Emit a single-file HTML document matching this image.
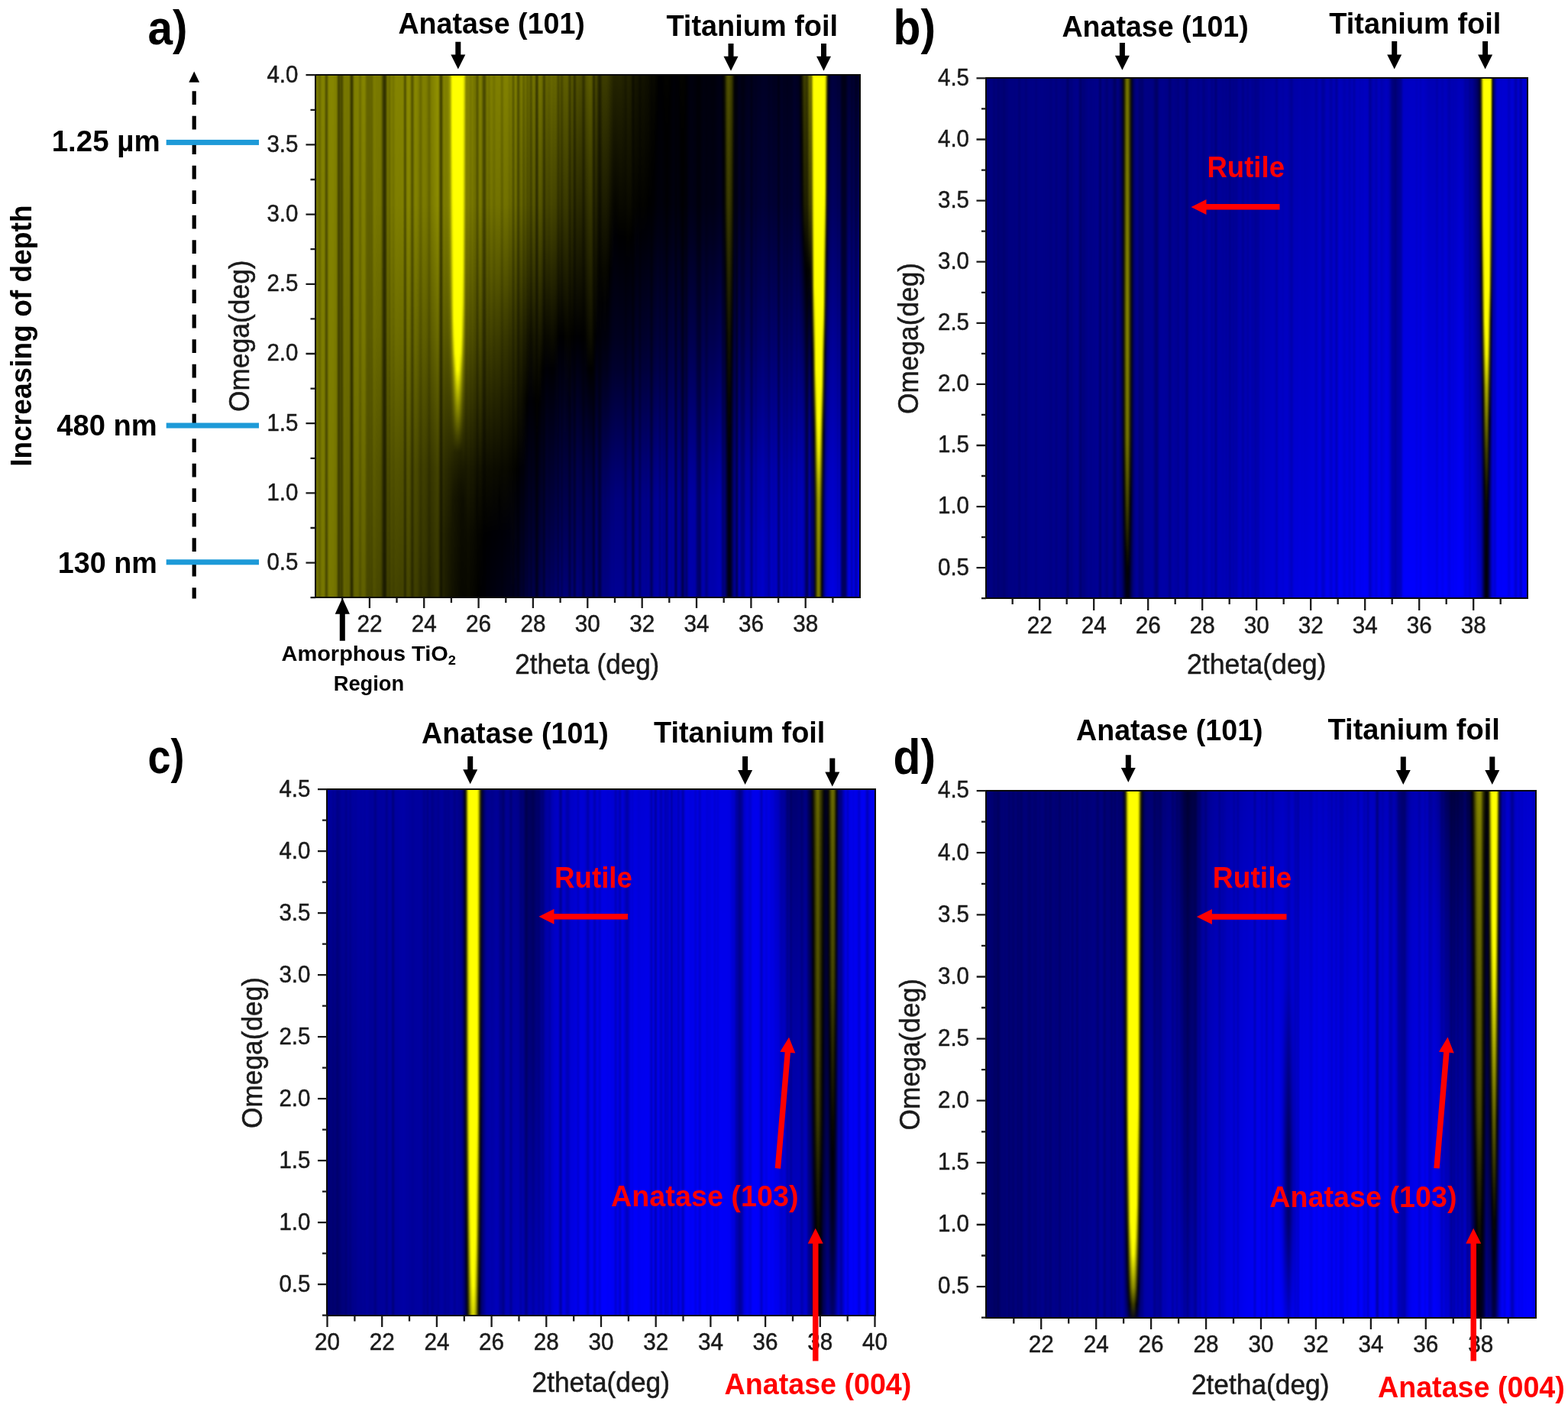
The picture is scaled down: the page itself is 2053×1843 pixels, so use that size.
<!DOCTYPE html><html><head><meta charset="utf-8"><title>XRD maps</title><style>
html,body{margin:0;padding:0;background:#fff}
body{width:2053px;height:1843px;position:relative;overflow:hidden}
.hm{position:absolute;display:flex;overflow:hidden}
.hm u{display:flex;position:absolute;left:-4px;top:-4px;right:-4px;bottom:-4px;filter:blur(1px);text-decoration:none}
.hm i{display:block;flex:none;width:2px;height:100%}
.hm b{display:block;position:absolute;left:4px;top:0;right:4px;height:100%}
svg{position:absolute;left:0;top:0}
text{font-family:"Liberation Sans",sans-serif}
.b{font-weight:bold}
</style></head><body>
<div class="hm" style="left:413px;top:98px;width:713px;height:684px"><u><i style="background:linear-gradient(#797900,#707000)"></i><i style="background:linear-gradient(#797900,#707000)"></i><i style="background:linear-gradient(#797900,#707000)"></i><i style="background:linear-gradient(#7a7a00,#707000)"></i><i style="background:linear-gradient(#7c7c00,#727200)"></i><i style="background:linear-gradient(#7f7f00,#747400)"></i><i style="background:linear-gradient(#828200,#767600)"></i><i style="background:linear-gradient(#838300,#770)"></i><i style="background:linear-gradient(#838300,#767600)"></i><i style="background:linear-gradient(#848400,#770)"></i><i style="background:linear-gradient(#858500,#770)"></i><i style="background:linear-gradient(#868600,#787800)"></i><i style="background:linear-gradient(#878700,#770)"></i><i style="background:linear-gradient(#868600,#767600)"></i><i style="background:linear-gradient(#838300,#737300)"></i><i style="background:linear-gradient(#818100,#6f6f00)"></i><i style="background:linear-gradient(#7e7e00,#6c6c00)"></i><i style="background:linear-gradient(#7d7d00,#6b6b00)"></i><i style="background:linear-gradient(#7d7d00,#696900)"></i><i style="background:linear-gradient(#7b7b00,#676700)"></i><i style="background:linear-gradient(#7a7a00,#656500)"></i><i style="background:linear-gradient(#797900,#626200)"></i><i style="background:linear-gradient(#787800,#606000)"></i><i style="background:linear-gradient(#797900,#606000)"></i><i style="background:linear-gradient(#7b7b00,#616100)"></i><i style="background:linear-gradient(#7d7d00,#626200)"></i><i style="background:linear-gradient(#7f7f00,#757500,#626200)"></i><i style="background:linear-gradient(#808000,#757500,#626200)"></i><i style="background:linear-gradient(#808000,#757500,#616100)"></i><i style="background:linear-gradient(#818100,#757500,#616100)"></i><i style="background:linear-gradient(#828200,#767600,#606000)"></i><i style="background:linear-gradient(#838300,#767600,#606000)"></i><i style="background:linear-gradient(#848400,#767600,#5f5f00)"></i><i style="background:linear-gradient(#848400,#767600,#5e5e00)"></i><i style="background:linear-gradient(#858500,#770,#5e5e00)"></i><i style="background:linear-gradient(#868600,#787800,#5e5e00)"></i><i style="background:linear-gradient(#878700,#848400,#787800,#696900,#5d5d00)"></i><i style="background:linear-gradient(#880,#787800,#5d5d00)"></i><i style="background:linear-gradient(#868600,#767600,#5a5a00)"></i><i style="background:linear-gradient(#828200,#727200,#550)"></i><i style="background:linear-gradient(#7e7e00,#7b7b00,#6d6d00,#5c5c00,#4f4f00)"></i><i style="background:linear-gradient(#7a7a00,#770,#696900,#575700,#4a4a00)"></i><i style="background:linear-gradient(#797900,#757500,#676700,#550,#474700)"></i><i style="background:linear-gradient(#797900,#757500,#676700,#545400,#464600)"></i><i style="background:linear-gradient(#797900,#757500,#660,#525200,#454500)"></i><i style="background:linear-gradient(#787800,#757500,#660,#515100,#434300)"></i><i style="background:linear-gradient(#787800,#747400,#656500,#505000,#424200)"></i><i style="background:linear-gradient(#787800,#747400,#656500,#4f4f00,#414100)"></i><i style="background:linear-gradient(#7a7a00,#757500,#656500,#4f4f00,#414100)"></i><i style="background:linear-gradient(#7d7d00,#787800,#686800,#525200,#424200)"></i><i style="background:linear-gradient(#818100,#7c7c00,#6b6b00,#545400,#454500)"></i><i style="background:linear-gradient(#848400,#7f7f00,#6e6e00,#575700,#474700)"></i><i style="background:linear-gradient(#858500,#808000,#6f6f00,#575700,#474700)"></i><i style="background:linear-gradient(#858500,#808000,#6e6e00,#565600,#454500)"></i><i style="background:linear-gradient(#858500,#7f7f00,#6e6e00,#545400,#440)"></i><i style="background:linear-gradient(#848400,#7f7f00,#6d6d00,#535300,#424200)"></i><i style="background:linear-gradient(#848400,#7e7e00,#6c6c00,#525200,#414100)"></i><i style="background:linear-gradient(#848400,#7e7e00,#6b6b00,#515100,#404000)"></i><i style="background:linear-gradient(#848400,#7f7f00,#6b6b00,#505000,#414100)"></i><i style="background:linear-gradient(#868600,#818100,#6c6c00,#515100,#424200)"></i><i style="background:linear-gradient(#880,#838300,#6e6e00,#525200,#434300)"></i><i style="background:linear-gradient(#8a8a00,#848400,#6f6f00,#535300,#440)"></i><i style="background:linear-gradient(#8a8a00,#858500,#6f6f00,#535300,#440)"></i><i style="background:linear-gradient(#8a8a00,#858500,#6e6e00,#525200,#434300)"></i><i style="background:linear-gradient(#898900,#848400,#6d6d00,#505000,#414100)"></i><i style="background:linear-gradient(#880,#838300,#6b6b00,#4e4e00,#404000)"></i><i style="background:linear-gradient(#878700,#828200,#6a6a00,#4c4c00,#3e3e00)"></i><i style="background:linear-gradient(#878700,#818100,#696900,#4b4b00,#3d3d00)"></i><i style="background:linear-gradient(#868600,#818100,#676700,#494900,#3c3c00)"></i><i style="background:linear-gradient(#848400,#7f7f00,#656500,#474700,#3a3a00)"></i><i style="background:linear-gradient(#828200,#7d7d00,#636300,#440,#373700)"></i><i style="background:linear-gradient(#818100,#7b7b00,#606000,#414100,#353500)"></i><i style="background:linear-gradient(#808000,#7b7b00,#5f5f00,#3f3f00,#330)"></i><i style="background:linear-gradient(#808000,#7a7a00,#5e5e00,#3e3e00,#323200)"></i><i style="background:linear-gradient(#7f7f00,#7a7a00,#5e5e00,#3d3d00,#303000)"></i><i style="background:linear-gradient(#7f7f00,#7a7a00,#5d5d00,#3b3b00,#2e2e00)"></i><i style="background:linear-gradient(#7f7f00,#7a7a00,#5c5c00,#393900,#2c2c00)"></i><i style="background:linear-gradient(#7f7f00,#797900,#5c5c00,#383800,#2b2b00)"></i><i style="background:linear-gradient(#818100,#7b7b00,#5d5d00,#383800,#2b2b00)"></i><i style="background:linear-gradient(#858500,#808000,#616100,#3b3b00,#2e2e00)"></i><i style="background:linear-gradient(#8b8b00,#858500,#660,#3f3f00,#323200)"></i><i style="background:linear-gradient(#8f8f00,#8a8a00,#6a6a00,#424200,#343400)"></i><i style="background:linear-gradient(#919100,#8e8e00,#8c8c00,#7d7d00,#6c6c00,#585800,#434300,#383800,#353500)"></i><i style="background:linear-gradient(#8f8f00,#8c8c00,#8a8a00,#7b7b00,#696900,#550,#404000,#353500,#313100)"></i><i style="background:linear-gradient(#8a8a00,#880,#858500,#767600,#656500,#505000,#3a3a00,#2f2f00,#2b2b00)"></i><i style="background:linear-gradient(#858500,#828200,#808000,#707000,#5f5f00,#4a4a00,#330,#282800,#242400)"></i><i style="background:linear-gradient(#818100,#7e7e00,#7b7b00,#6c6c00,#5a5a00,#440,#2d2d00,#220,#1e1e00)"></i><i style="background:linear-gradient(#7f7f00,#7d7d00,#7a7a00,#6a6a00,#585800,#414100,#2a2a00,#1e1e00,#1b1b00)"></i><i style="background:linear-gradient(#828200,#7f7f00,#7c7c00,#6b6b00,#585800,#414100,#282800,#1c1c00,#191900)"></i><i style="background:linear-gradient(#8e8e00,#898900,#858500,#737300,#5d5d00,#414100,#262600,#1a1a00,#161600)"></i><i style="background:linear-gradient(#b4b400,#abab00,#a3a300,#8d8d00,#6e6e00,#440,#242400,#171700,#141400)"></i><i style="background:linear-gradient(#ff0,#ff0,#ff0,#f7f700,#ee0,#dfdf00,#cfcf00,#bebe00,#9a9a00,#6e6e00,#4f4f00,#343400,#220,#171700,#151500,#131300,#110)"></i><i style="background:linear-gradient(#ff0,#ff0,#ff0,#ff0,#ff0,#ff0,#ff0,#ff0,#ff0,#ff0,#ff0,#ff0,#ff0,#ff0,#ff0,#ff0,#ebeb00,#c6c600,#9a9a00,#7d7d00,#656500,#4f4f00,#3a3a00,#272700,#202000,#1a1a00,#151500,#151500,#141400,#131300,#121200,#110,#101000)"></i><i style="background:linear-gradient(#ff0,#ff0,#ff0,#ff0,#ff0,#ff0,#ff0,#ff0,#ff0,#ff0,#ff0,#ff0,#ff0,#ff0,#ff0,#ff0,#ff0,#ff0,#d2d200,#a6a600,#828200,#626200,#424200,#262600,#1f1f00,#181800,#141400,#131300,#121200,#110,#101000,#0f0f00,#0e0e00)"></i><i style="background:linear-gradient(#ff0,#ff0,#ff0,#ff0,#ff0,#ff0,#ff0,#ff0,#ff0,#ff0,#ff0,#ff0,#ff0,#ff0,#ff0,#ff0,#ff0,#ff0,#ff0,#c8c800,#990,#707000,#484800,#252500,#1d1d00,#171700,#121200,#110,#101000,#0f0f00,#0e0e00,#0d0d00,#0d0d00)"></i><i style="background:linear-gradient(#ff0,#ff0,#ff0,#ff0,#ff0,#ff0,#ff0,#ff0,#ff0,#ff0,#ff0,#ff0,#ff0,#ff0,#ff0,#ff0,#ff0,#ff0,#ff0,#cece00,#9e9e00,#727200,#484800,#242400,#1c1c00,#151500,#110,#101000,#0f0f00,#0e0e00,#0d0d00,#0c0c00,#0b0b00)"></i><i style="background:linear-gradient(#ff0,#ff0,#ff0,#ff0,#ff0,#ff0,#ff0,#ff0,#ff0,#ff0,#ff0,#ff0,#ff0,#ff0,#ff0,#ff0,#ff0,#ff0,#e8e800,#b4b400,#8b8b00,#660,#414100,#220,#1a1a00,#131300,#0f0f00,#0e0e00,#0d0d00,#0c0c00,#0b0b00,#0a0a00,#090900)"></i><i style="background:linear-gradient(#ff0,#ff0,#ff0,#ff0,#ff0,#ff0,#ff0,#ff0,#ff0,#ff0,#ff0,#ff0,#ff0,#ff0,#ff0,#ff0,#ff0,#e7e700,#aeae00,#8a8a00,#6c6c00,#525200,#373700,#202000,#191900,#121200,#0e0e00,#0c0c00,#0b0b00,#0a0a00,#090900,#080800,#070700)"></i><i style="background:linear-gradient(#ff0,#ff0,#ff0,#ff0,#ff0,#ff0,#fcfc00,#e7e700,#b6b600,#7a7a00,#515100,#2f2f00,#191900,#0d0d00,#0b0b00,#090900,#070700)"></i><i style="background:linear-gradient(#d7d700,#d0d000,#caca00,#c3c300,#bdbd00,#b1b100,#a2a200,#949400,#797900,#5a5a00,#414100,#2b2b00,#191900,#0e0e00,#0c0c00,#0a0a00,#070700)"></i><i style="background:linear-gradient(#9c9c00,#959500,#8f8f00,#797900,#5e5e00,#3a3a00,#1b1b00,#0d0d00,#080800)"></i><i style="background:linear-gradient(#880,#838300,#7f7f00,#6c6c00,#550,#393900,#1c1c00,#0e0e00,#090900)"></i><i style="background:linear-gradient(#838300,#7f7f00,#7b7b00,#686800,#525200,#383800,#1c1c00,#0d0d00,#090900)"></i><i style="background:linear-gradient(#818100,#7e7e00,#7a7a00,#676700,#515100,#373700,#1b1b00,#0c0c00,#070700)"></i><i style="background:linear-gradient(#818100,#7e7e00,#7a7a00,#676700,#515100,#363600,#1a1a00,#0b0b00,#060600)"></i><i style="background:linear-gradient(#818100,#7e7e00,#7a7a00,#660,#505000,#353500,#191900,#0a0a00,#050500)"></i><i style="background:linear-gradient(#818100,#7e7e00,#7a7a00,#660,#505000,#353500,#181800,#090900,#040400)"></i><i style="background:linear-gradient(#818100,#7f7f00,#7e7e00,#7c7c00,#7a7a00,#717100,#660,#5a5a00,#4f4f00,#424200,#343400,#252500,#171700,#0a0a00,#080800,#050500,#030300)"></i><i style="background:linear-gradient(#818100,#7d7d00,#797900,#656500,#4e4e00,#330,#151500,#060600,#010100)"></i><i style="background:linear-gradient(#808000,#7c7c00,#787800,#636300,#4c4c00,#313100,#141400,#040400,#000001)"></i><i style="background:linear-gradient(#7f7f00,#7b7b00,#767600,#616100,#4a4a00,#2f2f00,#121200,#030300,#000004)"></i><i style="background:linear-gradient(#7e7e00,#7a7a00,#757500,#606000,#484800,#2d2d00,#101000,#010100,#000006)"></i><i style="background:linear-gradient(#7e7e00,#797900,#747400,#5e5e00,#464600,#2b2b00,#0f0f00,#000001,#000008)"></i><i style="background:linear-gradient(#7e7e00,#797900,#747400,#5d5d00,#454500,#2a2a00,#0f0f00,#000001,#00000a)"></i><i style="background:linear-gradient(#7e7e00,#797900,#737300,#5d5d00,#440,#292900,#0e0e00,#000002,#00000b)"></i><i style="background:linear-gradient(#7e7e00,#797900,#737300,#5c5c00,#434300,#282800,#0e0e00,#000002,#00000c)"></i><i style="background:linear-gradient(#7f7f00,#797900,#737300,#5c5c00,#424200,#272700,#0e0e00,#000003,#00000d)"></i><i style="background:linear-gradient(#7f7f00,#797900,#737300,#5b5b00,#404000,#262600,#0d0d00,#000004,#00000e)"></i><i style="background:linear-gradient(#7f7f00,#797900,#727200,#5a5a00,#3f3f00,#252500,#0c0c00,#000005,#000010)"></i><i style="background:linear-gradient(#7f7f00,#797900,#727200,#5a5a00,#3e3e00,#252500,#0c0c00,#000005,#001)"></i><i style="background:linear-gradient(#808000,#797900,#727200,#595900,#3d3d00,#242400,#0c0c00,#000005,#000012)"></i><i style="background:linear-gradient(#808000,#797900,#727200,#595900,#3c3c00,#232300,#0b0b00,#000006,#000013)"></i><i style="background:linear-gradient(#808000,#7d7d00,#797900,#757500,#727200,#660,#585800,#494900,#3b3b00,#2e2e00,#220,#171700,#0b0b00,#000,#000007,#00000d,#000014)"></i><i style="background:linear-gradient(#808000,#797900,#727200,#575700,#3a3a00,#212100,#0a0a00,#000007,#000015)"></i><i style="background:linear-gradient(#818100,#797900,#727200,#575700,#393900,#212100,#0a0a00,#000008,#000016)"></i><i style="background:linear-gradient(#818100,#7a7a00,#727200,#575700,#383800,#202000,#0a0a00,#000008,#000017)"></i><i style="background:linear-gradient(#828200,#7a7a00,#727200,#565600,#373700,#1f1f00,#0a0a00,#000008,#000018)"></i><i style="background:linear-gradient(#828200,#797900,#717100,#550,#363600,#1e1e00,#090900,#00000a,#00001a)"></i><i style="background:linear-gradient(#828200,#797900,#707000,#545400,#353500,#1d1d00,#080800,#00000b,#00001c)"></i><i style="background:linear-gradient(#828200,#797900,#707000,#545400,#343400,#1c1c00,#070700,#00000c,#00001e)"></i><i style="background:linear-gradient(#838300,#707000,#343400,#060600,#000020)"></i><i style="background:linear-gradient(#838300,#6f6f00,#330,#050500,#000021)"></i><i style="background:linear-gradient(#838300,#6e6e00,#323200,#040400,#000024)"></i><i style="background:linear-gradient(#828200,#6d6d00,#303000,#020200,#000027)"></i><i style="background:linear-gradient(#808000,#6a6a00,#2d2d00,#000001,#00002a)"></i><i style="background:linear-gradient(#7e7e00,#676700,#2a2a00,#000004,#00002e)"></i><i style="background:linear-gradient(#7c7c00,#717100,#656500,#474700,#272700,#0f0f00,#000007,#00001c,#000032)"></i><i style="background:linear-gradient(#7c7c00,#6f6f00,#636300,#464600,#252500,#0d0d00,#000009,#00001f,#000035)"></i><i style="background:linear-gradient(#7a7a00,#6d6d00,#616100,#434300,#232300,#0a0a00,#00000b,#002,#000039)"></i><i style="background:linear-gradient(#767600,#6a6a00,#5d5d00,#3f3f00,#1e1e00,#050500,#000010,#000027,#00003f)"></i><i style="background:linear-gradient(#727200,#656500,#585800,#3a3a00,#191900,#000,#000015,#00002c,#000045)"></i><i style="background:linear-gradient(#6f6f00,#616100,#545400,#353500,#141400,#000004,#00001a,#000031,#00004a)"></i><i style="background:linear-gradient(#6d6d00,#5f5f00,#515100,#330,#110,#000007,#00001d,#000034,#00004e)"></i><i style="background:linear-gradient(#6f6f00,#606000,#525200,#330,#121200,#000007,#00001c,#000035,#00004f)"></i><i style="background:linear-gradient(#727200,#636300,#550,#363600,#141400,#000004,#00001a,#000032,#00004d)"></i><i style="background:linear-gradient(#767600,#676700,#585800,#393900,#181800,#000001,#000017,#000030,#00004b)"></i><i style="background:linear-gradient(#797900,#6a6a00,#5a5a00,#3c3c00,#1b1b00,#010100,#000015,#00002e,#000049)"></i><i style="background:linear-gradient(#7a7a00,#6a6a00,#5b5b00,#3c3c00,#1c1c00,#020200,#000016,#00002f,#00004a)"></i><i style="background:linear-gradient(#770,#686800,#585800,#3a3a00,#191900,#000001,#000019,#003,#00004e)"></i><i style="background:linear-gradient(#737300,#6b6b00,#636300,#5b5b00,#535300,#454500,#353500,#252500,#151500,#060600,#000006,#000012,#00001e,#00002b,#000038,#000046,#000054)"></i><i style="background:linear-gradient(#6e6e00,#660,#5e5e00,#565600,#4e4e00,#404000,#303000,#202000,#101000,#010100,#00000b,#000018,#000024,#000031,#00003f,#00004c,#00005a)"></i><i style="background:linear-gradient(#6a6a00,#616100,#595900,#515100,#494900,#3b3b00,#2b2b00,#1b1b00,#0b0b00,#000003,#000010,#00001d,#00002a,#000037,#004,#000052,#000060)"></i><i style="background:linear-gradient(#676700,#5f5f00,#575700,#4e4e00,#464600,#383800,#292900,#191900,#090900,#000006,#000013,#000020,#00002d,#00003a,#000048,#000056,#000064)"></i><i style="background:linear-gradient(#676700,#5f5f00,#565600,#4e4e00,#464600,#383800,#282800,#181800,#090900,#000006,#000013,#000021,#00002e,#00003c,#00004a,#000057,#000065)"></i><i style="background:linear-gradient(#686800,#606000,#575700,#4f4f00,#464600,#383800,#292900,#191900,#0a0a00,#000005,#000013,#000021,#00002e,#00003c,#00004a,#000058,#006)"></i><i style="background:linear-gradient(#696900,#616100,#585800,#505000,#474700,#393900,#2a2a00,#1a1a00,#0b0b00,#000004,#000012,#000020,#00002e,#00003c,#00004a,#000058,#006)"></i><i style="background:linear-gradient(#6a6a00,#626200,#595900,#505000,#484800,#3a3a00,#2b2b00,#1b1b00,#0c0c00,#000003,#001,#000020,#00002e,#00003c,#00004a,#000058,#006)"></i><i style="background:linear-gradient(#6a6a00,#626200,#595900,#505000,#474700,#3a3a00,#2a2a00,#1b1b00,#0c0c00,#000003,#000012,#000020,#00002f,#00003e,#00004c,#00005a,#000068)"></i><i style="background:linear-gradient(#696900,#606000,#575700,#4e4e00,#454500,#373700,#282800,#191900,#0a0a00,#000005,#000014,#000023,#000032,#000041,#00004f,#00005d,#00006b)"></i><i style="background:linear-gradient(#656500,#5c5c00,#535300,#4a4a00,#414100,#343400,#252500,#161600,#070700,#000008,#000018,#000027,#000036,#000045,#000053,#000061,#00006f)"></i><i style="background:linear-gradient(#626200,#3d3d00,#030300,#00003a,#000074)"></i><i style="background:linear-gradient(#5f5f00,#3a3a00,#000,#00003f,#000079)"></i><i style="background:linear-gradient(#5d5d00,#383800,#000002,#000041,#00007c)"></i><i style="background:linear-gradient(#5d5d00,#373700,#000001,#000042,#00007c)"></i><i style="background:linear-gradient(#5e5e00,#383800,#000,#000041,#00007a)"></i><i style="background:linear-gradient(#5f5f00,#393900,#030300,#00003f,#000078)"></i><i style="background:linear-gradient(#606000,#4d4d00,#3a3a00,#202000,#040400,#00001c,#00003e,#00005c,#000076)"></i><i style="background:linear-gradient(#5f5f00,#4c4c00,#393900,#1f1f00,#050500,#00001c,#00003f,#00005c,#000076)"></i><i style="background:linear-gradient(#5d5d00,#4a4a00,#373700,#1e1e00,#040400,#00001d,#000041,#00005e,#000078)"></i><i style="background:linear-gradient(#5b5b00,#343400,#020200,#000043,#00007a)"></i><i style="background:linear-gradient(#585800,#313100,#000,#000046,#00007c)"></i><i style="background:linear-gradient(#550,#2e2e00,#000002,#000049,#00007e)"></i><i style="background:linear-gradient(#535300,#2c2c00,#000003,#00004b,#00007f)"></i><i style="background:linear-gradient(#525200,#2b2b00,#000003,#00004b,#00007f)"></i><i style="background:linear-gradient(#535300,#2b2b00,#000002,#00004b,#00007f)"></i><i style="background:linear-gradient(#535300,#3f3f00,#2c2c00,#151500,#000001,#000024,#00004b,#000068,#00007e)"></i><i style="background:linear-gradient(#535300,#3f3f00,#2c2c00,#161600,#000,#000023,#00004b,#000067,#00007d)"></i><i style="background:linear-gradient(#525200,#3e3e00,#2b2b00,#151500,#000,#000023,#00004b,#000068,#00007d)"></i><i style="background:linear-gradient(#535300,#3f3f00,#2b2b00,#161600,#010100,#002,#00004b,#000067,#00007c)"></i><i style="background:linear-gradient(#565600,#4c4c00,#424200,#383800,#2e2e00,#242400,#1a1a00,#101000,#060600,#000009,#00001e,#003,#000047,#00005a,#000064,#00006e,#000078)"></i><i style="background:linear-gradient(#5b5b00,#515100,#474700,#3d3d00,#330,#292900,#1f1f00,#151500,#0b0b00,#000004,#000019,#00002e,#000043,#005,#00005f,#000069,#000073)"></i><i style="background:linear-gradient(#5e5e00,#545400,#4a4a00,#404000,#363600,#2c2c00,#220,#181800,#0e0e00,#000001,#000015,#00002a,#00003f,#000052,#00005b,#000065,#00006f)"></i><i style="background:linear-gradient(#5e5e00,#545400,#4b4b00,#414100,#373700,#2d2d00,#232300,#191900,#0f0f00,#000,#000015,#000029,#00003e,#000051,#00005a,#000064,#00006d)"></i><i style="background:linear-gradient(#5a5a00,#505000,#474700,#3d3d00,#330,#2a2a00,#202000,#161600,#0c0c00,#000003,#000018,#00002d,#000042,#000054,#00005e,#000067,#000070)"></i><i style="background:linear-gradient(#535300,#494900,#404000,#363600,#2d2d00,#232300,#191900,#0f0f00,#050500,#00000a,#00001e,#003,#000048,#00005b,#000064,#00006d,#000076)"></i><i style="background:linear-gradient(#4b4b00,#383800,#252500,#121200,#000002,#000026,#000050,#00006c,#00007e)"></i><i style="background:linear-gradient(#440,#313100,#1f1f00,#0b0b00,#000008,#00002c,#000056,#000072,#000084)"></i><i style="background:linear-gradient(#404000,#373700,#2d2d00,#242400,#1b1b00,#110,#080800,#000002,#00000c,#00001b,#000030,#000045,#00005a,#00006d,#000075,#00007e,#000087)"></i><i style="background:linear-gradient(#3f3f00,#2d2d00,#1a1a00,#070700,#00000c,#000030,#00005b,#000076,#000087)"></i><i style="background:linear-gradient(#3e3e00,#353500,#2c2c00,#232300,#1a1a00,#110,#070700,#000002,#00000c,#00001b,#000030,#000045,#00005a,#00006d,#000075,#00007e,#000086)"></i><i style="background:linear-gradient(#3e3e00,#353500,#2d2d00,#242400,#1b1b00,#110,#080800,#000002,#00000c,#00001b,#000030,#000045,#00005a,#00006d,#000075,#00007d,#000085)"></i><i style="background:linear-gradient(#3e3e00,#2c2c00,#1b1b00,#080800,#00000b,#00002f,#00005a,#000075,#000085)"></i><i style="background:linear-gradient(#3d3d00,#343400,#2b2b00,#232300,#1a1a00,#110,#070700,#000002,#00000c,#00001b,#000030,#000045,#00005a,#00006d,#000075,#00007d,#000085)"></i><i style="background:linear-gradient(#3a3a00,#313100,#292900,#202000,#171700,#0e0e00,#050500,#000005,#00000e,#00001d,#003,#000048,#00005d,#000070,#000078,#00007f,#000087)"></i><i style="background:linear-gradient(#343400,#242400,#131300,#000,#000013,#000037,#000062,#00007c,#00008b)"></i><i style="background:linear-gradient(#2f2f00,#262600,#1e1e00,#161600,#0d0d00,#040400,#000005,#00000f,#000018,#000027,#00003d,#000052,#000067,#00007a,#000081,#000089,#000090)"></i><i style="background:linear-gradient(#292900,#191900,#090900,#00000a,#00001d,#000041,#00006c,#000086,#000095)"></i><i style="background:linear-gradient(#262600,#1e1e00,#161600,#0e0e00,#060600,#000003,#00000d,#000016,#00001f,#00002e,#004,#000059,#00006f,#000081,#008,#000090,#000097)"></i><i style="background:linear-gradient(#252500,#1d1d00,#151500,#0d0d00,#050500,#000004,#00000d,#000016,#000020,#00002f,#004,#00005a,#00006f,#000082,#000089,#000090,#000097)"></i><i style="background:linear-gradient(#252500,#1e1e00,#161600,#0e0e00,#060600,#000003,#00000c,#000016,#00001f,#00002e,#004,#000059,#00006e,#000081,#008,#00008f,#000096)"></i><i style="background:linear-gradient(#262600,#1e1e00,#171700,#0f0f00,#080800,#000001,#00000b,#000015,#00001f,#00002e,#000043,#000058,#00006d,#000080,#000087,#00008e,#000095)"></i><i style="background:linear-gradient(#262600,#1e1e00,#171700,#101000,#090900,#000001,#00000a,#000014,#00001e,#00002d,#000043,#000058,#00006d,#00007f,#000086,#00008d,#000094)"></i><i style="background:linear-gradient(#252500,#1e1e00,#171700,#101000,#090900,#000001,#00000b,#000015,#00001f,#00002e,#000043,#000058,#00006d,#00007f,#000086,#00008d,#000094)"></i><i style="background:linear-gradient(#242400,#1d1d00,#161600,#0f0f00,#090900,#000001,#00000b,#000015,#00001f,#00002f,#004,#000059,#00006e,#000080,#000087,#00008e,#000094)"></i><i style="background:linear-gradient(#242400,#1d1d00,#161600,#101000,#090900,#000,#00000a,#000015,#00001f,#00002e,#000043,#000058,#00006d,#00007f,#000086,#00008d,#000094)"></i><i style="background:linear-gradient(#242400,#1d1d00,#171700,#110,#0a0a00,#010100,#000009,#000014,#00001e,#00002e,#000043,#000057,#00006c,#00007e,#000085,#00008c,#000093)"></i><i style="background:linear-gradient(#242400,#1e1e00,#171700,#110,#0b0b00,#020200,#000009,#000013,#00001e,#00002d,#000042,#000057,#00006c,#00007e,#000085,#00008b,#000092)"></i><i style="background:linear-gradient(#232300,#1d1d00,#171700,#110,#0b0b00,#020200,#000009,#000014,#00001f,#00002e,#000043,#000057,#00006c,#00007e,#000085,#00008b,#000092)"></i><i style="background:linear-gradient(#212100,#1b1b00,#151500,#101000,#0a0a00,#000,#00000b,#000015,#000020,#000030,#004,#000059,#00006e,#000080,#000086,#00008d,#000093)"></i><i style="background:linear-gradient(#1e1e00,#181800,#131300,#0e0e00,#080800,#000002,#00000d,#000018,#000023,#000032,#000047,#00005b,#000070,#000082,#008,#00008f,#000095)"></i><i style="background:linear-gradient(#1b1b00,#161600,#101000,#0b0b00,#060600,#000004,#00000f,#00001a,#000025,#000035,#000049,#00005e,#000072,#000084,#00008b,#000091,#000098)"></i><i style="background:linear-gradient(#181800,#0e0e00,#040400,#001,#000028,#00004c,#000075,#00008d,#00009a)"></i><i style="background:linear-gradient(#161600,#110,#0c0c00,#080800,#030300,#000007,#000012,#00001e,#00002a,#000039,#00004d,#000062,#000076,#008,#00008e,#000095,#00009b)"></i><i style="background:linear-gradient(#151500,#0c0c00,#020200,#000013,#00002a,#00004e,#007,#00008f,#00009b)"></i><i style="background:linear-gradient(#141400,#0f0f00,#0b0b00,#070700,#020200,#000007,#000013,#00001f,#00002b,#00003b,#00004f,#000063,#007,#000089,#00008f,#000095,#00009c)"></i><i style="background:linear-gradient(#131300,#0f0f00,#0b0b00,#070700,#030300,#000007,#000013,#00001f,#00002b,#00003b,#00004f,#000063,#007,#000089,#00008f,#000095,#00009b)"></i><i style="background:linear-gradient(#131300,#0f0f00,#0b0b00,#070700,#030300,#000007,#000013,#00001f,#00002b,#00003b,#00004f,#000063,#007,#000089,#00008f,#000095,#00009b)"></i><i style="background:linear-gradient(#121200,#0e0e00,#0a0a00,#060600,#020200,#000008,#000014,#000020,#00002c,#00003c,#000050,#000064,#000078,#000089,#00008f,#000095,#00009b)"></i><i style="background:linear-gradient(#110,#0d0d00,#090900,#050500,#020200,#000008,#000015,#000021,#00002d,#00003d,#000051,#000065,#000079,#00008a,#000090,#000096,#00009c)"></i><i style="background:linear-gradient(#0f0f00,#0c0c00,#080800,#040400,#000,#00000a,#000016,#002,#00002f,#00003e,#000052,#006,#00007a,#00008b,#000091,#000097,#00009d)"></i><i style="background:linear-gradient(#0e0e00,#0a0a00,#070700,#030300,#000001,#00000b,#000017,#000024,#000030,#000040,#000054,#000068,#00007c,#00008d,#000092,#000098,#00009e)"></i><i style="background:linear-gradient(#0d0d00,#090900,#050500,#020200,#000002,#00000c,#000018,#000025,#000031,#000041,#005,#000069,#00007d,#00008e,#000094,#009,#00009f)"></i><i style="background:linear-gradient(#0b0b00,#080800,#040400,#010100,#000003,#00000d,#000019,#000026,#000032,#000042,#000056,#00006a,#00007e,#00008f,#000094,#00009a,#0000a0)"></i><i style="background:linear-gradient(#0a0a00,#060600,#030300,#000001,#000004,#00000e,#00001b,#000027,#000034,#004,#000058,#00006c,#00007f,#000090,#000096,#00009b,#0000a1)"></i><i style="background:linear-gradient(#070700,#040400,#000,#000003,#000006,#001,#00001d,#00002a,#000037,#000047,#00005a,#00006e,#000082,#000093,#000098,#00009e,#0000a3)"></i><i style="background:linear-gradient(#040400,#010100,#000003,#000006,#000009,#000013,#000020,#00002d,#00003a,#00004a,#00005d,#000071,#000085,#000096,#00009b,#0000a0,#0000a6)"></i><i style="background:linear-gradient(#010100,#000002,#000005,#000008,#00000c,#000016,#000023,#000030,#00003c,#00004c,#000060,#000074,#000087,#000098,#00009d,#0000a3,#0000a8)"></i><i style="background:linear-gradient(#000,#000004,#000007,#00000a,#00000d,#000017,#000024,#000031,#00003e,#00004e,#000062,#000075,#000089,#00009a,#00009f,#0000a4,#0000a9)"></i><i style="background:linear-gradient(#000,#000003,#000007,#00000a,#00000d,#000017,#000024,#000031,#00003e,#00004e,#000062,#000075,#000089,#00009a,#00009f,#0000a4,#0000a9)"></i><i style="background:linear-gradient(#010100,#000002,#000005,#000008,#00000b,#000015,#002,#00002f,#00003c,#00004c,#000060,#000074,#000087,#000098,#00009d,#0000a2,#0000a7)"></i><i style="background:linear-gradient(#030300,#000,#000003,#000006,#000009,#000013,#000020,#00002d,#00003a,#00004a,#00005e,#000072,#000085,#000096,#00009a,#00009f,#0000a4)"></i><i style="background:linear-gradient(#050500,#020200,#000001,#000004,#000007,#001,#00001e,#00002c,#000039,#000049,#00005c,#000070,#000083,#000094,#009,#00009d,#0000a2)"></i><i style="background:linear-gradient(#050500,#020200,#000001,#000004,#000006,#001,#00001e,#00002b,#000039,#000049,#00005c,#000070,#000083,#000094,#000098,#00009d,#0000a1)"></i><i style="background:linear-gradient(#030300,#000,#000003,#000005,#000008,#000012,#000020,#00002d,#00003b,#00004b,#00005e,#000072,#000085,#000095,#00009a,#00009e,#0000a3)"></i><i style="background:linear-gradient(#000,#000003,#000005,#000008,#00000b,#000015,#000023,#000030,#00003e,#00004e,#000061,#000074,#008,#000098,#00009d,#0000a1,#0000a5)"></i><i style="background:linear-gradient(#000003,#000006,#000009,#00000b,#00000e,#000019,#000026,#000034,#000041,#000051,#000065,#000078,#00008b,#00009b,#0000a0,#0000a4,#0000a8)"></i><i style="background:linear-gradient(#000006,#000009,#00000b,#00000e,#001,#00001b,#000029,#000037,#004,#000054,#000068,#00007b,#00008e,#00009e,#0000a2,#0000a7,#0000ab)"></i><i style="background:linear-gradient(#000008,#00000a,#00000d,#000010,#000012,#00001d,#00002b,#000038,#000046,#000056,#000069,#00007c,#000090,#0000a0,#0000a4,#0000a8,#0000ac)"></i><i style="background:linear-gradient(#000006,#000009,#00000c,#00000f,#001,#00001c,#00002a,#000037,#000045,#005,#000068,#00007b,#00008f,#00009f,#0000a3,#0000a7,#0000ab)"></i><i style="background:linear-gradient(#000003,#000006,#000008,#00000b,#00000e,#000018,#000026,#000034,#000042,#000052,#000065,#000078,#00008b,#00009b,#00009f,#0000a3,#0000a7)"></i><i style="background:linear-gradient(#020200,#000001,#000004,#000006,#000009,#000014,#002,#000030,#00003e,#00004e,#000061,#000074,#000087,#000097,#00009a,#00009e,#0000a2)"></i><i style="background:linear-gradient(#050500,#020200,#000,#000003,#000006,#000010,#00001e,#00002c,#00003a,#00004b,#00005d,#000070,#000083,#000093,#000097,#00009a,#00009e)"></i><i style="background:linear-gradient(#060600,#040400,#010100,#000002,#000004,#00000f,#00001d,#00002b,#00003a,#00004a,#00005d,#00006f,#000082,#000092,#000095,#009,#00009d)"></i><i style="background:linear-gradient(#040400,#010100,#000001,#000004,#000007,#000012,#000020,#00002e,#00003c,#00004c,#00005f,#000072,#000084,#000094,#000097,#00009b,#00009e)"></i><i style="background:linear-gradient(#000,#000003,#000006,#000008,#00000b,#000016,#000024,#003,#000041,#000051,#000064,#000076,#000089,#000098,#00009c,#00009f,#0000a3)"></i><i style="background:linear-gradient(#000005,#000008,#00000b,#00000d,#000010,#00001b,#00002a,#000038,#000046,#000056,#000069,#00007b,#00008e,#00009d,#0000a1,#0000a4,#0000a7)"></i><i style="background:linear-gradient(#00000a,#00000d,#00000f,#000012,#000015,#000020,#00002e,#00003c,#00004b,#00005b,#00006d,#000080,#000092,#0000a2,#0000a5,#0000a8,#0000ab)"></i><i style="background:linear-gradient(#00000c,#00000f,#001,#000014,#000017,#002,#000030,#00003f,#00004d,#00005e,#000070,#000082,#000095,#0000a4,#0000a7,#00a,#0000ad)"></i><i style="background:linear-gradient(#00000c,#00000f,#001,#000014,#000017,#002,#000030,#00003f,#00004d,#00005e,#000070,#000082,#000095,#0000a4,#0000a7,#00a,#0000ad)"></i><i style="background:linear-gradient(#00000b,#00000d,#000010,#000013,#000015,#000021,#00002f,#00003e,#00004c,#00005d,#00006f,#000081,#000093,#0000a3,#0000a5,#0000a8,#0000ab)"></i><i style="background:linear-gradient(#000009,#00000c,#00000e,#001,#000014,#00001f,#00002e,#00003c,#00004b,#00005b,#00006e,#000080,#000092,#0000a1,#0000a4,#0000a7,#0000a9)"></i><i style="background:linear-gradient(#000008,#00000a,#00000d,#000010,#000013,#00001e,#00002d,#00003b,#00004a,#00005a,#00006d,#00007f,#000091,#0000a0,#0000a2,#0000a5,#0000a8)"></i><i style="background:linear-gradient(#000007,#00000a,#00000d,#00000f,#000012,#00001e,#00002c,#00003b,#00004a,#00005a,#00006c,#00007e,#000090,#00009f,#0000a2,#0000a5,#0000a8)"></i><i style="background:linear-gradient(#000008,#00000b,#00000d,#000010,#000013,#00001e,#00002d,#00003c,#00004b,#00005b,#00006d,#00007f,#000091,#0000a0,#0000a3,#0000a6,#0000a9)"></i><i style="background:linear-gradient(#00000a,#00000c,#00000f,#000012,#000014,#000020,#00002f,#00003d,#00004c,#00005d,#00006f,#000081,#000093,#0000a2,#0000a5,#0000a8,#0000ab)"></i><i style="background:linear-gradient(#00000b,#00000e,#000010,#000013,#000016,#000021,#000030,#00003f,#00004e,#00005e,#000070,#000083,#000095,#0000a4,#0000a7,#00a,#0000ad)"></i><i style="background:linear-gradient(#00000d,#00000f,#000012,#000015,#000017,#000023,#000032,#000041,#000050,#000060,#000072,#000084,#000096,#0000a5,#0000a9,#0000ac,#0000af)"></i><i style="background:linear-gradient(#00000d,#000010,#000013,#000015,#000018,#000024,#003,#000042,#000050,#000061,#000073,#000085,#000097,#0000a6,#00a,#0000ad,#0000b0)"></i><i style="background:linear-gradient(#00000d,#000010,#000012,#000015,#000018,#000023,#000032,#000041,#000050,#000061,#000073,#000085,#000097,#0000a6,#00a,#0000ad,#0000b0)"></i><i style="background:linear-gradient(#00000c,#00000f,#001,#000014,#000017,#002,#000031,#000040,#00004f,#000060,#000072,#000084,#000096,#0000a5,#0000a9,#0000ac,#0000b0)"></i><i style="background:linear-gradient(#00000a,#00000d,#000010,#000012,#000015,#000021,#000030,#00003f,#00004e,#00005e,#000070,#000083,#000095,#0000a4,#0000a7,#0000ab,#0000af)"></i><i style="background:linear-gradient(#000009,#00000c,#00000f,#001,#000014,#000020,#00002f,#00003e,#00004d,#00005d,#00006f,#000082,#000094,#0000a3,#0000a7,#00a,#0000ae)"></i><i style="background:linear-gradient(#000009,#00000c,#00000e,#001,#000014,#00001f,#00002e,#00003e,#00004d,#00005d,#00006f,#000081,#000093,#0000a3,#0000a7,#00a,#0000ae)"></i><i style="background:linear-gradient(#00000a,#00000d,#000010,#000012,#000015,#000021,#000030,#00003f,#00004e,#00005f,#000071,#000083,#000095,#0000a4,#0000a8,#0000ac,#0000b0)"></i><i style="background:linear-gradient(#00000d,#000010,#000012,#000015,#000018,#000023,#003,#000042,#000051,#000062,#000074,#000086,#000098,#0000a7,#0000ab,#0000af,#0000b3)"></i><i style="background:linear-gradient(#000010,#000013,#000016,#000018,#00001b,#000027,#000036,#000045,#000054,#000065,#007,#000089,#00009b,#0000ab,#0000af,#0000b3,#0000b7)"></i><i style="background:linear-gradient(#000012,#000015,#000018,#00001b,#00001d,#000029,#000038,#000048,#000057,#000067,#00007a,#00008c,#00009e,#0000ad,#0000b1,#0000b5,#0000b9)"></i><i style="background:linear-gradient(#000012,#000015,#000017,#00001a,#00001d,#000029,#000038,#000047,#000056,#000067,#000079,#00008b,#00009d,#0000ac,#0000b0,#0000b4,#0000b8)"></i><i style="background:linear-gradient(#00000a,#000010,#000016,#000031,#00004f,#000071,#000094,#0000a6,#0000af)"></i><i style="background:linear-gradient(#080800,#050500,#010100,#000002,#000006,#001,#000020,#00002f,#00003e,#00004d,#00005d,#00006d,#00007d,#00008b,#00008e,#000092,#000096)"></i><i style="background:linear-gradient(#272700,#1e1e00,#151500,#000004,#00001f,#00003b,#000056,#000065,#00006a)"></i><i style="background:linear-gradient(#4c4c00,#414100,#353500,#1e1e00,#050500,#000012,#000028,#003,#000036)"></i><i style="background:linear-gradient(#656500,#585800,#4a4a00,#343400,#1c1c00,#090900,#00000a,#000012,#000014)"></i><i style="background:linear-gradient(#616100,#535300,#464600,#303000,#181800,#040400,#00000e,#000017,#000019)"></i><i style="background:linear-gradient(#434300,#363600,#2a2a00,#141400,#000005,#00001c,#000032,#00003e,#000042)"></i><i style="background:linear-gradient(#1c1c00,#121200,#080800,#000010,#00002a,#000045,#000061,#000070,#007)"></i><i style="background:linear-gradient(#000002,#00000b,#000014,#00002c,#000047,#000065,#000085,#000097,#0000a0)"></i><i style="background:linear-gradient(#000012,#00001a,#000023,#00003b,#000057,#007,#000098,#0000ac,#0000b6)"></i><i style="background:linear-gradient(#000018,#000020,#000028,#000041,#00005c,#00007d,#00009f,#0000b3,#0000be)"></i><i style="background:linear-gradient(#000018,#000021,#000029,#000041,#00005c,#00007d,#00009f,#0000b4,#0000bf)"></i><i style="background:linear-gradient(#000017,#000020,#000028,#000040,#00005b,#00007b,#00009e,#0000b2,#0000be)"></i><i style="background:linear-gradient(#000016,#00001f,#000028,#000040,#00005a,#00007a,#00009c,#0000b1,#0000bc)"></i><i style="background:linear-gradient(#000016,#00001f,#000028,#000040,#00005a,#00007a,#00009c,#0000b1,#0000bc)"></i><i style="background:linear-gradient(#000017,#000021,#00002a,#000042,#00005b,#00007b,#00009d,#0000b2,#0000bd)"></i><i style="background:linear-gradient(#000019,#000023,#00002d,#004,#00005d,#00007d,#00009e,#0000b3,#0000bf)"></i><i style="background:linear-gradient(#00001b,#000025,#000030,#000046,#00005f,#00007e,#0000a0,#0000b5,#0000c1)"></i><i style="background:linear-gradient(#00001d,#000028,#000032,#000049,#000061,#000080,#0000a2,#0000b7,#0000c3)"></i><i style="background:linear-gradient(#00001e,#000029,#000034,#00004a,#000062,#000081,#0000a3,#0000b8,#0000c4)"></i><i style="background:linear-gradient(#00001f,#000029,#000034,#00004b,#000063,#000082,#0000a3,#0000b8,#0000c4)"></i><i style="background:linear-gradient(#00001f,#00002a,#000035,#00004c,#000064,#000083,#0000a5,#0000b9,#0000c5)"></i><i style="background:linear-gradient(#000020,#00002b,#000036,#00004d,#006,#000085,#0000a6,#0000ba,#0000c6)"></i><i style="background:linear-gradient(#000021,#00002c,#000036,#00004e,#000067,#000086,#0000a7,#00b,#0000c7)"></i><i style="background:linear-gradient(#000021,#00002c,#000037,#00004e,#000068,#000087,#0000a8,#0000bc,#0000c7)"></i><i style="background:linear-gradient(#002,#00002d,#000037,#00004f,#000069,#008,#0000a9,#0000bd,#0000c8)"></i><i style="background:linear-gradient(#000023,#00002e,#000039,#000051,#00006b,#00008a,#0000ab,#0000bf,#0000c9)"></i><i style="background:linear-gradient(#000025,#000030,#00003b,#000053,#00006e,#00008d,#0000ae,#0000c1,#0000cb)"></i><i style="background:linear-gradient(#000027,#000031,#00003c,#005,#000070,#00008f,#0000b0,#0000c3,#00c)"></i><i style="background:linear-gradient(#000027,#000032,#00003d,#000056,#000071,#000090,#0000b1,#0000c3,#0000cd)"></i><i style="background:linear-gradient(#000026,#000031,#00003c,#005,#000070,#000090,#0000b0,#0000c3,#00c)"></i><i style="background:linear-gradient(#000024,#00002e,#000039,#000053,#00006e,#00008e,#0000ae,#0000c1,#0000c9)"></i><i style="background:linear-gradient(#000021,#00002c,#000036,#000050,#00006c,#00008b,#0000ac,#0000be,#0000c6)"></i><i style="background:linear-gradient(#00001e,#000029,#000034,#00004e,#00006a,#00008a,#00a,#0000bc,#0000c4)"></i><i style="background:linear-gradient(#00001d,#000028,#003,#00004d,#00006a,#000089,#0000a9,#00b,#0000c3)"></i><i style="background:linear-gradient(#00001e,#000028,#003,#00004d,#00006a,#00008a,#00a,#0000bc,#0000c3)"></i><i style="background:linear-gradient(#00001e,#000023,#000029,#00002e,#003,#000040,#00004e,#00005d,#00006c,#00007b,#00008b,#00009b,#0000ab,#0000b9,#0000bc,#0000c0,#0000c4)"></i><i style="background:linear-gradient(#00001f,#000024,#000029,#00002f,#000034,#000040,#00004f,#00005e,#00006c,#00007c,#00008c,#00009c,#0000ac,#0000ba,#0000bd,#0000c1,#0000c4)"></i><i style="background:linear-gradient(#000020,#00002a,#000035,#000050,#00006d,#00008c,#0000ac,#0000be,#0000c5)"></i><i style="background:linear-gradient(#000020,#00002b,#000035,#000050,#00006d,#00008c,#0000ad,#0000be,#0000c5)"></i><i style="background:linear-gradient(#000020,#00002b,#000035,#00004f,#00006c,#00008c,#0000ac,#0000bd,#0000c4)"></i><i style="background:linear-gradient(#00001f,#000024,#000029,#00002e,#000034,#00003f,#00004e,#00005c,#00006b,#00007a,#00008a,#00009a,#00a,#0000b8,#00b,#0000bf,#0000c2)"></i><i style="background:linear-gradient(#00001d,#000027,#000032,#00004c,#000068,#008,#0000a8,#0000b9,#0000c0)"></i><i style="background:linear-gradient(#00001c,#000021,#000026,#00002b,#000030,#00003c,#00004a,#000058,#000067,#000076,#000086,#000096,#0000a6,#0000b4,#0000b7,#00b,#0000be)"></i><i style="background:linear-gradient(#00001b,#000020,#000026,#00002b,#000030,#00003b,#00004a,#000058,#006,#000075,#000085,#000095,#0000a5,#0000b3,#0000b6,#0000ba,#0000bd)"></i><i style="background:linear-gradient(#00001d,#000027,#000031,#00004b,#000067,#000086,#0000a6,#0000b8,#0000bf)"></i><i style="background:linear-gradient(#000021,#00002b,#000035,#00004e,#00006a,#000089,#00a,#00b,#0000c2)"></i><i style="background:linear-gradient(#000024,#00002e,#000038,#000052,#00006e,#00008d,#0000ad,#0000bf,#0000c6)"></i><i style="background:linear-gradient(#000026,#000031,#00003b,#005,#000071,#000090,#0000b1,#0000c2,#0000c9)"></i><i style="background:linear-gradient(#000024,#000029,#00002f,#000034,#000039,#000045,#000054,#000063,#000071,#000081,#000091,#0000a2,#0000b2,#0000c0,#0000c3,#0000c7,#0000ca)"></i><i style="background:linear-gradient(#00001b,#000026,#000031,#00004f,#00006e,#000090,#0000b1,#0000c3,#0000ca)"></i><i style="background:linear-gradient(#000008,#00000f,#000015,#00001c,#000023,#000032,#004,#000057,#000068,#00007b,#00008e,#0000a0,#0000b0,#0000be,#0000c1,#0000c5,#0000c8)"></i><i style="background:linear-gradient(#141400,#0c0c00,#040400,#000004,#00000c,#00001e,#000035,#00004a,#000060,#000075,#00008a,#00009e,#0000ae,#0000bc,#0000bf,#0000c3,#0000c6)"></i><i style="background:linear-gradient(#393900,#2f2f00,#252500,#1b1b00,#110,#000006,#000021,#00003b,#005,#00006f,#000087,#00009d,#0000ad,#0000ba,#0000be,#0000c1,#0000c5)"></i><i style="background:linear-gradient(#5d5d00,#575700,#515100,#4c4c00,#464600,#404000,#3a3a00,#343400,#2e2e00,#232300,#131300,#030300,#00000d,#00001e,#00002d,#00003c,#00004b,#00005b,#000069,#000076,#000084,#000092,#00009c,#0000a4,#0000ac,#0000b4,#0000ba,#00b,#0000bd,#0000bf,#0000c1,#0000c3,#0000c4)"></i><i style="background:linear-gradient(#770,#6a6a00,#5d5d00,#4f4f00,#424200,#242400,#000001,#000024,#000046,#006,#000083,#00009d,#0000ac,#0000ba,#0000be,#0000c1,#0000c5)"></i><i style="background:linear-gradient(#818100,#737300,#656500,#565600,#484800,#292900,#040400,#000020,#004,#000065,#000083,#00009c,#0000ac,#0000ba,#0000bd,#0000c1,#0000c5)"></i><i style="background:linear-gradient(#808000,#727200,#646400,#575700,#494900,#2a2a00,#060600,#00001e,#000040,#000061,#00007e,#000098,#0000a7,#0000b5,#0000b9,#0000bd,#0000c0)"></i><i style="background:linear-gradient(#969600,#880,#7a7a00,#6c6c00,#5d5d00,#3f3f00,#1b1b00,#000008,#00002c,#00004d,#00006c,#000086,#000096,#0000a5,#0000a9,#0000ad,#0000b0)"></i><i style="background:linear-gradient(#ff0,#fafa00,#f2f200,#e9e900,#e0e000,#d6d600,#cdcd00,#c3c300,#b9b900,#aa0,#959500,#808000,#6b6b00,#565600,#404000,#2a2a00,#141400,#000003,#000015,#000027,#000039,#00004b,#000058,#000062,#00006c,#000076,#00007e,#00007f,#000081,#000083,#000085,#000086,#000087)"></i><i style="background:linear-gradient(#ff0,#ff0,#ff0,#ff0,#ff0,#ff0,#ff0,#ff0,#ff0,#ff0,#ff0,#ff0,#ff0,#fefe00,#dd0,#bcbc00,#990,#770,#5d5d00,#440,#2a2a00,#101000,#000002,#000010,#00001e,#00002c,#000035,#000037,#00003a,#00003c,#00003e,#00003f,#00003f)"></i><i style="background:linear-gradient(#ff0,#ff0,#ff0,#ff0,#ff0,#ff0,#ff0,#ff0,#ff0,#ff0,#ff0,#ff0,#ff0,#ff0,#ff0,#ff0,#ff0,#ff0,#ff0,#dcdc00,#b5b500,#8e8e00,#747400,#616100,#4d4d00,#393900,#2c2c00,#292900,#252500,#220,#1f1f00,#1e1e00,#1e1e00)"></i><i style="background:linear-gradient(#ff0,#ff0,#ff0,#ff0,#ff0,#ff0,#ff0,#ff0,#ff0,#ff0,#ff0,#ff0,#ff0,#ff0,#ff0,#ff0,#ff0,#ff0,#ff0,#ff0,#ff0,#ff0,#e3e300,#c9c900,#afaf00,#959500,#838300,#7e7e00,#797900,#747400,#6f6f00,#6e6e00,#6d6d00)"></i><i style="background:linear-gradient(#ff0,#ff0,#ff0,#ff0,#ff0,#ff0,#ff0,#ff0,#ff0,#ff0,#ff0,#ff0,#ff0,#ff0,#ff0,#ff0,#ff0,#ff0,#ff0,#ff0,#ff0,#ff0,#ff0,#f5f500,#d7d700,#b9b900,#a5a500,#9e9e00,#979700,#909000,#898900,#868600,#848400)"></i><i style="background:linear-gradient(#ff0,#ff0,#ff0,#ff0,#ff0,#ff0,#ff0,#ff0,#ff0,#ff0,#ff0,#ff0,#ff0,#ff0,#ff0,#ff0,#ff0,#ff0,#ff0,#ff0,#ff0,#ff0,#e6e600,#c9c900,#acac00,#909000,#7b7b00,#747400,#6c6c00,#646400,#5c5c00,#585800,#545400)"></i><i style="background:linear-gradient(#ff0,#ff0,#ff0,#ff0,#ff0,#ff0,#ff0,#ff0,#ff0,#ff0,#ff0,#ff0,#ff0,#ff0,#ff0,#ff0,#ff0,#ff0,#ff0,#f1f100,#c3c300,#969600,#770,#5f5f00,#474700,#303000,#1f1f00,#181800,#101000,#090900,#020200,#000003,#000008)"></i><i style="background:linear-gradient(#ff0,#ff0,#ff0,#ff0,#ff0,#ff0,#ff0,#ff0,#ff0,#ff0,#ff0,#ff0,#ff0,#ff0,#ff0,#e9e900,#bb0,#8e8e00,#6e6e00,#4e4e00,#303000,#121200,#000004,#000015,#000026,#000037,#004,#00004a,#000050,#000056,#00005c,#000060,#000065)"></i><i style="background:linear-gradient(#ff0,#ff0,#ff0,#ff0,#ff0,#ff0,#ff0,#ff0,#f1f100,#d6d600,#b8b800,#9b9b00,#7e7e00,#626200,#474700,#2c2c00,#121200,#000008,#00001b,#00002e,#000040,#000052,#000060,#00006c,#007,#000083,#00008c,#000090,#000095,#00009a,#00009e,#0000a2,#0000a6)"></i><i style="background:linear-gradient(#989800,#8a8a00,#7b7b00,#6d6d00,#5f5f00,#525200,#454500,#383800,#2b2b00,#1d1d00,#0c0c00,#000004,#000014,#000023,#000032,#000041,#000050,#00005e,#000069,#000074,#00007f,#00008a,#000093,#00009c,#0000a4,#0000ac,#0000b3,#0000b7,#00b,#0000be,#0000c2,#0000c6,#0000c9)"></i><i style="background:linear-gradient(#0c0c00,#000004,#000013,#000021,#000030,#000042,#005,#000069,#00007b,#00008c,#00009b,#00a,#0000b8,#0000c4,#0000cb,#0000d2,#0000d8)"></i><i style="background:linear-gradient(#000028,#000051,#00008b,#0000bf,#0000de)"></i><i style="background:linear-gradient(#000038,#00005c,#000091,#0000c1,#0000e1)"></i><i style="background:linear-gradient(#00003d,#000060,#000094,#0000c3,#0000e3)"></i><i style="background:linear-gradient(#00003c,#000060,#000095,#0000c3,#0000e3)"></i><i style="background:linear-gradient(#00003b,#00005f,#000095,#0000c3,#0000e3)"></i><i style="background:linear-gradient(#00003a,#00005f,#000095,#0000c4,#0000e4)"></i><i style="background:linear-gradient(#000039,#00005f,#000096,#0000c5,#0000e5)"></i><i style="background:linear-gradient(#000039,#000060,#000097,#0000c7,#0000e7)"></i><i style="background:linear-gradient(#000039,#000060,#009,#0000c8,#0000e8)"></i><i style="background:linear-gradient(#000038,#000060,#009,#0000c8,#0000e8)"></i><i style="background:linear-gradient(#000036,#00005f,#009,#0000c9,#0000e9)"></i><i style="background:linear-gradient(#000036,#00005f,#00009a,#0000c9,#0000e9)"></i><i style="background:linear-gradient(#000035,#00005f,#00009a,#0000ca,#0000ea)"></i><i style="background:linear-gradient(#000034,#00005f,#00009b,#0000cb,#0000eb)"></i><i style="background:linear-gradient(#000032,#00005e,#00009b,#0000cb,#0000eb)"></i><i style="background:linear-gradient(#000030,#00005d,#00009b,#0000cb,#0000eb)"></i><i style="background:linear-gradient(#00002e,#00005b,#00009a,#0000ca,#0000ea)"></i><i style="background:linear-gradient(#00002b,#000059,#000098,#0000c8,#0000e8)"></i><i style="background:linear-gradient(#000028,#000057,#000097,#0000c7,#0000e7)"></i><i style="background:linear-gradient(#000026,#000056,#000097,#0000c7,#0000e7)"></i><i style="background:linear-gradient(#000024,#000054,#000096,#0000c6,#0000e6)"></i><i style="background:linear-gradient(#000024,#000054,#000096,#0000c6,#0000e6)"></i><i style="background:linear-gradient(#000024,#000054,#000096,#0000c6,#0000e6)"></i><b style="background:linear-gradient(90deg,#00000018 0px 1px,#00000010 1px 2px,#0000 2px 4px,#0000000c 4px 5px,#0000004c 5px 6px,#00000014 6px 7px,#00000004 7px 8px,#0000 8px 12px,#00000010 12px 13px,#00000068 13px 14px,#00000080 14px 15px,#00000054 15px 16px,#0000000c 16px 17px,#0000 17px 26px,#00000004 26px 27px,#0000 27px 29px,#00000078 29px 30px,#00000094 30px 31px,#0000006c 31px 32px,#0000003c 32px 33px,#00000050 33px 34px,#00000098 34px 35px,#00000058 35px 36px,#00000014 36px 37px,#0000 37px 41px,#00000008 41px 42px,#0000 42px 45px,#00000034 45px 46px,#00000098 46px 49px,#00000038 49px 50px,#0000 50px 57px,#0000001c 57px 58px,#00000044 58px 59px,#00000024 59px 60px,#0000 60px 66px,#00000050 66px 67px,#00000038 67px 68px,#00000040 68px 69px,#0000003c 69px 70px,#00000058 70px 71px,#00000034 71px 73px,#0000004c 73px 74px,#00000044 74px 75px,#00000010 75px 76px,#0000 76px 86px,#00000018 86px 87px,#00000044 87px 88px,#0000007c 88px 89px,#00000098 89px 92px,#00000088 92px 93px,#00000014 93px 94px,#0000 94px 96px,#0000004c 96px 97px,#0000002c 97px 98px,#00000014 98px 99px,#0000 99px 100px,#0000000c 100px 101px,#00000028 101px 102px,#00000024 102px 103px,#0000000c 103px 104px,#0000 104px 116px,#00000068 116px 117px,#00000098 117px 118px,#00000044 118px 119px,#0000 119px 124px,#00000010 124px 125px,#00000040 125px 126px,#00000084 126px 127px,#0000005c 127px 128px,#00000030 128px 129px,#0000 129px 133px,#00000004 133px 134px,#00000010 134px 135px,#00000014 135px 136px,#00000024 136px 137px,#00000034 137px 138px,#00000040 138px 139px,#00000008 139px 140px,#0000 140px 145px,#0000000c 145px 147px,#00000024 147px 148px,#00000030 148px 149px,#00000040 149px 150px,#00000014 150px 151px,#0000 151px 162px,#00000054 162px 163px,#00000080 163px 164px,#0000008c 164px 165px,#00000098 165px 166px,#0000001c 166px 167px,#0000 167px 196px,#00000014 196px 197px,#00000040 197px 198px,#00000004 198px 199px,#00000008 199px 201px,#00000004 201px 202px,#0000 202px 203px,#00000034 203px 204px,#0000 204px 207px,#00000028 207px 208px,#00000020 208px 209px,#0000 209px 210px,#00000044 210px 211px,#0000005c 211px 212px,#00000074 212px 213px,#0000001c 213px 214px,#0000 214px 218px,#0000002c 218px 219px,#00000064 219px 220px,#00000074 220px 221px,#00000064 221px 222px,#0000006c 222px 223px,#00000024 223px 224px,#0000 224px 226px,#0000001c 226px 227px,#00000034 227px 228px,#0000 228px 232px,#00000008 232px 233px,#00000024 233px 234px,#00000020 234px 235px,#0000 235px 242px,#00000004 242px 243px,#0000002c 243px 244px,#00000040 244px 245px,#00000018 245px 246px,#0000 246px 253px,#0000001c 253px 254px,#00000028 254px 255px,#0000 255px 256px,#0000000c 256px 257px,#00000010 257px 258px,#0000006c 258px 259px,#00000054 259px 260px,#0000002c 260px 261px,#0000 261px 263px,#00000008 263px 264px,#00000060 264px 265px,#00000074 265px 266px,#00000058 266px 267px,#00000024 267px 268px,#0000 268px 271px,#00000010 271px 272px,#00000060 272px 273px,#00000028 273px 274px,#0000 274px 276px,#00000018 276px 277px,#00000040 277px 278px,#00000020 278px 279px,#0000 279px 281px,#00000044 281px 282px,#0000006c 282px 283px,#00000010 283px 284px,#0000 284px 288px,#00000068 288px 289px,#00000098 289px 291px,#00000040 291px 292px,#0000 292px 298px,#0000005c 298px 299px,#00000090 299px 300px,#00000034 300px 301px,#0000 301px 304px,#00000018 304px 305px,#0000 305px 306px,#00000030 306px 307px,#00000004 307px 308px,#0000 308px 311px,#00000024 311px 312px,#0000 312px 317px,#0000005c 317px 318px,#00000050 318px 319px,#0000 319px 321px,#00000014 321px 322px,#00000068 322px 323px,#00000028 323px 324px,#0000 324px 331px,#00000020 331px 332px,#00000074 332px 333px,#00000064 333px 334px,#00000020 334px 335px,#0000 335px 337px,#0000000c 337px 338px,#00000060 338px 339px,#00000090 339px 340px,#00000040 340px 341px,#0000 341px 345px,#00000010 345px 346px,#00000024 346px 347px,#0000 347px 349px,#0000004c 349px 350px,#00000074 350px 351px,#0000005c 351px 352px,#00000048 352px 353px,#00000018 353px 354px,#0000 354px 356px,#00000010 356px 357px,#0000 357px 363px,#00000078 363px 364px,#00000098 364px 365px,#00000068 365px 366px,#0000 366px 369px,#0000001c 369px 370px,#00000070 370px 373px,#00000078 373px 374px,#00000024 374px 375px,#0000 375px 390px,#00000014 390px 391px,#00000008 391px 392px,#0000 392px 394px,#00000008 394px 395px,#00000004 395px 396px,#0000 396px 402px,#00000018 402px 403px,#0000 403px 404px,#00000014 404px 405px,#00000048 405px 406px,#00000058 406px 407px,#00000014 407px 408px,#0000 408px 410px,#0000000c 410px 411px,#0000 411px 414px,#00000048 414px 415px,#00000098 415px 416px,#00000090 416px 417px,#00000034 417px 418px,#00000008 418px 419px,#0000 419px 421px,#0000000c 421px 422px,#0000 422px 423px,#00000028 423px 424px,#0000005c 424px 425px,#00000060 425px 426px,#0000 426px 429px,#00000004 429px 430px,#0000 430px 433px,#00000018 433px 434px,#0000 434px 437px,#00000004 437px 438px,#00000050 438px 439px,#00000064 439px 440px,#0000007c 440px 441px,#0000003c 441px 442px,#0000 442px 445px,#00000004 445px 446px,#0000 446px 450px,#00000034 450px 451px,#00000040 451px 452px,#00000014 452px 453px,#00000008 453px 454px,#0000 454px 455px,#00000040 455px 456px,#00000018 456px 457px,#0000 457px 458px,#00000018 458px 459px,#00000098 459px 460px,#00000084 460px 461px,#0000 461px 466px,#00000028 466px 467px,#0000 467px 469px,#0000000c 469px 470px,#00000048 470px 471px,#00000098 471px 473px,#0000003c 473px 474px,#0000 474px 475px,#00000004 475px 476px,#00000028 476px 477px,#0000 477px 478px,#00000014 478px 479px,#00000060 479px 480px,#00000098 480px 482px,#0000003c 482px 483px,#0000 483px 484px,#00000034 484px 485px,#0000005c 485px 486px,#00000064 486px 487px,#00000010 487px 488px,#0000 488px 498px,#00000014 498px 499px,#0000005c 499px 500px,#00000058 500px 501px,#00000044 501px 502px,#00000070 502px 504px,#00000050 504px 505px,#0000 505px 510px,#00000028 510px 511px,#00000048 511px 512px,#00000044 512px 513px,#00000018 513px 514px,#0000001c 514px 515px,#0000 515px 532px,#00000048 532px 533px,#00000068 533px 534px,#00000028 534px 535px,#0000 535px 540px,#00000034 540px 542px,#00000024 542px 543px,#0000005c 543px 544px,#00000014 544px 545px,#0000 545px 550px,#00000058 550px 551px,#00000098 551px 553px,#00000014 553px 554px,#0000 554px 556px,#00000028 556px 557px,#00000040 557px 558px,#00000050 558px 559px,#00000020 559px 560px,#0000005c 560px 561px,#00000048 561px 562px,#0000 562px 568px,#00000010 568px 569px,#0000001c 569px 570px,#00000070 570px 571px,#0000005c 571px 572px,#00000030 572px 573px,#0000 573px 575px,#0000000c 575px 576px,#00000024 576px 577px,#00000028 577px 578px,#0000 578px 581px,#00000014 581px 582px,#0000 582px 588px,#00000024 588px 589px,#00000004 589px 590px,#00000024 590px 591px,#00000010 591px 592px,#00000028 592px 593px,#0000002c 593px 594px,#00000048 594px 595px,#0000 595px 599px,#00000010 599px 600px,#0000 600px 605px,#00000044 605px 606px,#00000090 606px 607px,#00000040 607px 608px,#00000014 608px 609px,#0000 609px 612px,#0000001c 612px 613px,#00000040 613px 614px,#00000014 614px 615px,#0000 615px 616px,#00000018 616px 617px,#00000038 617px 618px,#00000008 618px 619px,#0000 619px 621px,#0000000c 621px 622px,#0000 622px 623px,#00000038 623px 624px,#00000008 624px 625px,#0000 625px 629px,#0000001c 629px 630px,#00000034 630px 631px,#0000 631px 634px,#00000020 634px 635px,#0000 635px 638px,#0000001c 638px 639px,#0000000c 639px 640px,#00000038 640px 641px,#00000058 641px 642px,#00000098 642px 643px,#00000078 643px 644px,#00000098 644px 645px,#00000054 645px 646px,#0000 646px 648px,#0000004c 648px 649px,#00000064 649px 650px,#00000048 650px 651px,#0000 651px 680px,#00000010 680px 681px,#00000008 681px 682px,#0000 682px 683px,#00000020 683px 684px,#00000030 684px 685px,#0000 685px 687px,#00000040 687px 688px,#0000006c 688px 689px,#00000098 689px 695px,#00000050 695px 696px,#00000034 696px 697px,#00000010 697px 698px,#00000008 698px 699px,#0000 699px 701px,#0000003c 701px 702px,#0000004c 702px 703px,#00000004 703px 705px,#00000008 705px 706px,#00000028 706px 707px,#00000048 707px 708px,#0000004c 708px 709px,#0000 709px 713px)"></b></u></div>
<div class="hm" style="left:1291px;top:102px;width:709px;height:681px"><u><i style="background:#00007e"></i><i style="background:#00007e"></i><i style="background:#00007e"></i><i style="background:linear-gradient(#00007e,#00007f)"></i><i style="background:linear-gradient(#00007f,#000080)"></i><i style="background:linear-gradient(#000080,#000081)"></i><i style="background:linear-gradient(#000080,#000081)"></i><i style="background:linear-gradient(#000081,#000082)"></i><i style="background:linear-gradient(#000080,#000081)"></i><i style="background:linear-gradient(#00007d,#00007f)"></i><i style="background:linear-gradient(#00007a,#00007c)"></i><i style="background:linear-gradient(#007,#000079)"></i><i style="background:linear-gradient(#000076,#000078)"></i><i style="background:linear-gradient(#007,#00007a)"></i><i style="background:linear-gradient(#00007a,#00007c)"></i><i style="background:linear-gradient(#00007d,#000080)"></i><i style="background:linear-gradient(#00007f,#000082)"></i><i style="background:linear-gradient(#000080,#000084)"></i><i style="background:linear-gradient(#000080,#000084)"></i><i style="background:linear-gradient(#000081,#000085)"></i><i style="background:linear-gradient(#000081,#000085)"></i><i style="background:linear-gradient(#000082,#000086)"></i><i style="background:linear-gradient(#000082,#000086)"></i><i style="background:linear-gradient(#000082,#000087)"></i><i style="background:linear-gradient(#000082,#000087)"></i><i style="background:linear-gradient(#000082,#000087)"></i><i style="background:linear-gradient(#000082,#000087)"></i><i style="background:linear-gradient(#000082,#000087)"></i><i style="background:linear-gradient(#000082,#008)"></i><i style="background:linear-gradient(#000083,#000089)"></i><i style="background:linear-gradient(#000084,#00008a)"></i><i style="background:linear-gradient(#000085,#00008c)"></i><i style="background:linear-gradient(#000086,#00008c)"></i><i style="background:linear-gradient(#000086,#00008d)"></i><i style="background:linear-gradient(#000086,#00008d)"></i><i style="background:linear-gradient(#000086,#00008e)"></i><i style="background:linear-gradient(#000087,#00008e)"></i><i style="background:linear-gradient(#000087,#00008f)"></i><i style="background:linear-gradient(#000086,#00008e)"></i><i style="background:linear-gradient(#000085,#00008d)"></i><i style="background:linear-gradient(#000084,#00008c)"></i><i style="background:linear-gradient(#000083,#00008b)"></i><i style="background:linear-gradient(#000083,#00008b)"></i><i style="background:linear-gradient(#000083,#00008b)"></i><i style="background:linear-gradient(#000084,#00008c)"></i><i style="background:linear-gradient(#000085,#00008d)"></i><i style="background:linear-gradient(#000086,#00008e)"></i><i style="background:linear-gradient(#000086,#00008e)"></i><i style="background:linear-gradient(#000086,#00008e)"></i><i style="background:linear-gradient(#000085,#00008d)"></i><i style="background:linear-gradient(#000083,#00008c)"></i><i style="background:linear-gradient(#000082,#00008b)"></i><i style="background:linear-gradient(#000082,#00008b)"></i><i style="background:linear-gradient(#000082,#00008b)"></i><i style="background:linear-gradient(#000083,#00008c)"></i><i style="background:linear-gradient(#000084,#00008d)"></i><i style="background:linear-gradient(#000085,#00008e)"></i><i style="background:linear-gradient(#000085,#00008e)"></i><i style="background:linear-gradient(#000086,#00008f)"></i><i style="background:linear-gradient(#000087,#000090)"></i><i style="background:linear-gradient(#000089,#000092)"></i><i style="background:linear-gradient(#00008a,#000093)"></i><i style="background:linear-gradient(#00008a,#000094)"></i><i style="background:linear-gradient(#00008a,#000094)"></i><i style="background:linear-gradient(#00008a,#000093)"></i><i style="background:linear-gradient(#000089,#000093)"></i><i style="background:linear-gradient(#000089,#000093)"></i><i style="background:linear-gradient(#000089,#000093)"></i><i style="background:linear-gradient(#000089,#000093)"></i><i style="background:linear-gradient(#008,#000092)"></i><i style="background:linear-gradient(#008,#000092)"></i><i style="background:linear-gradient(#000087,#000092)"></i><i style="background:linear-gradient(#000087,#000092)"></i><i style="background:linear-gradient(#008,#000092)"></i><i style="background:linear-gradient(#000089,#000094)"></i><i style="background:linear-gradient(#00008a,#000095)"></i><i style="background:linear-gradient(#00008b,#000096)"></i><i style="background:linear-gradient(#00008b,#000097)"></i><i style="background:linear-gradient(#00008a,#000097)"></i><i style="background:linear-gradient(#000089,#000096)"></i><i style="background:linear-gradient(#000087,#000095)"></i><i style="background:linear-gradient(#000085,#000094)"></i><i style="background:linear-gradient(#000085,#000093)"></i><i style="background:linear-gradient(#000085,#000094)"></i><i style="background:linear-gradient(#000085,#000094)"></i><i style="background:linear-gradient(#000085,#000095)"></i><i style="background:linear-gradient(#000085,#000096)"></i><i style="background:linear-gradient(#000085,#000096)"></i><i style="background:linear-gradient(#000081,#000094)"></i><i style="background:linear-gradient(#000076,#00008e)"></i><i style="background:linear-gradient(#00005b,#00005f,#000062,#00006a,#000080)"></i><i style="background:linear-gradient(#00002a,#00002b,#00002c,#00003b,#000067)"></i><i style="background:linear-gradient(#1b1b00,#1b1b00,#1b1b00,#1c1c00,#1d1d00,#1e1e00,#1f1f00,#202000,#1f1f00,#1c1c00,#181800,#151500,#080800,#00000a,#00001f,#000034,#000043)"></i><i style="background:linear-gradient(#5c5c00,#5d5d00,#5e5e00,#5e5e00,#5f5f00,#606000,#616100,#616100,#626200,#636300,#646400,#656500,#660,#676700,#686800,#686800,#676700,#656500,#636300,#616100,#5f5f00,#5d5d00,#5a5a00,#545400,#484800,#3c3c00,#2f2f00,#212100,#121200,#020200,#00000d,#000018,#002)"></i><i style="background:linear-gradient(#7b7b00,#7d7d00,#7e7e00,#808000,#828200,#858500,#878700,#898900,#880,#848400,#7f7f00,#7b7b00,#656500,#494900,#282800,#050500,#000013)"></i><i style="background:linear-gradient(#646400,#660,#676700,#696900,#6b6b00,#6c6c00,#6e6e00,#707000,#6f6f00,#6b6b00,#676700,#626200,#4f4f00,#353500,#161600,#00000a,#000020)"></i><i style="background:linear-gradient(#252500,#262600,#262600,#272700,#282800,#292900,#2a2a00,#2b2b00,#2a2a00,#272700,#232300,#202000,#110,#000002,#00001a,#000031,#000042)"></i><i style="background:linear-gradient(#002,#000023,#000024,#000035,#000067)"></i><i style="background:linear-gradient(#000057,#00005b,#00005e,#000069,#000083)"></i><i style="background:linear-gradient(#000074,#00007f,#000093)"></i><i style="background:linear-gradient(#000080,#009)"></i><i style="background:linear-gradient(#000084,#00009b)"></i><i style="background:linear-gradient(#000085,#00009c)"></i><i style="background:linear-gradient(#000085,#00009d)"></i><i style="background:linear-gradient(#000084,#00009c)"></i><i style="background:linear-gradient(#000084,#00009c)"></i><i style="background:linear-gradient(#000083,#00009c)"></i><i style="background:linear-gradient(#000083,#00009c)"></i><i style="background:linear-gradient(#000083,#00009c)"></i><i style="background:linear-gradient(#000083,#00009d)"></i><i style="background:linear-gradient(#000083,#00009e)"></i><i style="background:linear-gradient(#000083,#00009e)"></i><i style="background:linear-gradient(#000083,#00009f)"></i><i style="background:linear-gradient(#000084,#0000a0)"></i><i style="background:linear-gradient(#000086,#0000a2)"></i><i style="background:linear-gradient(#008,#0000a5)"></i><i style="background:linear-gradient(#00008a,#0000a7)"></i><i style="background:linear-gradient(#00008b,#0000a8)"></i><i style="background:linear-gradient(#00008a,#0000a8)"></i><i style="background:linear-gradient(#008,#0000a7)"></i><i style="background:linear-gradient(#000086,#0000a5)"></i><i style="background:linear-gradient(#000084,#0000a4)"></i><i style="background:linear-gradient(#000084,#0000a4)"></i><i style="background:linear-gradient(#000085,#0000a5)"></i><i style="background:linear-gradient(#000087,#0000a7)"></i><i style="background:linear-gradient(#000089,#00a)"></i><i style="background:linear-gradient(#00008b,#0000ad)"></i><i style="background:linear-gradient(#00008c,#0000ae)"></i><i style="background:linear-gradient(#00008c,#0000ae)"></i><i style="background:linear-gradient(#00008b,#0000ad)"></i><i style="background:linear-gradient(#000089,#0000ac)"></i><i style="background:linear-gradient(#008,#0000ac)"></i><i style="background:linear-gradient(#008,#0000ac)"></i><i style="background:linear-gradient(#000089,#0000ad)"></i><i style="background:linear-gradient(#00008a,#0000af)"></i><i style="background:linear-gradient(#00008c,#0000b1)"></i><i style="background:linear-gradient(#00008d,#0000b3)"></i><i style="background:linear-gradient(#00008e,#0000b4)"></i><i style="background:linear-gradient(#00008e,#0000b5)"></i><i style="background:linear-gradient(#00008f,#0000b6)"></i><i style="background:linear-gradient(#00008f,#0000b7)"></i><i style="background:linear-gradient(#00008f,#0000b7)"></i><i style="background:linear-gradient(#000090,#0000b8)"></i><i style="background:linear-gradient(#000090,#0000b9)"></i><i style="background:linear-gradient(#000091,#00b)"></i><i style="background:linear-gradient(#000093,#0000bc)"></i><i style="background:linear-gradient(#000094,#0000bd)"></i><i style="background:linear-gradient(#000094,#0000be)"></i><i style="background:linear-gradient(#000095,#0000bf)"></i><i style="background:linear-gradient(#000094,#0000bf)"></i><i style="background:linear-gradient(#000093,#0000be)"></i><i style="background:linear-gradient(#000093,#0000be)"></i><i style="background:linear-gradient(#000093,#0000be)"></i><i style="background:linear-gradient(#000093,#0000be)"></i><i style="background:linear-gradient(#000091,#0000bd)"></i><i style="background:linear-gradient(#00008f,#00b)"></i><i style="background:linear-gradient(#00008e,#0000ba)"></i><i style="background:linear-gradient(#00008d,#0000ba)"></i><i style="background:linear-gradient(#00008f,#0000bc)"></i><i style="background:linear-gradient(#000091,#0000bf)"></i><i style="background:linear-gradient(#000095,#0000c2)"></i><i style="background:linear-gradient(#000098,#0000c5)"></i><i style="background:linear-gradient(#009,#0000c7)"></i><i style="background:linear-gradient(#009,#0000c7)"></i><i style="background:linear-gradient(#000097,#0000c6)"></i><i style="background:linear-gradient(#000096,#0000c5)"></i><i style="background:linear-gradient(#000094,#0000c4)"></i><i style="background:linear-gradient(#000094,#0000c4)"></i><i style="background:linear-gradient(#000095,#0000c5)"></i><i style="background:linear-gradient(#000095,#0000c5)"></i><i style="background:linear-gradient(#000096,#0000c6)"></i><i style="background:linear-gradient(#000096,#0000c7)"></i><i style="background:linear-gradient(#000097,#0000c8)"></i><i style="background:linear-gradient(#000098,#0000c9)"></i><i style="background:linear-gradient(#00009a,#0000cb)"></i><i style="background:linear-gradient(#00009c,#0000ce)"></i><i style="background:linear-gradient(#00009e,#0000d0)"></i><i style="background:linear-gradient(#00009f,#0000d1)"></i><i style="background:linear-gradient(#00009f,#0000d1)"></i><i style="background:linear-gradient(#00009e,#0000d1)"></i><i style="background:linear-gradient(#00009d,#0000d0)"></i><i style="background:linear-gradient(#00009c,#0000d0)"></i><i style="background:linear-gradient(#00009c,#0000d0)"></i><i style="background:linear-gradient(#00009c,#0000d1)"></i><i style="background:linear-gradient(#00009d,#0000d1)"></i><i style="background:linear-gradient(#00009d,#0000d2)"></i><i style="background:linear-gradient(#00009d,#0000d2)"></i><i style="background:linear-gradient(#00009d,#0000d3)"></i><i style="background:linear-gradient(#00009e,#0000d4)"></i><i style="background:linear-gradient(#0000a0,#0000d6)"></i><i style="background:linear-gradient(#0000a2,#0000d8)"></i><i style="background:linear-gradient(#0000a4,#0000da)"></i><i style="background:linear-gradient(#0000a5,#0000dc)"></i><i style="background:linear-gradient(#0000a5,#0000dc)"></i><i style="background:linear-gradient(#0000a6,#00d)"></i><i style="background:linear-gradient(#0000a7,#0000de)"></i><i style="background:linear-gradient(#0000a7,#0000df)"></i><i style="background:linear-gradient(#0000a8,#0000e0)"></i><i style="background:linear-gradient(#0000a8,#0000e0)"></i><i style="background:linear-gradient(#0000a7,#0000e0)"></i><i style="background:linear-gradient(#0000a6,#0000df)"></i><i style="background:linear-gradient(#0000a5,#0000de)"></i><i style="background:linear-gradient(#0000a5,#0000de)"></i><i style="background:linear-gradient(#0000a5,#0000df)"></i><i style="background:linear-gradient(#0000a6,#0000e1)"></i><i style="background:linear-gradient(#0000a7,#0000e2)"></i><i style="background:linear-gradient(#0000a9,#0000e3)"></i><i style="background:linear-gradient(#0000a9,#0000e4)"></i><i style="background:linear-gradient(#0000a9,#0000e4)"></i><i style="background:linear-gradient(#0000a8,#0000e4)"></i><i style="background:linear-gradient(#0000a7,#0000e3)"></i><i style="background:linear-gradient(#0000a6,#0000e2)"></i><i style="background:linear-gradient(#0000a6,#0000e2)"></i><i style="background:linear-gradient(#0000a7,#0000e4)"></i><i style="background:linear-gradient(#0000a8,#0000e6)"></i><i style="background:linear-gradient(#00a,#0000e8)"></i><i style="background:linear-gradient(#0000ac,#0000e9)"></i><i style="background:linear-gradient(#0000ad,#0000ea)"></i><i style="background:linear-gradient(#0000ae,#0000eb)"></i><i style="background:linear-gradient(#0000b0,#0000ed)"></i><i style="background:linear-gradient(#0000b2,#0000ef)"></i><i style="background:linear-gradient(#0000b4,#0000f1)"></i><i style="background:linear-gradient(#0000b4,#0000f2)"></i><i style="background:linear-gradient(#0000b5,#0000f2)"></i><i style="background:linear-gradient(#0000b4,#0000f1)"></i><i style="background:linear-gradient(#0000b3,#0000f1)"></i><i style="background:linear-gradient(#0000b3,#0000f0)"></i><i style="background:linear-gradient(#0000b3,#0000f0)"></i><i style="background:linear-gradient(#0000b4,#0000f1)"></i><i style="background:linear-gradient(#0000b5,#0000f2)"></i><i style="background:linear-gradient(#0000b7,#0000f4)"></i><i style="background:linear-gradient(#0000b8,#0000f5)"></i><i style="background:linear-gradient(#0000b9,#0000f6)"></i><i style="background:linear-gradient(#0000b9,#0000f6)"></i><i style="background:linear-gradient(#0000b8,#0000f5)"></i><i style="background:linear-gradient(#0000b6,#0000f3)"></i><i style="background:linear-gradient(#0000b5,#0000f2)"></i><i style="background:linear-gradient(#0000b5,#0000f2)"></i><i style="background:linear-gradient(#0000b5,#0000f2)"></i><i style="background:linear-gradient(#0000b6,#0000f3)"></i><i style="background:linear-gradient(#0000b6,#0000f3)"></i><i style="background:linear-gradient(#0000b7,#0000f4)"></i><i style="background:linear-gradient(#0000b7,#0000f4)"></i><i style="background:linear-gradient(#0000b8,#0000f5)"></i><i style="background:linear-gradient(#0000b9,#0000f6)"></i><i style="background:linear-gradient(#00b,#0000f8)"></i><i style="background:linear-gradient(#0000bc,#0000f9)"></i><i style="background:linear-gradient(#0000bd,#0000fa)"></i><i style="background:linear-gradient(#0000bd,#0000fb)"></i><i style="background:linear-gradient(#0000be,#0000fb)"></i><i style="background:linear-gradient(#0000bf,#0000fc)"></i><i style="background:linear-gradient(#0000c0,#0000fd)"></i><i style="background:linear-gradient(#0000c0,#0000fd)"></i><i style="background:linear-gradient(#0000bf,#0000fd)"></i><i style="background:linear-gradient(#0000be,#0000fb)"></i><i style="background:linear-gradient(#0000bd,#0000fa)"></i><i style="background:linear-gradient(#00b,#0000f9)"></i><i style="background:linear-gradient(#00b,#0000f8)"></i><i style="background:linear-gradient(#00b,#0000f9)"></i><i style="background:linear-gradient(#0000bd,#0000fa)"></i><i style="background:linear-gradient(#0000be,#0000fb)"></i><i style="background:linear-gradient(#0000bf,#0000fc)"></i><i style="background:linear-gradient(#0000c0,#0000fd)"></i><i style="background:linear-gradient(#0000bf,#0000fc)"></i><i style="background:linear-gradient(#00b,#0000f9)"></i><i style="background:linear-gradient(#0000b4,#0000f2)"></i><i style="background:linear-gradient(#0000a8,#0000e5)"></i><i style="background:linear-gradient(#000094,#0000d2)"></i><i style="background:linear-gradient(#000080,#0000bd)"></i><i style="background:linear-gradient(#000073,#0000b1)"></i><i style="background:linear-gradient(#000076,#0000b3)"></i><i style="background:linear-gradient(#000087,#0000c4)"></i><i style="background:linear-gradient(#00009d,#0000da)"></i><i style="background:linear-gradient(#0000af,#0000ed)"></i><i style="background:linear-gradient(#0000ba,#0000f8)"></i><i style="background:linear-gradient(#0000bf,#0000fd)"></i><i style="background:linear-gradient(#0000c1,#0000fe)"></i><i style="background:linear-gradient(#0000c1,#00f)"></i><i style="background:linear-gradient(#0000c2,#00f)"></i><i style="background:linear-gradient(#0000c2,#00f)"></i><i style="background:linear-gradient(#0000c3,#00f)"></i><i style="background:linear-gradient(#0000c3,#00f)"></i><i style="background:linear-gradient(#0000c3,#00f)"></i><i style="background:linear-gradient(#0000c3,#00f)"></i><i style="background:linear-gradient(#0000c4,#00f)"></i><i style="background:linear-gradient(#0000c5,#00f)"></i><i style="background:linear-gradient(#0000c4,#0000e7,#00f)"></i><i style="background:linear-gradient(#0000c4,#0000e7,#00f)"></i><i style="background:linear-gradient(#0000c2,#0000e5,#00f)"></i><i style="background:linear-gradient(#0000bf,#0000fe)"></i><i style="background:linear-gradient(#0000ba,#0000fa)"></i><i style="background:linear-gradient(#0000b7,#0000f7)"></i><i style="background:linear-gradient(#0000b5,#0000f6)"></i><i style="background:linear-gradient(#0000b5,#0000f7)"></i><i style="background:linear-gradient(#0000b5,#0000f7)"></i><i style="background:linear-gradient(#0000b6,#0000f8)"></i><i style="background:linear-gradient(#0000b6,#0000f9)"></i><i style="background:linear-gradient(#0000b6,#0000fa)"></i><i style="background:linear-gradient(#0000b6,#0000fa)"></i><i style="background:linear-gradient(#0000b7,#0000fc)"></i><i style="background:linear-gradient(#0000b9,#0000fe)"></i><i style="background:linear-gradient(#0000ba,#00f)"></i><i style="background:linear-gradient(#0000ba,#0000e1,#00f)"></i><i style="background:linear-gradient(#0000b9,#0000e1,#00f)"></i><i style="background:linear-gradient(#0000b7,#00f)"></i><i style="background:linear-gradient(#0000b5,#0000fe)"></i><i style="background:linear-gradient(#0000b4,#0000fd)"></i><i style="background:linear-gradient(#0000b3,#0000fc)"></i><i style="background:linear-gradient(#0000b3,#0000fd)"></i><i style="background:linear-gradient(#0000b4,#0000de,#00f)"></i><i style="background:linear-gradient(#0000b6,#0000e0,#00f)"></i><i style="background:linear-gradient(#0000b8,#0000e2,#00f)"></i><i style="background:linear-gradient(#0000b8,#0000d0,#0000e3,#0000f4,#00f)"></i><i style="background:linear-gradient(#0000b8,#0000e2,#00f)"></i><i style="background:linear-gradient(#0000b6,#0000e0,#00f)"></i><i style="background:linear-gradient(#0000b3,#0000fd)"></i><i style="background:linear-gradient(#0000ae,#0000fa)"></i><i style="background:linear-gradient(#0000a9,#0000f8)"></i><i style="background:linear-gradient(#0000a2,#0000f5)"></i><i style="background:linear-gradient(#000098,#0000f2)"></i><i style="background:linear-gradient(#00008c,#00e)"></i><i style="background:linear-gradient(#00007e,#0000ea)"></i><i style="background:linear-gradient(#000071,#0000e6)"></i><i style="background:linear-gradient(#000064,#0000e2)"></i><i style="background:linear-gradient(#000050,#00009b,#0000dc)"></i><i style="background:linear-gradient(#000019,#000045,#00007d,#0000ad,#00c)"></i><i style="background:linear-gradient(#757500,#535300,#313100,#030300,#000036,#000063,#000085,#00009b,#0000a6)"></i><i style="background:linear-gradient(#ff0,#ff0,#ff0,#ff0,#ff0,#ff0,#ff0,#ff0,#ff0,#f4f400,#e0e000,#cbcb00,#b2b200,#979700,#7b7b00,#5f5f00,#494900,#330,#1d1d00,#080800,#000008,#000018,#000028,#000036,#000041,#00004c,#000057,#00005c,#00005f,#000061,#000063,#000065,#000067)"></i><i style="background:linear-gradient(#ff0,#ff0,#ff0,#ff0,#ff0,#ff0,#ff0,#ff0,#ff0,#ff0,#ff0,#ff0,#ff0,#ff0,#ff0,#ff0,#dd0,#bb0,#990,#787800,#606000,#494900,#313100,#1c1c00,#0c0c00,#000004,#000014,#00001b,#00001d,#00001f,#000021,#002,#000024)"></i><i style="background:linear-gradient(#ff0,#ff0,#ff0,#ff0,#ff0,#ff0,#ff0,#ff0,#ff0,#ff0,#ff0,#ff0,#ff0,#ff0,#ff0,#ff0,#ff0,#ff0,#e0e000,#b8b800,#9b9b00,#7e7e00,#616100,#484800,#353500,#220,#0f0f00,#070700,#040400,#020200,#000,#000002,#000004)"></i><i style="background:linear-gradient(#ff0,#ff0,#ff0,#ff0,#ff0,#ff0,#ff0,#ff0,#ff0,#ff0,#ff0,#ff0,#ff0,#ff0,#ff0,#ff0,#ff0,#e8e800,#bfbf00,#989800,#7c7c00,#606000,#454500,#2d2d00,#1a1a00,#080800,#00000a,#000012,#000015,#000017,#00001a,#00001c,#00001f)"></i><i style="background:linear-gradient(#ff0,#ff0,#ff0,#ff0,#ff0,#ff0,#ff0,#ff0,#ff0,#ff0,#ff0,#ff0,#ff0,#f9f900,#d0d000,#a6a600,#868600,#676700,#484800,#2b2b00,#151500,#000,#000015,#000027,#000035,#000043,#000050,#000057,#00005a,#00005c,#00005f,#000061,#000064)"></i><i style="background:linear-gradient(#ff0,#ff0,#ff0,#f4f400,#e1e100,#cfcf00,#bebe00,#acac00,#990,#848400,#6f6f00,#5b5b00,#434300,#2a2a00,#110,#000008,#00001b,#00002e,#000041,#000052,#00005f,#00006c,#000078,#000083,#00008c,#000094,#00009d,#0000a1,#0000a3,#0000a6,#0000a8,#00a,#0000ac)"></i><i style="background:linear-gradient(#171700,#020200,#000012,#000024,#000038,#00004d,#000063,#00007b,#000090,#0000a2,#0000b1,#0000be,#0000c8,#0000d1,#0000d6,#0000d9,#00d)"></i><i style="background:linear-gradient(#00007e,#0000a5,#00c,#0000e6,#0000f4)"></i><i style="background:linear-gradient(#0000b9,#0000e2,#0000fc)"></i><i style="background:linear-gradient(#0000cb,#0000fe)"></i><i style="background:linear-gradient(#0000cf,#0000fe)"></i><i style="background:linear-gradient(#0000d0,#0000fe)"></i><i style="background:linear-gradient(#0000d0,#0000fe)"></i><i style="background:linear-gradient(#0000d0,#0000fe)"></i><i style="background:linear-gradient(#0000d0,#0000fe)"></i><i style="background:linear-gradient(#0000d0,#0000fd)"></i><i style="background:linear-gradient(#0000d0,#0000fe)"></i><i style="background:linear-gradient(#0000d1,#0000fe)"></i><i style="background:linear-gradient(#0000d1,#00f)"></i><i style="background:linear-gradient(#0000d2,#00f)"></i><i style="background:linear-gradient(#0000d2,#00f)"></i><i style="background:linear-gradient(#0000d2,#00f)"></i><i style="background:linear-gradient(#0000d3,#00f)"></i><i style="background:linear-gradient(#0000d3,#00f)"></i><i style="background:linear-gradient(#0000d4,#00f)"></i><i style="background:linear-gradient(#0000d4,#00f)"></i><i style="background:linear-gradient(#0000d4,#00f)"></i><i style="background:linear-gradient(#0000d3,#00f)"></i><i style="background:linear-gradient(#0000d3,#00f)"></i><i style="background:linear-gradient(#0000d2,#00f)"></i><i style="background:linear-gradient(#0000d2,#00f)"></i><i style="background:linear-gradient(#0000d2,#00f)"></i><b style="background:linear-gradient(90deg,#0000 0px 1px,#00000010 1px 2px,#0000001c 2px 3px,#00000004 3px 4px,#0000 4px 9px,#00000008 9px 10px,#00000028 10px 11px,#0000001c 11px 12px,#0000 12px 14px,#0000000c 14px 15px,#00000020 15px 16px,#00000018 16px 17px,#0000 17px 21px,#00000004 21px 22px,#0000 22px 23px,#0000001c 23px 24px,#00000010 24px 25px,#0000 25px 26px,#00000008 26px 27px,#00000010 27px 28px,#0000 28px 33px,#00000004 33px 34px,#0000 34px 37px,#00000008 37px 38px,#00000004 38px 39px,#0000 39px 42px,#00000014 42px 43px,#0000002c 43px 44px,#00000014 44px 45px,#0000 45px 51px,#00000008 51px 52px,#00000028 52px 53px,#0000 53px 64px,#0000000c 64px 65px,#00000014 65px 66px,#00000010 66px 67px,#0000 67px 69px,#00000004 69px 72px,#0000 72px 84px,#00000014 84px 86px,#00000004 86px 87px,#0000 87px 91px,#00000020 91px 92px,#0000001c 92px 93px,#0000 93px 101px,#00000004 101px 102px,#0000 102px 105px,#00000024 105px 106px,#0000003c 106px 108px,#00000020 108px 109px,#00000008 109px 111px,#00000010 111px 112px,#0000001c 112px 113px,#0000 113px 121px,#0000000c 121px 122px,#0000002c 122px 123px,#00000054 123px 124px,#00000038 124px 125px,#00000020 125px 126px,#0000000c 126px 127px,#00000024 127px 129px,#00000010 129px 130px,#0000000c 130px 131px,#00000010 131px 133px,#0000 133px 136px,#00000008 136px 137px,#00000010 137px 138px,#0000 138px 140px,#00000004 140px 141px,#0000 141px 148px,#00000038 148px 149px,#00000058 149px 150px,#00000028 150px 151px,#0000000c 151px 152px,#0000 152px 154px,#0000000c 154px 155px,#00000018 155px 156px,#00000008 156px 157px,#00000024 157px 158px,#0000002c 158px 159px,#00000018 159px 160px,#0000 160px 163px,#00000010 163px 164px,#00000004 164px 165px,#0000000c 165px 166px,#00000028 166px 167px,#00000044 167px 168px,#00000040 168px 169px,#00000044 169px 170px,#00000034 170px 171px,#0000 171px 174px,#00000014 174px 175px,#00000018 175px 176px,#00000008 176px 177px,#0000 177px 186px,#00000004 186px 187px,#00000024 187px 188px,#0000001c 188px 189px,#0000 189px 195px,#00000004 195px 196px,#0000 196px 199px,#00000010 199px 200px,#00000030 200px 202px,#00000024 202px 203px,#00000020 203px 204px,#00000038 204px 205px,#00000028 205px 206px,#0000000c 206px 207px,#0000 207px 213px,#00000004 213px 214px,#0000 214px 218px,#00000004 218px 219px,#0000000c 219px 220px,#00000028 220px 221px,#00000030 221px 222px,#00000040 222px 224px,#00000038 224px 225px,#00000028 225px 226px,#00000004 226px 227px,#0000 227px 238px,#00000004 238px 239px,#00000018 239px 240px,#00000030 240px 241px,#00000028 241px 242px,#00000004 242px 243px,#0000 243px 247px,#0000000c 247px 248px,#00000010 248px 250px,#0000000c 250px 251px,#00000028 251px 252px,#00000020 252px 253px,#0000 253px 256px,#0000000c 256px 258px,#0000 258px 260px,#0000000c 260px 261px,#00000024 261px 262px,#00000030 262px 263px,#00000044 263px 264px,#00000020 264px 265px,#0000 265px 268px,#00000008 268px 269px,#0000 269px 275px,#00000004 275px 276px,#0000000c 276px 280px,#0000 280px 283px,#00000018 283px 284px,#0000001c 284px 285px,#00000020 285px 286px,#0000001c 286px 287px,#00000008 287px 288px,#0000000c 288px 289px,#00000018 289px 290px,#0000 290px 293px,#0000000c 293px 294px,#00000010 294px 295px,#0000001c 295px 297px,#00000008 297px 298px,#0000 298px 299px,#0000001c 299px 300px,#00000040 300px 301px,#0000003c 301px 302px,#00000018 302px 303px,#0000 303px 304px,#00000004 304px 307px,#0000 307px 309px,#00000004 309px 310px,#0000000c 310px 311px,#0000 311px 314px,#00000020 314px 315px,#00000004 315px 316px,#00000014 316px 317px,#0000 317px 318px,#00000030 318px 319px,#0000002c 319px 321px,#00000008 321px 322px,#00000018 322px 323px,#00000028 323px 324px,#0000001c 324px 325px,#00000010 325px 326px,#00000014 326px 327px,#00000018 327px 328px,#00000020 328px 329px,#00000004 329px 330px,#0000 330px 335px,#0000001c 335px 336px,#00000020 336px 337px,#0000001c 337px 338px,#0000 338px 341px,#00000010 341px 342px,#00000014 342px 343px,#00000018 343px 344px,#0000000c 344px 345px,#0000 345px 347px,#00000014 347px 348px,#00000024 348px 349px,#00000010 349px 350px,#00000018 350px 352px,#00000030 352px 353px,#00000020 353px 355px,#00000014 355px 356px,#00000028 356px 357px,#00000018 357px 358px,#00000004 358px 359px,#0000 359px 362px,#00000014 362px 363px,#00000004 363px 364px,#00000008 364px 365px,#0000 365px 377px,#0000000c 377px 378px,#0000 378px 379px,#0000001c 379px 380px,#00000030 380px 381px,#00000020 381px 382px,#0000 382px 385px,#00000008 385px 386px,#0000 386px 388px,#00000010 388px 389px,#0000000c 389px 390px,#0000 390px 392px,#00000004 392px 393px,#0000 393px 396px,#00000010 396px 399px,#00000020 399px 400px,#00000024 400px 401px,#00000010 401px 402px,#0000 402px 407px,#00000004 407px 409px,#0000 409px 413px,#00000008 413px 414px,#0000 414px 417px,#00000008 417px 418px,#0000 418px 431px,#00000024 431px 432px,#00000020 432px 433px,#00000014 433px 434px,#0000000c 434px 435px,#0000 435px 439px,#00000028 439px 440px,#00000024 440px 443px,#00000020 443px 444px,#00000004 444px 445px,#0000 445px 450px,#00000020 450px 451px,#00000018 451px 452px,#0000001c 452px 453px,#00000014 453px 454px,#0000 454px 457px,#00000020 457px 458px,#00000030 458px 459px,#00000034 459px 460px,#00000014 460px 461px,#0000 461px 467px,#00000008 467px 468px,#0000000c 468px 469px,#00000014 469px 470px,#00000008 470px 471px,#0000 471px 474px,#00000008 474px 475px,#00000010 475px 476px,#0000001c 476px 477px,#00000008 477px 478px,#0000 478px 481px,#00000024 481px 482px,#00000028 482px 483px,#0000 483px 489px,#00000014 489px 490px,#00000004 490px 491px,#0000 491px 493px,#00000010 493px 494px,#0000 494px 497px,#00000004 497px 498px,#0000000c 498px 499px,#0000 499px 500px,#00000004 500px 501px,#0000002c 501px 502px,#00000050 502px 503px,#00000034 503px 504px,#00000020 504px 505px,#0000001c 505px 506px,#00000018 506px 507px,#0000 507px 508px,#0000000c 508px 509px,#00000010 509px 510px,#00000020 510px 511px,#0000001c 511px 512px,#00000010 512px 513px,#0000 513px 516px,#00000014 516px 517px,#00000018 517px 519px,#0000000c 519px 520px,#00000010 520px 522px,#00000004 522px 523px,#0000 523px 528px,#00000008 528px 529px,#0000000c 529px 530px,#00000018 530px 532px,#0000001c 532px 533px,#0000 533px 535px,#00000004 535px 536px,#00000014 536px 537px,#0000 537px 538px,#00000004 538px 539px,#0000000c 539px 540px,#00000024 540px 541px,#0000001c 541px 542px,#00000030 542px 544px,#0000002c 544px 545px,#0000 545px 563px,#00000010 563px 564px,#0000000c 564px 565px,#0000 565px 568px,#00000018 568px 569px,#00000010 569px 570px,#0000 570px 579px,#00000004 579px 580px,#0000 580px 586px,#00000004 586px 587px,#0000 587px 589px,#00000010 589px 590px,#00000024 590px 591px,#00000008 591px 592px,#0000 592px 596px,#00000008 596px 597px,#00000010 597px 599px,#0000 599px 603px,#00000004 603px 604px,#0000000c 604px 605px,#00000014 605px 606px,#00000010 606px 607px,#0000001c 607px 608px,#0000 608px 611px,#0000000c 611px 612px,#0000 612px 615px,#0000000c 615px 616px,#0000 616px 623px,#00000008 623px 624px,#0000 624px 626px,#0000001c 626px 627px,#00000018 627px 628px,#00000010 628px 631px,#00000004 631px 632px,#00000014 632px 633px,#00000028 633px 634px,#00000010 634px 635px,#0000 635px 643px,#00000018 643px 644px,#0000000c 644px 646px,#0000 646px 664px,#0000000c 664px 665px,#0000001c 665px 666px,#00000038 666px 667px,#00000018 667px 668px,#00000004 668px 669px,#0000 669px 674px,#00000008 674px 675px,#0000 675px 683px,#00000014 683px 684px,#0000001c 684px 686px,#00000008 686px 687px,#0000 687px 689px,#00000004 689px 691px,#00000010 691px 692px,#00000028 692px 693px,#00000038 693px 694px,#0000002c 694px 695px,#0000001c 695px 696px,#00000004 696px 697px,#0000 697px 698px,#00000018 698px 699px,#0000003c 699px 700px,#00000048 700px 701px,#00000028 701px 702px,#0000 702px 706px,#00000008 706px 707px,#00000018 707px 708px,#0000000c 708px 709px)"></b></u></div>
<div class="hm" style="left:428px;top:1033px;width:718px;height:689px"><u><i style="background:linear-gradient(#00009e,#00007e,#00006b)"></i><i style="background:linear-gradient(#00009e,#00007e,#00006b)"></i><i style="background:linear-gradient(#00009e,#00007f,#00006b)"></i><i style="background:linear-gradient(#00009e,#000080,#00006d)"></i><i style="background:linear-gradient(#00009e,#000081,#00006f)"></i><i style="background:linear-gradient(#00009d,#000081,#000070)"></i><i style="background:linear-gradient(#00009d,#000082,#000072)"></i><i style="background:linear-gradient(#00009d,#000083,#000074)"></i><i style="background:linear-gradient(#00009d,#000084,#000075)"></i><i style="background:linear-gradient(#00009c,#000085,#007)"></i><i style="background:linear-gradient(#00009b,#000078)"></i><i style="background:linear-gradient(#00009b,#000079)"></i><i style="background:linear-gradient(#00009b,#00007b)"></i><i style="background:linear-gradient(#00009b,#00007d)"></i><i style="background:linear-gradient(#00009d,#000080)"></i><i style="background:linear-gradient(#00009e,#000084)"></i><i style="background:linear-gradient(#00009f,#000087)"></i><i style="background:linear-gradient(#0000a0,#000089)"></i><i style="background:linear-gradient(#0000a1,#00008c)"></i><i style="background:linear-gradient(#0000a1,#00008e)"></i><i style="background:linear-gradient(#0000a2,#000090)"></i><i style="background:linear-gradient(#0000a3,#000092)"></i><i style="background:linear-gradient(#0000a3,#000093)"></i><i style="background:linear-gradient(#0000a3,#000093)"></i><i style="background:linear-gradient(#0000a3,#000095)"></i><i style="background:linear-gradient(#0000a4,#000096)"></i><i style="background:linear-gradient(#0000a4,#000097)"></i><i style="background:linear-gradient(#0000a5,#000098)"></i><i style="background:linear-gradient(#0000a4,#000098)"></i><i style="background:linear-gradient(#0000a2,#000096)"></i><i style="background:linear-gradient(#00009f,#000095)"></i><i style="background:linear-gradient(#00009d,#000093)"></i><i style="background:linear-gradient(#00009c,#000093)"></i><i style="background:linear-gradient(#00009c,#000094)"></i><i style="background:linear-gradient(#00009d,#000096)"></i><i style="background:linear-gradient(#00009e,#000097)"></i><i style="background:linear-gradient(#00009f,#009)"></i><i style="background:linear-gradient(#00009f,#00009a)"></i><i style="background:linear-gradient(#0000a0,#00009b)"></i><i style="background:linear-gradient(#0000a0,#00009b)"></i><i style="background:linear-gradient(#0000a0,#00009c)"></i><i style="background:linear-gradient(#0000a1,#00009c)"></i><i style="background:linear-gradient(#0000a1,#00009d)"></i><i style="background:linear-gradient(#0000a1,#00009d)"></i><i style="background:linear-gradient(#0000a1,#00009d)"></i><i style="background:linear-gradient(#0000a1,#00009e)"></i><i style="background:linear-gradient(#0000a1,#00009e)"></i><i style="background:linear-gradient(#0000a1,#00009f)"></i><i style="background:linear-gradient(#0000a2,#00009f)"></i><i style="background:linear-gradient(#0000a3,#0000a1)"></i><i style="background:linear-gradient(#0000a4,#0000a3)"></i><i style="background:linear-gradient(#0000a6,#0000a4)"></i><i style="background:linear-gradient(#0000a6,#0000a5)"></i><i style="background:linear-gradient(#0000a5,#0000a4)"></i><i style="background:#0000a2"></i><i style="background:#00009f"></i><i style="background:#00009d"></i><i style="background:#00009c"></i><i style="background:linear-gradient(#00009c,#00009d)"></i><i style="background:linear-gradient(#00009d,#00009e)"></i><i style="background:linear-gradient(#00009e,#00009f)"></i><i style="background:linear-gradient(#00009e,#0000a0)"></i><i style="background:linear-gradient(#00009f,#0000a1)"></i><i style="background:linear-gradient(#00009e,#0000a0)"></i><i style="background:linear-gradient(#00009d,#0000a0)"></i><i style="background:linear-gradient(#00009c,#00009f)"></i><i style="background:linear-gradient(#00009b,#00009e)"></i><i style="background:linear-gradient(#00009b,#00009e)"></i><i style="background:linear-gradient(#00009a,#00009d)"></i><i style="background:linear-gradient(#000098,#00009c)"></i><i style="background:linear-gradient(#000096,#00009b)"></i><i style="background:linear-gradient(#000095,#009)"></i><i style="background:linear-gradient(#000094,#009)"></i><i style="background:linear-gradient(#000095,#00009a)"></i><i style="background:linear-gradient(#000096,#00009c)"></i><i style="background:linear-gradient(#000098,#00009e)"></i><i style="background:linear-gradient(#009,#0000a1)"></i><i style="background:linear-gradient(#00009a,#0000a2)"></i><i style="background:linear-gradient(#009,#0000a2)"></i><i style="background:linear-gradient(#009,#0000a3)"></i><i style="background:linear-gradient(#000098,#0000a3)"></i><i style="background:linear-gradient(#000097,#0000a4)"></i><i style="background:linear-gradient(#000097,#0000a4)"></i><i style="background:linear-gradient(#000096,#0000a4)"></i><i style="background:linear-gradient(#000095,#0000a4)"></i><i style="background:linear-gradient(#000093,#0000a3)"></i><i style="background:linear-gradient(#000092,#0000a2)"></i><i style="background:linear-gradient(#000090,#0000a2)"></i><i style="background:linear-gradient(#00008d,#0000a2)"></i><i style="background:linear-gradient(#000086,#0000a0)"></i><i style="background:linear-gradient(#000075,#000098)"></i><i style="background:linear-gradient(#00004f,#000062,#000086)"></i><i style="background:linear-gradient(#000008,#000010,#000016,#00001c,#002,#00002a,#00003b,#00004e,#000064)"></i><i style="background:linear-gradient(#676700,#616100,#5c5c00,#585800,#535300,#4f4f00,#4b4b00,#474700,#434300,#3f3f00,#353500,#272700,#181800,#0a0a00,#000008,#00001b,#00002d)"></i><i style="background:linear-gradient(#fafa00,#f2f200,#ecec00,#e6e600,#e0e000,#dada00,#d4d400,#cfcf00,#c9c900,#c4c400,#b4b400,#9e9e00,#880,#727200,#565600,#383800,#1b1b00)"></i><i style="background:linear-gradient(#ff0,#ff0,#ff0,#ff0,#ff0,#ff0,#ff0,#ff0,#ff0,#ff0,#ff0,#ff0,#ff0,#e3e300,#bcbc00,#949400,#6b6b00)"></i><i style="background:linear-gradient(#ff0,#ff0,#ff0,#ff0,#ff0,#ff0,#ff0,#ff0,#ff0,#ff0,#ff0,#ff0,#ff0,#ff0,#ff0,#ff0,#ff0,#ff0,#ff0,#ff0,#ff0,#ff0,#ff0,#ff0,#ff0,#ff0,#ff0,#ff0,#ff0,#fafa00,#e0e000,#c7c700,#afaf00)"></i><i style="background:linear-gradient(#ff0,#ff0,#ff0,#ff0,#ff0,#ff0,#ff0,#ff0,#ff0,#ff0,#ff0,#ff0,#ff0,#ff0,#ff0,#ff0,#d1d100)"></i><i style="background:linear-gradient(#ff0,#ff0,#ff0,#ff0,#ff0,#ff0,#ff0,#ff0,#ff0,#ff0,#ff0,#ff0,#ff0,#ff0,#ff0,#fcfc00,#c6c600)"></i><i style="background:linear-gradient(#ff0,#ff0,#ff0,#ff0,#ff0,#ff0,#ff0,#ff0,#ff0,#ff0,#ff0,#ff0,#ff0,#ff0,#ff0,#ff0,#ff0,#ff0,#ff0,#ff0,#ff0,#ff0,#ff0,#ff0,#ff0,#ff0,#ff0,#ff0,#efef00,#d8d800,#c0c000,#a9a900,#929200)"></i><i style="background:linear-gradient(#ff0,#ff0,#ff0,#ff0,#ff0,#ff0,#caca00,#8c8c00,#440)"></i><i style="background:linear-gradient(#b8b800,#b3b300,#b0b000,#adad00,#aa0,#a7a700,#a4a400,#a1a100,#9e9e00,#9b9b00,#990,#969600,#939300,#919100,#8e8e00,#8b8b00,#898900,#868600,#848400,#808000,#767600,#6d6d00,#636300,#5a5a00,#505000,#474700,#3d3d00,#323200,#252500,#191900,#0c0c00,#000,#00000c)"></i><i style="background:linear-gradient(#330,#272700,#1f1f00,#161600,#0f0f00,#020200,#000016,#000031,#000050)"></i><i style="background:linear-gradient(#00002a,#00003b,#000047,#00005d,#00007f)"></i><i style="background:linear-gradient(#000061,#00007a,#00009b)"></i><i style="background:linear-gradient(#00007d,#00a)"></i><i style="background:linear-gradient(#00008a,#0000b1)"></i><i style="background:linear-gradient(#00008e,#0000a5,#0000b4)"></i><i style="background:linear-gradient(#000090,#0000a7,#0000b6)"></i><i style="background:linear-gradient(#000091,#0000a8,#0000b7)"></i><i style="background:linear-gradient(#000092,#00a,#0000b9)"></i><i style="background:linear-gradient(#000094,#0000ab,#0000ba)"></i><i style="background:linear-gradient(#000095,#0000ac,#00b)"></i><i style="background:linear-gradient(#000094,#0000ac,#00b)"></i><i style="background:linear-gradient(#000093,#00a,#0000b9)"></i><i style="background:linear-gradient(#000090,#0000a8,#0000b7)"></i><i style="background:linear-gradient(#00008f,#0000a6,#0000b5)"></i><i style="background:linear-gradient(#00008e,#0000a6,#0000b5)"></i><i style="background:linear-gradient(#00008f,#0000a6,#0000b5)"></i><i style="background:linear-gradient(#00008f,#0000a6,#0000b6)"></i><i style="background:linear-gradient(#00008f,#0000a6,#0000b6)"></i><i style="background:linear-gradient(#00008e,#0000a6,#0000b6)"></i><i style="background:linear-gradient(#00008e,#0000b6)"></i><i style="background:linear-gradient(#00008e,#0000b7)"></i><i style="background:linear-gradient(#00008d,#0000b9)"></i><i style="background:linear-gradient(#00008d,#00b)"></i><i style="background:linear-gradient(#00008a,#0000bc)"></i><i style="background:linear-gradient(#000086,#0000bc)"></i><i style="background:linear-gradient(#000080,#00b)"></i><i style="background:linear-gradient(#000079,#0000ba)"></i><i style="background:linear-gradient(#000072,#000090,#0000b9)"></i><i style="background:linear-gradient(#00006a,#000089,#0000b8)"></i><i style="background:linear-gradient(#000063,#000083,#0000b7)"></i><i style="background:linear-gradient(#00005d,#00007e,#0000b7)"></i><i style="background:linear-gradient(#000059,#00007b,#0000b7)"></i><i style="background:linear-gradient(#000057,#00007a,#0000b8)"></i><i style="background:linear-gradient(#000058,#00007b,#0000b9)"></i><i style="background:linear-gradient(#00005c,#00007e,#00b)"></i><i style="background:linear-gradient(#000061,#000082,#0000bc)"></i><i style="background:linear-gradient(#006,#000086,#0000bc)"></i><i style="background:linear-gradient(#00006d,#00008b,#0000bc)"></i><i style="background:linear-gradient(#000074,#000091,#0000bd)"></i><i style="background:linear-gradient(#00007e,#00009a,#0000c0)"></i><i style="background:linear-gradient(#000089,#0000c4)"></i><i style="background:linear-gradient(#000094,#0000c9)"></i><i style="background:linear-gradient(#00009e,#0000ce)"></i><i style="background:linear-gradient(#0000a7,#0000d2)"></i><i style="background:linear-gradient(#0000ae,#0000d5)"></i><i style="background:linear-gradient(#0000b3,#0000d8)"></i><i style="background:linear-gradient(#0000b8,#0000db)"></i><i style="background:linear-gradient(#0000bc,#0000de)"></i><i style="background:linear-gradient(#0000c0,#0000e1)"></i><i style="background:linear-gradient(#0000c3,#0000e3)"></i><i style="background:linear-gradient(#0000c5,#0000e4)"></i><i style="background:linear-gradient(#0000c6,#0000e5)"></i><i style="background:linear-gradient(#0000c6,#0000e5)"></i><i style="background:linear-gradient(#0000c6,#0000e5)"></i><i style="background:linear-gradient(#0000c6,#0000e6)"></i><i style="background:linear-gradient(#0000c7,#0000e6)"></i><i style="background:linear-gradient(#0000c7,#0000e7)"></i><i style="background:linear-gradient(#0000c7,#0000e7)"></i><i style="background:linear-gradient(#0000c7,#0000e7)"></i><i style="background:linear-gradient(#0000c7,#0000e8)"></i><i style="background:linear-gradient(#0000c9,#0000ea)"></i><i style="background:linear-gradient(#00c,#0000ed)"></i><i style="background:linear-gradient(#0000cf,#0000f1)"></i><i style="background:linear-gradient(#0000d2,#0000f4)"></i><i style="background:linear-gradient(#0000d3,#0000f6)"></i><i style="background:linear-gradient(#0000d3,#0000e9,#0000f6)"></i><i style="background:linear-gradient(#0000d2,#0000e8,#0000f5)"></i><i style="background:linear-gradient(#0000d1,#0000e7,#0000f4)"></i><i style="background:linear-gradient(#0000d0,#0000e6,#0000f4)"></i><i style="background:linear-gradient(#0000d0,#0000e6,#0000f4)"></i><i style="background:linear-gradient(#0000d1,#0000f5)"></i><i style="background:linear-gradient(#0000d2,#0000f6)"></i><i style="background:linear-gradient(#0000d2,#0000e9,#0000f7)"></i><i style="background:linear-gradient(#0000d3,#0000ea,#0000f8)"></i><i style="background:linear-gradient(#0000d4,#0000f9)"></i><i style="background:linear-gradient(#0000d5,#0000fa)"></i><i style="background:linear-gradient(#0000d6,#0000ed,#0000fc)"></i><i style="background:linear-gradient(#0000d7,#0000ef,#0000fd)"></i><i style="background:linear-gradient(#0000d8,#0000f0,#00f)"></i><i style="background:linear-gradient(#0000d9,#0000f0,#00f)"></i><i style="background:linear-gradient(#0000d8,#0000f0,#00f)"></i><i style="background:linear-gradient(#0000d8,#0000ef,#0000fe)"></i><i style="background:linear-gradient(#0000d7,#00e,#0000fd)"></i><i style="background:linear-gradient(#0000d6,#00e,#0000fc)"></i><i style="background:linear-gradient(#0000d6,#0000ed,#0000fc)"></i><i style="background:linear-gradient(#0000d6,#0000fc)"></i><i style="background:linear-gradient(#0000d5,#0000ed,#0000fb)"></i><i style="background:linear-gradient(#0000d5,#0000ec,#0000fb)"></i><i style="background:linear-gradient(#0000d4,#0000ec,#0000fb)"></i><i style="background:linear-gradient(#0000d4,#0000ec,#0000fa)"></i><i style="background:linear-gradient(#0000d5,#0000fb)"></i><i style="background:linear-gradient(#0000d6,#0000ed,#0000fc)"></i><i style="background:linear-gradient(#0000d7,#0000ef,#0000fd)"></i><i style="background:linear-gradient(#0000d8,#0000f0,#0000fe)"></i><i style="background:linear-gradient(#0000d9,#0000f0,#00f)"></i><i style="background:linear-gradient(#0000d9,#0000f0,#00f)"></i><i style="background:linear-gradient(#0000d9,#0000f1,#00f)"></i><i style="background:linear-gradient(#0000da,#0000f1,#00f)"></i><i style="background:linear-gradient(#0000da,#0000f1,#00f)"></i><i style="background:linear-gradient(#0000da,#0000f2,#00f)"></i><i style="background:linear-gradient(#0000da,#0000f1,#00f)"></i><i style="background:linear-gradient(#0000d8,#0000f0,#00f)"></i><i style="background:linear-gradient(#0000d7,#00e,#0000fd)"></i><i style="background:linear-gradient(#0000d6,#0000ed,#0000fc)"></i><i style="background:linear-gradient(#0000d5,#0000ed,#0000fb)"></i><i style="background:linear-gradient(#0000d5,#0000ed,#0000fc)"></i><i style="background:linear-gradient(#0000d6,#00e,#0000fc)"></i><i style="background:linear-gradient(#0000d7,#0000ef,#0000fd)"></i><i style="background:linear-gradient(#0000d8,#0000ef,#0000fe)"></i><i style="background:linear-gradient(#0000d8,#0000f0,#0000fe)"></i><i style="background:linear-gradient(#0000d8,#0000ef,#0000fe)"></i><i style="background:linear-gradient(#0000d8,#0000ef,#0000fe)"></i><i style="background:linear-gradient(#0000d7,#0000ef,#0000fe)"></i><i style="background:linear-gradient(#0000d7,#0000ef,#0000fd)"></i><i style="background:linear-gradient(#0000d7,#0000ef,#0000fd)"></i><i style="background:linear-gradient(#0000d7,#00e,#0000fd)"></i><i style="background:linear-gradient(#0000d6,#0000ed,#0000fb)"></i><i style="background:linear-gradient(#0000d4,#0000eb,#0000f9)"></i><i style="background:linear-gradient(#0000d3,#0000ea,#0000f8)"></i><i style="background:linear-gradient(#0000d3,#0000e9,#0000f7)"></i><i style="background:linear-gradient(#0000d4,#0000f8)"></i><i style="background:linear-gradient(#0000d6,#0000fa)"></i><i style="background:linear-gradient(#0000d8,#00e,#0000fb)"></i><i style="background:linear-gradient(#0000da,#0000fd)"></i><i style="background:linear-gradient(#0000db,#0000fd)"></i><i style="background:linear-gradient(#0000db,#0000fe)"></i><i style="background:linear-gradient(#0000dc,#0000fe)"></i><i style="background:linear-gradient(#00d,#0000fe)"></i><i style="background:linear-gradient(#0000de,#00f)"></i><i style="background:linear-gradient(#0000de,#00f)"></i><i style="background:linear-gradient(#0000df,#00f)"></i><i style="background:linear-gradient(#0000e1,#00f)"></i><i style="background:linear-gradient(#0000e2,#0000f6,#00f)"></i><i style="background:linear-gradient(#0000e4,#0000f7,#00f)"></i><i style="background:linear-gradient(#0000e5,#0000f8,#00f)"></i><i style="background:linear-gradient(#0000e4,#0000f7,#00f)"></i><i style="background:linear-gradient(#0000e3,#0000f6,#00f)"></i><i style="background:linear-gradient(#0000e2,#00f)"></i><i style="background:linear-gradient(#0000e0,#0000fe)"></i><i style="background:linear-gradient(#0000e0,#0000fd)"></i><i style="background:linear-gradient(#0000e1,#0000fd)"></i><i style="background:linear-gradient(#0000e1,#0000fd)"></i><i style="background:linear-gradient(#0000e1,#0000fd)"></i><i style="background:linear-gradient(#0000e2,#0000fd)"></i><i style="background:linear-gradient(#0000e2,#0000fd)"></i><i style="background:linear-gradient(#0000e2,#0000fd)"></i><i style="background:linear-gradient(#0000e2,#0000fd)"></i><i style="background:linear-gradient(#0000e2,#0000fd)"></i><i style="background:linear-gradient(#0000e3,#0000fd)"></i><i style="background:linear-gradient(#0000e3,#0000fd)"></i><i style="background:linear-gradient(#0000e3,#0000fd)"></i><i style="background:linear-gradient(#0000e3,#0000fd)"></i><i style="background:linear-gradient(#0000e3,#0000fd)"></i><i style="background:linear-gradient(#0000e4,#0000fd)"></i><i style="background:linear-gradient(#0000e4,#0000fd)"></i><i style="background:linear-gradient(#0000e4,#0000fd)"></i><i style="background:linear-gradient(#0000e4,#0000fd)"></i><i style="background:linear-gradient(#0000e4,#0000fc)"></i><i style="background:linear-gradient(#0000e4,#0000fc)"></i><i style="background:linear-gradient(#0000e4,#0000fc)"></i><i style="background:linear-gradient(#0000e4,#0000fc)"></i><i style="background:linear-gradient(#0000e4,#0000fb)"></i><i style="background:linear-gradient(#0000e2,#0000fa)"></i><i style="background:linear-gradient(#0000de,#0000f6)"></i><i style="background:linear-gradient(#0000d7,#00e)"></i><i style="background:linear-gradient(#00c,#0000e3)"></i><i style="background:linear-gradient(#0000be,#0000d5)"></i><i style="background:linear-gradient(#0000b1,#0000c8)"></i><i style="background:linear-gradient(#0000a9,#0000c0)"></i><i style="background:linear-gradient(#0000a9,#0000c0)"></i><i style="background:linear-gradient(#0000b1,#0000c7)"></i><i style="background:linear-gradient(#0000be,#0000d4)"></i><i style="background:linear-gradient(#0000cb,#0000e2)"></i><i style="background:linear-gradient(#0000d7,#0000ed)"></i><i style="background:linear-gradient(#0000df,#0000f5)"></i><i style="background:linear-gradient(#0000e4,#0000fa)"></i><i style="background:linear-gradient(#0000e7,#0000fd)"></i><i style="background:linear-gradient(#0000ea,#00f)"></i><i style="background:linear-gradient(#0000eb,#00f)"></i><i style="background:linear-gradient(#0000ec,#00f)"></i><i style="background:linear-gradient(#0000ec,#00f)"></i><i style="background:linear-gradient(#0000ed,#00f)"></i><i style="background:linear-gradient(#0000ed,#00f)"></i><i style="background:linear-gradient(#0000ed,#00f)"></i><i style="background:linear-gradient(#00e,#00f)"></i><i style="background:linear-gradient(#00e,#00f)"></i><i style="background:linear-gradient(#0000ec,#00f)"></i><i style="background:linear-gradient(#0000e7,#00f)"></i><i style="background:linear-gradient(#0000e3,#00f)"></i><i style="background:linear-gradient(#0000de,#0000fe)"></i><i style="background:linear-gradient(#0000d8,#0000fc)"></i><i style="background:linear-gradient(#0000d2,#0000ea,#0000f9)"></i><i style="background:linear-gradient(#0000ca,#0000e5,#0000f6)"></i><i style="background:linear-gradient(#0000c2,#0000df,#0000f3)"></i><i style="background:linear-gradient(#0000ba,#0000da,#0000ef)"></i><i style="background:linear-gradient(#0000b2,#0000d5,#0000ed)"></i><i style="background:linear-gradient(#00a,#0000d0,#0000eb)"></i><i style="background:linear-gradient(#0000a2,#00c,#0000e9)"></i><i style="background:linear-gradient(#009,#0000c6,#0000e6)"></i><i style="background:linear-gradient(#00008e,#0000bf,#0000e2)"></i><i style="background:linear-gradient(#000083,#0000a2,#0000b7,#0000cb,#00d)"></i><i style="background:linear-gradient(#00007c,#00009b,#0000b2,#0000c6,#0000d9)"></i><i style="background:linear-gradient(#000076,#000095,#0000ac,#0000c1,#0000d5)"></i><i style="background:linear-gradient(#000071,#000091,#0000a8,#0000bd,#0000d1)"></i><i style="background:linear-gradient(#00006f,#0000a6,#0000d0)"></i><i style="background:linear-gradient(#00006e,#00008e,#0000a5,#00b,#0000cf)"></i><i style="background:linear-gradient(#000070,#0000a6,#0000cf)"></i><i style="background:linear-gradient(#000073,#0000a8,#0000d0)"></i><i style="background:linear-gradient(#007,#0000ab,#0000d2)"></i><i style="background:linear-gradient(#00007c,#0000ae,#0000d3)"></i><i style="background:linear-gradient(#000081,#0000b0,#0000d4)"></i><i style="background:linear-gradient(#000082,#0000b0,#0000d3)"></i><i style="background:linear-gradient(#00007f,#00a,#0000cd)"></i><i style="background:linear-gradient(#000074,#0000c2)"></i><i style="background:linear-gradient(#00005f,#0000af)"></i><i style="background:linear-gradient(#00003f,#000064,#000094)"></i><i style="background:linear-gradient(#000017,#000024,#00002c,#000034,#00003b,#000045,#000059,#000068,#000072)"></i><i style="background:linear-gradient(#161600,#0a0a00,#020200,#000006,#00000d,#000018,#000030,#000043,#00004e)"></i><i style="background:linear-gradient(#414100,#343400,#2c2c00,#252500,#1e1e00,#121200,#00000a,#00001f,#00002b)"></i><i style="background:linear-gradient(#5f5f00,#585800,#545400,#505000,#4c4c00,#484800,#454500,#414100,#3e3e00,#3b3b00,#313100,#220,#121200,#030300,#000005,#00000b,#000012)"></i><i style="background:linear-gradient(#6c6c00,#606000,#595900,#525200,#4c4c00,#3e3e00,#1e1e00,#060600,#000007)"></i><i style="background:linear-gradient(#626200,#575700,#4f4f00,#494900,#434300,#363600,#171700,#000001,#00000d)"></i><i style="background:linear-gradient(#454500,#3a3a00,#330,#2c2c00,#262600,#1a1a00,#000002,#000018,#000024)"></i><i style="background:linear-gradient(#1c1c00,#110,#0a0a00,#040400,#000002,#00000e,#000026,#000039,#000045)"></i><i style="background:linear-gradient(#00000c,#000016,#00001d,#000024,#00002a,#000035,#00004a,#00005c,#000068)"></i><i style="background:linear-gradient(#002,#004,#000084)"></i><i style="background:linear-gradient(#00001a,#004,#000092)"></i><i style="background:linear-gradient(#0d0d00,#000001,#00000b,#000016,#000029,#00003d,#000053,#00006e,#00008f)"></i><i style="background:linear-gradient(#440,#353500,#292900,#1b1b00,#020200,#000018,#000032,#005,#000082)"></i><i style="background:linear-gradient(#717100,#686800,#606000,#595900,#535300,#4c4c00,#434300,#343400,#252500,#161600,#070700,#000008,#000017,#000026,#000040,#00005b,#000076)"></i><i style="background:linear-gradient(#787800,#6f6f00,#676700,#606000,#595900,#535300,#494900,#3a3a00,#2a2a00,#1b1b00,#0c0c00,#000004,#000013,#000023,#00003d,#00005a,#000076)"></i><i style="background:linear-gradient(#515100,#414100,#343400,#252500,#090900,#000012,#00002e,#000054,#000087)"></i><i style="background:linear-gradient(#080800,#000006,#001,#00001d,#003,#000049,#00005f,#00007c,#0000a4)"></i><i style="background:linear-gradient(#00004a,#00005e,#000076,#000095,#0000c4)"></i><i style="background:linear-gradient(#00008e,#00009d,#0000ae,#0000c2,#0000de)"></i><i style="background:linear-gradient(#0000ba,#0000ef)"></i><i style="background:linear-gradient(#0000d3,#0000f8)"></i><i style="background:linear-gradient(#0000de,#0000fb)"></i><i style="background:linear-gradient(#0000e2,#0000fd)"></i><i style="background:linear-gradient(#0000e5,#0000fd)"></i><i style="background:linear-gradient(#0000e6,#0000fe)"></i><i style="background:linear-gradient(#0000e8,#0000fe)"></i><i style="background:linear-gradient(#0000ea,#00f)"></i><i style="background:linear-gradient(#0000eb,#00f)"></i><i style="background:linear-gradient(#0000ec,#00f)"></i><i style="background:linear-gradient(#0000ed,#00f)"></i><i style="background:linear-gradient(#00e,#00f)"></i><i style="background:linear-gradient(#0000f0,#00f)"></i><i style="background:linear-gradient(#0000f1,#00f)"></i><i style="background:linear-gradient(#0000f2,#00f)"></i><i style="background:linear-gradient(#0000f2,#00f)"></i><i style="background:linear-gradient(#0000f2,#00f)"></i><i style="background:linear-gradient(#0000f2,#00f)"></i><i style="background:linear-gradient(#0000f1,#00f)"></i><i style="background:linear-gradient(#0000f2,#00f)"></i><i style="background:linear-gradient(#0000f2,#00f)"></i><i style="background:linear-gradient(#0000f3,#00f)"></i><i style="background:linear-gradient(#0000f5,#00f)"></i><i style="background:linear-gradient(#0000f5,#00f)"></i><i style="background:linear-gradient(#0000f5,#00f)"></i><b style="background:linear-gradient(90deg,#0000 0px 7px,#00000008 7px 8px,#00000020 8px 9px,#0000 9px 12px,#00000024 12px 13px,#00000028 13px 14px,#0000001c 14px 15px,#00000018 15px 17px,#00000010 17px 18px,#00000004 18px 19px,#0000 19px 24px,#0000001c 24px 25px,#00000024 25px 26px,#0000000c 26px 27px,#0000 27px 29px,#00000008 29px 30px,#0000002c 30px 31px,#0000000c 31px 32px,#00000008 32px 33px,#0000 33px 34px,#0000000c 34px 35px,#0000 35px 37px,#00000010 37px 38px,#00000008 38px 39px,#0000 39px 44px,#00000008 44px 46px,#0000 46px 49px,#00000018 49px 50px,#0000 50px 54px,#00000004 54px 55px,#0000 55px 56px,#0000000c 56px 57px,#00000008 57px 58px,#0000 58px 62px,#00000024 62px 63px,#00000028 63px 64px,#0000001c 64px 65px,#0000 65px 71px,#00000004 71px 72px,#0000 72px 77px,#00000028 77px 79px,#00000014 79px 80px,#0000 80px 85px,#00000024 85px 86px,#00000054 86px 87px,#00000030 87px 88px,#00000008 88px 89px,#0000 89px 103px,#00000008 103px 104px,#0000 104px 112px,#0000000c 112px 113px,#00000004 113px 114px,#0000 114px 125px,#00000008 125px 126px,#00000018 126px 127px,#00000020 127px 128px,#00000010 128px 129px,#0000 129px 130px,#00000008 130px 131px,#00000034 131px 132px,#00000020 132px 133px,#0000 133px 137px,#0000002c 137px 138px,#00000010 138px 139px,#0000000c 139px 140px,#00000004 140px 141px,#0000 141px 145px,#00000014 145px 146px,#00000018 146px 147px,#0000 147px 153px,#00000018 153px 154px,#00000014 154px 156px,#00000010 156px 157px,#00000008 157px 158px,#00000010 158px 159px,#00000018 159px 160px,#00000010 160px 161px,#0000 161px 165px,#00000004 165px 166px,#00000018 166px 167px,#00000024 167px 168px,#00000008 168px 169px,#0000 169px 172px,#00000008 172px 173px,#00000010 173px 174px,#0000 174px 178px,#00000010 178px 180px,#0000 180px 202px,#00000008 202px 203px,#0000000c 203px 204px,#00000014 204px 205px,#00000024 205px 206px,#00000014 206px 207px,#0000000c 207px 208px,#0000 208px 211px,#00000004 211px 212px,#0000 212px 214px,#00000008 214px 215px,#0000000c 215px 217px,#00000004 217px 218px,#00000010 218px 219px,#00000004 219px 220px,#0000 220px 225px,#00000010 225px 226px,#00000020 226px 227px,#00000030 227px 228px,#00000018 228px 229px,#00000030 229px 230px,#00000038 230px 231px,#0000004c 231px 232px,#00000024 232px 233px,#00000004 233px 234px,#0000 234px 239px,#00000014 239px 240px,#00000034 240px 241px,#00000038 241px 242px,#0000000c 242px 243px,#0000 243px 253px,#00000030 253px 254px,#00000014 254px 255px,#0000 255px 258px,#0000000c 258px 259px,#0000002c 259px 260px,#00000040 260px 261px,#00000044 261px 262px,#00000024 262px 263px,#00000004 263px 264px,#0000 264px 268px,#00000004 268px 269px,#0000001c 269px 270px,#00000024 270px 271px,#00000010 271px 272px,#00000004 272px 273px,#0000 273px 276px,#0000000c 276px 277px,#0000001c 277px 278px,#00000018 278px 279px,#00000004 279px 280px,#0000 280px 281px,#00000008 281px 282px,#00000020 282px 283px,#00000030 283px 284px,#0000000c 284px 285px,#0000 285px 288px,#0000000c 288px 289px,#0000 289px 290px,#00000014 290px 291px,#00000020 291px 292px,#00000028 292px 293px,#00000008 293px 294px,#0000 294px 295px,#00000010 295px 296px,#0000 296px 304px,#00000028 304px 305px,#00000050 305px 306px,#0000005c 306px 307px,#00000024 307px 308px,#0000 308px 312px,#0000000c 312px 313px,#0000002c 313px 314px,#00000024 314px 316px,#0000002c 316px 317px,#00000018 317px 318px,#0000 318px 320px,#00000004 320px 321px,#0000 321px 324px,#00000004 324px 325px,#0000 325px 328px,#00000028 328px 329px,#00000024 329px 330px,#00000004 330px 331px,#0000 331px 338px,#0000000c 338px 340px,#00000024 340px 341px,#00000038 341px 343px,#00000010 343px 344px,#0000 344px 349px,#00000028 349px 350px,#00000038 350px 351px,#00000024 351px 352px,#00000010 352px 353px,#0000 353px 355px,#0000000c 355px 356px,#00000018 356px 357px,#00000038 357px 358px,#00000008 358px 359px,#0000 359px 367px,#00000008 367px 368px,#0000 368px 372px,#00000004 372px 373px,#00000008 373px 374px,#0000 374px 376px,#00000010 376px 377px,#00000030 377px 379px,#00000018 379px 380px,#0000 380px 381px,#00000008 381px 382px,#00000020 382px 383px,#0000003c 383px 384px,#00000034 384px 385px,#00000008 385px 386px,#0000 386px 388px,#0000000c 388px 389px,#00000020 389px 391px,#00000030 391px 392px,#00000040 392px 393px,#00000044 393px 394px,#0000002c 394px 395px,#00000024 395px 396px,#00000020 396px 397px,#0000 397px 399px,#00000010 399px 400px,#00000018 400px 401px,#0000 401px 407px,#00000008 407px 409px,#00000004 409px 410px,#0000 410px 423px,#0000001c 423px 424px,#00000038 424px 425px,#00000044 425px 426px,#0000 426px 427px,#00000008 427px 429px,#00000044 429px 430px,#0000004c 430px 431px,#00000040 431px 432px,#0000 432px 435px,#00000018 435px 436px,#00000020 436px 437px,#00000038 437px 438px,#00000028 438px 439px,#0000000c 439px 440px,#0000 440px 442px,#00000030 442px 443px,#0000003c 443px 444px,#00000018 444px 445px,#00000014 445px 446px,#00000038 446px 447px,#00000028 447px 448px,#0000 448px 450px,#00000040 450px 451px,#00000054 451px 452px,#00000030 452px 453px,#0000 453px 454px,#0000000c 454px 455px,#00000024 455px 456px,#0000001c 456px 457px,#0000 457px 458px,#00000018 458px 459px,#0000002c 459px 460px,#00000038 460px 461px,#00000024 461px 462px,#0000000c 462px 463px,#0000 463px 464px,#00000024 464px 465px,#0000004c 465px 466px,#00000044 466px 467px,#0000002c 467px 468px,#00000010 468px 469px,#0000 469px 472px,#00000004 472px 473px,#0000 473px 475px,#00000008 475px 476px,#0000000c 476px 477px,#0000 477px 481px,#00000008 481px 482px,#00000024 482px 483px,#00000014 483px 484px,#0000 484px 487px,#0000002c 487px 488px,#00000028 488px 489px,#00000014 489px 490px,#0000 490px 497px,#00000018 497px 498px,#00000010 498px 499px,#0000 499px 500px,#00000008 500px 501px,#00000014 501px 502px,#0000 502px 507px,#0000001c 507px 508px,#00000014 508px 509px,#0000 509px 511px,#00000018 511px 512px,#00000014 512px 513px,#0000 513px 525px,#00000004 525px 526px,#0000 526px 529px,#0000000c 529px 531px,#00000010 531px 532px,#0000 532px 535px,#00000028 535px 536px,#00000020 536px 537px,#0000000c 537px 538px,#00000020 538px 539px,#0000002c 539px 540px,#00000040 540px 541px,#00000030 541px 542px,#00000020 542px 543px,#0000002c 543px 544px,#00000020 544px 545px,#0000 545px 548px,#00000004 548px 549px,#0000 549px 551px,#00000008 551px 552px,#00000014 552px 553px,#00000018 553px 554px,#0000001c 554px 555px,#00000020 555px 556px,#0000 556px 564px,#00000004 564px 565px,#00000008 565px 566px,#0000 566px 567px,#00000024 567px 568px,#00000040 568px 569px,#0000003c 569px 570px,#0000001c 570px 571px,#0000000c 571px 572px,#0000 572px 573px,#00000010 573px 574px,#00000014 574px 575px,#00000018 575px 576px,#00000010 576px 577px,#00000004 577px 578px,#0000 578px 580px,#0000000c 580px 581px,#00000004 581px 582px,#00000008 582px 583px,#0000 583px 586px,#00000010 586px 587px,#0000 587px 588px,#00000004 588px 591px,#0000 591px 593px,#00000014 593px 594px,#0000001c 594px 595px,#0000000c 595px 596px,#00000010 596px 597px,#00000008 597px 598px,#0000 598px 601px,#0000000c 601px 602px,#00000038 602px 603px,#00000024 603px 604px,#00000008 604px 605px,#0000 605px 606px,#00000020 606px 607px,#0000003c 607px 608px,#00000020 608px 609px,#0000 609px 619px,#00000004 619px 620px,#00000020 620px 621px,#00000030 621px 622px,#0000002c 622px 623px,#00000018 623px 624px,#00000014 624px 625px,#00000004 625px 626px,#0000 626px 629px,#00000010 629px 630px,#00000034 630px 631px,#00000020 631px 632px,#0000 632px 638px,#00000004 638px 639px,#00000024 639px 640px,#00000004 640px 641px,#0000 641px 644px,#00000014 644px 645px,#0000003c 645px 647px,#0000001c 647px 648px,#0000 648px 651px,#00000024 651px 653px,#00000018 653px 655px,#0000000c 655px 656px,#0000 656px 658px,#00000008 658px 659px,#00000018 659px 660px,#00000010 660px 661px,#00000014 661px 663px,#00000018 663px 664px,#0000000c 664px 665px,#00000008 665px 666px,#0000 666px 671px,#00000030 671px 672px,#00000050 672px 673px,#00000058 673px 674px,#0000004c 674px 675px,#00000030 675px 676px,#0000002c 676px 677px,#00000024 677px 678px,#00000008 678px 679px,#0000 679px 681px,#00000038 681px 682px,#00000028 682px 683px,#00000008 683px 684px,#0000 684px 685px,#00000004 685px 686px,#0000 686px 688px,#00000004 688px 689px,#00000014 689px 690px,#0000 690px 693px,#0000000c 693px 694px,#0000 694px 695px,#00000018 695px 696px,#00000030 696px 697px,#00000028 697px 698px,#0000000c 698px 699px,#0000 699px 705px,#00000014 705px 706px,#00000030 706px 707px,#00000048 707px 708px,#00000034 708px 709px,#00000018 709px 710px,#0000000c 710px 712px,#0000 712px 717px,#0000000c 717px 718px)"></b></u></div>
<div class="hm" style="left:1291px;top:1035px;width:720px;height:690px"><u><i style="background:linear-gradient(#007,#00006a)"></i><i style="background:linear-gradient(#007,#00006a)"></i><i style="background:linear-gradient(#007,#00006b)"></i><i style="background:linear-gradient(#000076,#00006b)"></i><i style="background:linear-gradient(#000075,#00006b)"></i><i style="background:linear-gradient(#000073,#00006a)"></i><i style="background:linear-gradient(#000072,#00006a)"></i><i style="background:linear-gradient(#000072,#00006b)"></i><i style="background:linear-gradient(#000072,#00006d)"></i><i style="background:linear-gradient(#000073,#00006e)"></i><i style="background:linear-gradient(#000073,#000070)"></i><i style="background:linear-gradient(#000074,#000072)"></i><i style="background:linear-gradient(#000074,#000073)"></i><i style="background:#000075"></i><i style="background:linear-gradient(#000076,#007)"></i><i style="background:linear-gradient(#007,#00007a)"></i><i style="background:linear-gradient(#000078,#00007c)"></i><i style="background:linear-gradient(#000079,#00007e)"></i><i style="background:linear-gradient(#000079,#00007f)"></i><i style="background:linear-gradient(#000079,#000080)"></i><i style="background:linear-gradient(#000078,#000080)"></i><i style="background:linear-gradient(#000078,#000081)"></i><i style="background:linear-gradient(#000078,#000081)"></i><i style="background:linear-gradient(#000078,#000082)"></i><i style="background:linear-gradient(#000078,#000082)"></i><i style="background:linear-gradient(#000078,#000083)"></i><i style="background:linear-gradient(#000078,#000083)"></i><i style="background:linear-gradient(#000078,#000084)"></i><i style="background:linear-gradient(#000078,#000085)"></i><i style="background:linear-gradient(#000078,#000085)"></i><i style="background:linear-gradient(#000079,#000086)"></i><i style="background:linear-gradient(#000079,#000087)"></i><i style="background:linear-gradient(#000079,#008)"></i><i style="background:linear-gradient(#000079,#000089)"></i><i style="background:linear-gradient(#00007a,#000089)"></i><i style="background:linear-gradient(#00007a,#00008a)"></i><i style="background:linear-gradient(#00007a,#00008b)"></i><i style="background:linear-gradient(#00007a,#00008b)"></i><i style="background:linear-gradient(#00007a,#00008c)"></i><i style="background:linear-gradient(#000079,#00008c)"></i><i style="background:linear-gradient(#000079,#00008b)"></i><i style="background:linear-gradient(#000078,#00008b)"></i><i style="background:linear-gradient(#000078,#00008b)"></i><i style="background:linear-gradient(#000078,#00008b)"></i><i style="background:linear-gradient(#007,#00008c)"></i><i style="background:linear-gradient(#007,#00008b)"></i><i style="background:linear-gradient(#007,#00008c)"></i><i style="background:linear-gradient(#007,#00008c)"></i><i style="background:linear-gradient(#000076,#00008c)"></i><i style="background:linear-gradient(#000076,#00008c)"></i><i style="background:linear-gradient(#000075,#00008b)"></i><i style="background:linear-gradient(#000075,#00008b)"></i><i style="background:linear-gradient(#000075,#00008b)"></i><i style="background:linear-gradient(#000075,#00008c)"></i><i style="background:linear-gradient(#007,#00008e)"></i><i style="background:linear-gradient(#000079,#000091)"></i><i style="background:linear-gradient(#00007a,#000093)"></i><i style="background:linear-gradient(#00007b,#000094)"></i><i style="background:linear-gradient(#00007b,#000094)"></i><i style="background:linear-gradient(#00007c,#000095)"></i><i style="background:linear-gradient(#00007c,#000096)"></i><i style="background:linear-gradient(#00007d,#000097)"></i><i style="background:linear-gradient(#00007d,#000098)"></i><i style="background:linear-gradient(#00007d,#000097)"></i><i style="background:linear-gradient(#00007b,#000096)"></i><i style="background:linear-gradient(#00007a,#000095)"></i><i style="background:linear-gradient(#000078,#000094)"></i><i style="background:linear-gradient(#000078,#000094)"></i><i style="background:linear-gradient(#000078,#000095)"></i><i style="background:linear-gradient(#000079,#000096)"></i><i style="background:linear-gradient(#00007a,#000098)"></i><i style="background:linear-gradient(#00007b,#009)"></i><i style="background:linear-gradient(#00007c,#00009a)"></i><i style="background:linear-gradient(#00007c,#00009a)"></i><i style="background:linear-gradient(#00007c,#00009b)"></i><i style="background:linear-gradient(#00007d,#00009c)"></i><i style="background:linear-gradient(#00007d,#00009d)"></i><i style="background:linear-gradient(#00007d,#00009e)"></i><i style="background:linear-gradient(#00007c,#00009e)"></i><i style="background:linear-gradient(#000079,#00009c)"></i><i style="background:linear-gradient(#000076,#00008c,#009)"></i><i style="background:linear-gradient(#000073,#00008a,#000098)"></i><i style="background:linear-gradient(#000072,#000089,#000097)"></i><i style="background:linear-gradient(#000072,#00008a,#000098)"></i><i style="background:linear-gradient(#000073,#00008b,#009)"></i><i style="background:linear-gradient(#000074,#00008c,#00009b)"></i><i style="background:linear-gradient(#000074,#00008d,#00009c)"></i><i style="background:linear-gradient(#000074,#00008d,#00009d)"></i><i style="background:linear-gradient(#000073,#00008d,#00009e)"></i><i style="background:linear-gradient(#000071,#00008c,#00009f)"></i><i style="background:linear-gradient(#00006a,#0000a0)"></i><i style="background:linear-gradient(#005,#000072,#00009e)"></i><i style="background:linear-gradient(#000024,#000030,#000038,#00003f,#000046,#000050,#000064,#000079,#000098)"></i><i style="background:linear-gradient(#373700,#2f2f00,#2a2a00,#242400,#202000,#1b1b00,#171700,#131300,#0e0e00,#0a0a00,#000002,#000014,#000026,#000038,#00004f,#006,#00008a)"></i><i style="background:linear-gradient(#c8c800,#c2c200,#bebe00,#baba00,#b7b700,#b4b400,#b0b000,#adad00,#aa0,#a7a700,#a4a400,#a2a200,#9f9f00,#9c9c00,#990,#969600,#949400,#919100,#8e8e00,#898900,#7a7a00,#6a6a00,#5a5a00,#4b4b00,#3b3b00,#2b2b00,#1c1c00,#090900,#00000c,#000020,#000034,#000053,#000074)"></i><i style="background:linear-gradient(#ff0,#ff0,#ff0,#ff0,#ff0,#ff0,#ff0,#ff0,#ff0,#ff0,#ff0,#ff0,#ff0,#ff0,#ff0,#ff0,#ff0,#ff0,#ff0,#ff0,#ff0,#ff0,#eaea00,#d2d200,#baba00,#a2a200,#898900,#6c6c00,#4c4c00,#2c2c00,#0d0d00,#000023,#000057)"></i><i style="background:linear-gradient(#ff0,#ff0,#ff0,#ff0,#ff0,#ff0,#ff0,#ff0,#ff0,#ff0,#ff0,#ff0,#ff0,#ff0,#ff0,#ff0,#ff0,#ff0,#ff0,#ff0,#ff0,#ff0,#ff0,#ff0,#ff0,#ff0,#fcfc00,#d3d300,#a8a800,#7c7c00,#505000,#0f0f00,#000039)"></i><i style="background:linear-gradient(#ff0,#ff0,#ff0,#ff0,#ff0,#ff0,#ff0,#ff0,#ff0,#ff0,#ff0,#ff0,#ff0,#ff0,#ff0,#ff0,#ff0,#ff0,#ff0,#ff0,#ff0,#ff0,#ff0,#ff0,#ff0,#ff0,#ff0,#ff0,#ecec00,#b7b700,#828200,#343400,#002)"></i><i style="background:linear-gradient(#ff0,#ff0,#ff0,#ff0,#ff0,#ff0,#ff0,#ff0,#ff0,#ff0,#ff0,#ff0,#ff0,#ff0,#ff0,#ff0,#ff0,#ff0,#ff0,#ff0,#ff0,#ff0,#ff0,#ff0,#ff0,#ff0,#ff0,#ff0,#ff0,#c9c900,#929200,#3f3f00,#00001c)"></i><i style="background:linear-gradient(#ff0,#ff0,#ff0,#ff0,#ff0,#ff0,#ff0,#ff0,#ff0,#ff0,#ff0,#ff0,#ff0,#ff0,#ff0,#ff0,#ff0,#ff0,#ff0,#ff0,#ff0,#ff0,#ff0,#ff0,#ff0,#ff0,#ff0,#ff0,#dede00,#abab00,#787800,#2c2c00,#000027)"></i><i style="background:linear-gradient(#ff0,#ff0,#ff0,#ff0,#ff0,#ff0,#ff0,#ff0,#ff0,#ff0,#ff0,#ff0,#ff0,#ff0,#ff0,#ff0,#ff0,#ff0,#ff0,#ff0,#ff0,#ff0,#ff0,#ff0,#ff0,#fefe00,#dfdf00,#baba00,#919100,#686800,#3f3f00,#020200,#000041)"></i><i style="background:linear-gradient(#ff0,#ff0,#ff0,#ff0,#ff0,#ff0,#ff0,#ff0,#ff0,#ff0,#ff0,#ff0,#ff0,#ff0,#ff0,#ff0,#ff0,#ff0,#ff0,#ff0,#efef00,#d9d900,#c3c300,#adad00,#979700,#818100,#6b6b00,#505000,#343400,#171700,#000006,#000031,#000060)"></i><i style="background:linear-gradient(#a2a200,#989800,#909000,#8a8a00,#848400,#7e7e00,#787800,#727200,#6d6d00,#686800,#550,#393900,#1e1e00,#020200,#000021,#000045,#00007c)"></i><i style="background:linear-gradient(#202000,#101000,#060600,#000003,#00000c,#00001b,#00003b,#00005f,#000091)"></i><i style="background:linear-gradient(#00002f,#00003d,#000046,#00004e,#000056,#000060,#000071,#000084,#00009e)"></i><i style="background:linear-gradient(#000058,#00007b,#0000a6)"></i><i style="background:linear-gradient(#000069,#00007f,#00008c,#00009a,#0000a9)"></i><i style="background:linear-gradient(#000070,#000093,#0000ab)"></i><i style="background:linear-gradient(#000071,#000095,#0000ac)"></i><i style="background:linear-gradient(#000072,#000095,#0000ac)"></i><i style="background:linear-gradient(#000072,#000096,#0000ac)"></i><i style="background:linear-gradient(#000072,#000096,#0000ad)"></i><i style="background:linear-gradient(#000073,#000097,#0000ae)"></i><i style="background:linear-gradient(#000074,#000098,#0000af)"></i><i style="background:linear-gradient(#000075,#00009a,#0000b1)"></i><i style="background:linear-gradient(#000076,#00008d,#00009b,#0000a7,#0000b2)"></i><i style="background:linear-gradient(#007,#00008e,#00009d,#0000a9,#0000b4)"></i><i style="background:linear-gradient(#000078,#00008f,#00009e,#00a,#0000b5)"></i><i style="background:linear-gradient(#000079,#000091,#00009f,#0000ac,#0000b7)"></i><i style="background:linear-gradient(#00007b,#000093,#0000a1,#0000ae,#0000b9)"></i><i style="background:linear-gradient(#00007d,#000095,#0000a4,#0000b0,#0000bc)"></i><i style="background:linear-gradient(#00007f,#000097,#0000a5,#0000b2,#0000bf)"></i><i style="background:linear-gradient(#00007f,#0000a6,#0000c0)"></i><i style="background:linear-gradient(#00007d,#000096,#0000a5,#0000b3,#0000c0)"></i><i style="background:linear-gradient(#00007b,#000094,#0000a4,#0000b2,#0000c0)"></i><i style="background:linear-gradient(#000078,#0000a2,#0000c0)"></i><i style="background:linear-gradient(#000073,#00008d,#00009e,#0000ae,#0000c0)"></i><i style="background:linear-gradient(#00006d,#000089,#00009a,#0000ab,#0000bf)"></i><i style="background:linear-gradient(#006,#000082,#000095,#0000a7,#0000bd)"></i><i style="background:linear-gradient(#00005d,#00008d,#0000ba)"></i><i style="background:linear-gradient(#000052,#000070,#000085,#009,#0000b5)"></i><i style="background:linear-gradient(#000049,#000067,#00007d,#000093,#0000b2)"></i><i style="background:linear-gradient(#000041,#000061,#007,#00008e,#0000b0)"></i><i style="background:linear-gradient(#00003d,#00005d,#000074,#00008c,#0000b0)"></i><i style="background:linear-gradient(#00003b,#00005c,#000073,#00008c,#0000b1)"></i><i style="background:linear-gradient(#00003c,#00005c,#000074,#00008d,#0000b2)"></i><i style="background:linear-gradient(#00003f,#00005f,#007,#00008f,#0000b4)"></i><i style="background:linear-gradient(#004,#000064,#00007b,#000093,#0000b7)"></i><i style="background:linear-gradient(#00004c,#00006b,#000082,#009,#00b)"></i><i style="background:linear-gradient(#000057,#000076,#00008b,#0000a1,#0000c0)"></i><i style="background:linear-gradient(#000064,#0000c6)"></i><i style="background:linear-gradient(#000070,#0000a0,#00c)"></i><i style="background:linear-gradient(#00007b,#000096,#0000a8,#0000ba,#0000d0)"></i><i style="background:linear-gradient(#000083,#0000ae,#0000d3)"></i><i style="background:linear-gradient(#008,#0000a2,#0000b2,#0000c2,#0000d3)"></i><i style="background:linear-gradient(#00008c,#0000a5,#0000b5,#0000c3,#0000d3)"></i><i style="background:linear-gradient(#000090,#0000b7,#0000d3)"></i><i style="background:linear-gradient(#000093,#0000ab,#0000ba,#0000c7,#0000d4)"></i><i style="background:linear-gradient(#000097,#0000ae,#0000bd,#0000ca,#0000d6)"></i><i style="background:linear-gradient(#00009a,#0000b1,#0000bf,#00c,#0000d8)"></i><i style="background:linear-gradient(#00009d,#0000c2,#0000d9)"></i><i style="background:linear-gradient(#00009f,#0000c3,#0000db)"></i><i style="background:linear-gradient(#0000a0,#0000b7,#0000c5,#0000d1,#0000dc)"></i><i style="background:linear-gradient(#0000a2,#0000c6,#00d)"></i><i style="background:linear-gradient(#0000a3,#0000c7,#0000de)"></i><i style="background:linear-gradient(#0000a4,#0000c8,#0000df)"></i><i style="background:linear-gradient(#0000a4,#00b,#0000c8,#0000d4,#0000df)"></i><i style="background:linear-gradient(#0000a5,#0000c9,#0000e0)"></i><i style="background:linear-gradient(#0000a6,#0000ca,#0000e1)"></i><i style="background:linear-gradient(#0000a7,#00c,#0000e3)"></i><i style="background:linear-gradient(#0000a8,#0000bf,#0000cd,#0000da,#0000e5)"></i><i style="background:linear-gradient(#00a,#0000cf,#0000e6)"></i><i style="background:linear-gradient(#0000ab,#0000c2,#0000d0,#0000dc,#0000e7)"></i><i style="background:linear-gradient(#0000ab,#0000c2,#0000d1,#00d,#0000e8)"></i><i style="background:linear-gradient(#0000ac,#0000c3,#0000d1,#0000de,#0000e9)"></i><i style="background:linear-gradient(#0000ac,#0000c3,#0000d2,#0000de,#0000ea)"></i><i style="background:linear-gradient(#0000ac,#0000c4,#0000d2,#0000df,#0000ea)"></i><i style="background:linear-gradient(#0000ad,#0000c4,#0000d3,#0000e0,#0000eb)"></i><i style="background:linear-gradient(#0000ae,#0000c6,#0000d4,#0000e1,#0000ec)"></i><i style="background:linear-gradient(#0000b0,#0000c7,#0000d6,#0000e3,#00e)"></i><i style="background:linear-gradient(#0000b2,#0000ca,#0000d8,#0000e5,#0000f1)"></i><i style="background:linear-gradient(#0000b3,#0000cb,#0000da,#0000e7,#0000f3)"></i><i style="background:linear-gradient(#0000b5,#0000dc,#0000f4)"></i><i style="background:linear-gradient(#0000b6,#00d,#0000f5)"></i><i style="background:linear-gradient(#0000b7,#0000cf,#0000de,#0000eb,#0000f7)"></i><i style="background:linear-gradient(#0000b8,#0000d1,#0000e0,#0000ed,#0000f9)"></i><i style="background:linear-gradient(#0000ba,#0000d2,#0000e2,#0000ef,#0000fb)"></i><i style="background:linear-gradient(#00b,#0000d4,#0000e3,#0000f0,#0000fc)"></i><i style="background:linear-gradient(#00b,#0000d4,#0000e3,#0000f0,#0000fc)"></i><i style="background:linear-gradient(#0000ba,#0000d3,#0000e3,#0000f0,#0000fc)"></i><i style="background:linear-gradient(#0000b9,#0000d2,#0000e2,#0000ef,#0000fb)"></i><i style="background:linear-gradient(#0000b9,#0000d2,#0000e2,#0000ef,#0000fb)"></i><i style="background:linear-gradient(#0000b9,#0000d2,#0000e1,#0000ef,#0000fb)"></i><i style="background:linear-gradient(#0000b9,#0000d2,#0000e2,#0000ef,#0000fb)"></i><i style="background:linear-gradient(#0000b9,#0000d2,#0000e1,#0000ef,#0000fb)"></i><i style="background:linear-gradient(#0000b8,#0000d1,#0000e1,#00e,#0000fa)"></i><i style="background:linear-gradient(#0000b8,#0000d1,#0000e1,#00e,#0000fa)"></i><i style="background:linear-gradient(#0000b8,#0000d1,#0000e1,#00e,#0000fa)"></i><i style="background:linear-gradient(#0000b9,#0000d2,#0000e1,#0000ef,#0000fb)"></i><i style="background:linear-gradient(#0000b9,#0000d2,#0000e2,#0000ef,#0000fb)"></i><i style="background:linear-gradient(#0000ba,#0000d3,#0000e3,#0000f0,#0000fc)"></i><i style="background:linear-gradient(#00b,#0000d4,#0000e3,#0000f0,#0000fc)"></i><i style="background:linear-gradient(#00b,#0000d4,#0000e3,#0000ef,#0000fc)"></i><i style="background:linear-gradient(#0000bc,#0000d4,#0000e2,#0000ed,#0000fc)"></i><i style="background:linear-gradient(#0000bd,#0000d5,#0000df,#0000e6,#0000fc)"></i><i style="background:linear-gradient(#0000bf,#0000d5,#0000d8,#0000d9,#0000fa)"></i><i style="background:linear-gradient(#0000c0,#0000cd,#0000d3,#0000d6,#00c,#0000c1,#0000c2,#0000d6,#0000f6)"></i><i style="background:linear-gradient(#0000c1,#0000c8,#00c,#0000cf,#0000d1,#0000d3,#0000d0,#0000c6,#0000bc,#0000b1,#0000a6,#00009d,#0000a4,#00a,#0000bf,#0000d7,#0000ef)"></i><i style="background:linear-gradient(#0000c1,#0000c7,#0000ca,#00c,#0000cd,#0000ce,#0000ca,#0000ba,#00a,#00009b,#00008b,#00007d,#000085,#00008d,#0000a9,#0000c8,#0000e8)"></i><i style="background:linear-gradient(#0000c0,#0000c6,#0000c8,#0000c9,#0000ca,#0000cb,#0000c5,#0000b2,#00009f,#00008c,#000079,#000069,#000072,#00007a,#00009a,#0000be,#0000e3)"></i><i style="background:linear-gradient(#0000bf,#0000c5,#0000c7,#0000c8,#0000c9,#0000ca,#0000c4,#0000b1,#00009e,#00008b,#000079,#000068,#000071,#000079,#009,#0000bd,#0000e2)"></i><i style="background:linear-gradient(#0000be,#0000c4,#0000c7,#0000c9,#0000cb,#00c,#0000c7,#0000b8,#0000a8,#009,#000089,#00007b,#000083,#00008b,#0000a6,#0000c6,#0000e6)"></i><i style="background:linear-gradient(#0000be,#0000c5,#0000c9,#0000cb,#0000ce,#0000d0,#0000cd,#0000c3,#0000b9,#0000ae,#0000a4,#00009b,#0000a2,#0000a8,#0000bd,#0000d4,#0000ec)"></i><i style="background:linear-gradient(#0000be,#0000c6,#0000cb,#0000ce,#0000d1,#0000d4,#0000d4,#0000cf,#0000ca,#0000c5,#0000c0,#00b,#0000c1,#0000c6,#0000d4,#0000e4,#0000f3)"></i><i style="background:linear-gradient(#0000bf,#0000d4,#0000d8,#0000d9,#0000f9)"></i><i style="background:linear-gradient(#0000bf,#0000d6,#0000e0,#0000e8,#0000fd)"></i><i style="background:linear-gradient(#0000c0,#0000d7,#0000e5,#0000f0,#00f)"></i><i style="background:linear-gradient(#0000c0,#0000d8,#0000e7,#0000f3,#00f)"></i><i style="background:linear-gradient(#0000bf,#0000d8,#0000e7,#0000f4,#00f)"></i><i style="background:linear-gradient(#0000be,#0000d7,#0000e6,#0000f3,#00f)"></i><i style="background:linear-gradient(#0000bd,#0000e5,#0000fd)"></i><i style="background:linear-gradient(#0000bc,#0000d4,#0000e3,#0000f0,#0000fc)"></i><i style="background:linear-gradient(#00b,#0000d4,#0000e3,#0000f0,#0000fc)"></i><i style="background:linear-gradient(#0000bc,#0000d5,#0000e4,#0000f1,#0000fd)"></i><i style="background:linear-gradient(#0000be,#0000d7,#0000e6,#0000f3,#0000fe)"></i><i style="background:linear-gradient(#0000c1,#0000d9,#0000e8,#0000f5,#00f)"></i><i style="background:linear-gradient(#0000c3,#0000db,#0000ea,#0000f7,#00f)"></i><i style="background:linear-gradient(#0000c4,#0000dc,#0000eb,#0000f8,#00f)"></i><i style="background:linear-gradient(#0000c4,#0000dc,#0000eb,#0000f8,#00f)"></i><i style="background:linear-gradient(#0000c4,#0000dc,#0000eb,#0000f8,#00f)"></i><i style="background:linear-gradient(#0000c4,#0000eb,#00f)"></i><i style="background:linear-gradient(#0000c3,#0000dc,#0000eb,#0000f7,#00f)"></i><i style="background:linear-gradient(#0000c3,#0000db,#0000eb,#0000f7,#00f)"></i><i style="background:linear-gradient(#0000c3,#0000db,#0000ea,#0000f7,#00f)"></i><i style="background:linear-gradient(#0000c3,#0000db,#0000ea,#0000f7,#00f)"></i><i style="background:linear-gradient(#0000c2,#0000da,#0000ea,#0000f6,#00f)"></i><i style="background:linear-gradient(#0000c2,#0000da,#0000e9,#0000f6,#00f)"></i><i style="background:linear-gradient(#0000c2,#0000da,#0000e9,#0000f6,#00f)"></i><i style="background:linear-gradient(#0000c1,#0000da,#0000e9,#0000f6,#00f)"></i><i style="background:linear-gradient(#0000c1,#0000d9,#0000e8,#0000f5,#00f)"></i><i style="background:linear-gradient(#0000c0,#0000d8,#0000e7,#0000f4,#00f)"></i><i style="background:linear-gradient(#0000bf,#0000d7,#0000e6,#0000f3,#00f)"></i><i style="background:linear-gradient(#0000bf,#0000d7,#0000e6,#0000f3,#00f)"></i><i style="background:linear-gradient(#0000be,#0000d7,#0000e6,#0000f3,#0000fe)"></i><i style="background:linear-gradient(#0000bd,#0000d6,#0000e5,#0000f2,#0000fd)"></i><i style="background:linear-gradient(#0000bc,#0000d5,#0000e4,#0000f1,#0000fc)"></i><i style="background:linear-gradient(#00b,#0000d4,#0000e3,#0000f0,#0000fb)"></i><i style="background:linear-gradient(#00b,#0000d3,#0000e2,#0000ef,#0000fb)"></i><i style="background:linear-gradient(#00b,#0000d3,#0000e3,#0000ef,#0000fb)"></i><i style="background:linear-gradient(#0000bc,#0000d4,#0000e3,#0000f0,#0000fc)"></i><i style="background:linear-gradient(#0000bd,#0000d5,#0000e4,#0000f1,#0000fc)"></i><i style="background:linear-gradient(#0000bd,#0000d6,#0000e5,#0000f2,#0000fd)"></i><i style="background:linear-gradient(#0000be,#0000d6,#0000e5,#0000f2,#0000fd)"></i><i style="background:linear-gradient(#0000be,#0000d7,#0000e6,#0000f3,#0000fe)"></i><i style="background:linear-gradient(#0000c0,#0000d8,#0000e7,#0000f4,#00f)"></i><i style="background:linear-gradient(#0000c2,#0000da,#0000ea,#0000f6,#00f)"></i><i style="background:linear-gradient(#0000c4,#0000dc,#0000eb,#0000f8,#00f)"></i><i style="background:linear-gradient(#0000c5,#00d,#0000ec,#0000f9,#00f)"></i><i style="background:linear-gradient(#0000c5,#00d,#0000ec,#0000f9,#00f)"></i><i style="background:linear-gradient(#0000c4,#0000dc,#0000ec,#0000f8,#00f)"></i><i style="background:linear-gradient(#0000c4,#0000dc,#0000eb,#0000f8,#00f)"></i><i style="background:linear-gradient(#0000c3,#0000dc,#0000eb,#0000f8,#00f)"></i><i style="background:linear-gradient(#0000c3,#0000db,#0000eb,#0000f7,#00f)"></i><i style="background:linear-gradient(#0000c2,#0000da,#0000e9,#0000f6,#00f)"></i><i style="background:linear-gradient(#0000c0,#0000d8,#0000e7,#0000f4,#00f)"></i><i style="background:linear-gradient(#0000bd,#0000e4,#0000fd)"></i><i style="background:linear-gradient(#0000ba,#0000d2,#0000e1,#00e,#0000fa)"></i><i style="background:linear-gradient(#0000b9,#0000d1,#0000e0,#0000ed,#0000f9)"></i><i style="background:linear-gradient(#0000b9,#0000d2,#0000e1,#00e,#0000fa)"></i><i style="background:linear-gradient(#0000ba,#0000d3,#0000e2,#0000ef,#0000fb)"></i><i style="background:linear-gradient(#00b,#0000d4,#0000e4,#0000f1,#0000fd)"></i><i style="background:linear-gradient(#0000bc,#0000d5,#0000e5,#0000f2,#0000fe)"></i><i style="background:linear-gradient(#0000bd,#0000d6,#0000e5,#0000f2,#0000fe)"></i><i style="background:linear-gradient(#0000bd,#0000d6,#0000e5,#0000f3,#00f)"></i><i style="background:linear-gradient(#0000bd,#0000d6,#0000e6,#0000f3,#00f)"></i><i style="background:linear-gradient(#0000bd,#0000d6,#0000e6,#0000f3,#00f)"></i><i style="background:linear-gradient(#0000bd,#0000d6,#0000e5,#0000f3,#00f)"></i><i style="background:linear-gradient(#00b,#0000d4,#0000e4,#0000f1,#0000fe)"></i><i style="background:linear-gradient(#0000b7,#0000d0,#0000e0,#00e,#0000fa)"></i><i style="background:linear-gradient(#0000af,#0000c9,#0000d9,#0000e6,#0000f2)"></i><i style="background:linear-gradient(#0000a3,#0000bd,#0000cd,#0000da,#0000e7)"></i><i style="background:linear-gradient(#000093,#0000ad,#0000bd,#0000ca,#0000d7)"></i><i style="background:linear-gradient(#000082,#00009b,#0000ab,#0000b9,#0000c5)"></i><i style="background:linear-gradient(#000073,#00008d,#00009d,#0000ab,#0000b7)"></i><i style="background:linear-gradient(#00006d,#000087,#000097,#0000a4,#0000b1)"></i><i style="background:linear-gradient(#000070,#00008a,#00009a,#0000a8,#0000b4)"></i><i style="background:linear-gradient(#00007c,#000096,#0000a6,#0000b4,#0000c1)"></i><i style="background:linear-gradient(#00008d,#0000a7,#0000b7,#0000c5,#0000d1)"></i><i style="background:linear-gradient(#00009c,#0000b6,#0000c7,#0000d5,#0000e1)"></i><i style="background:linear-gradient(#0000a7,#0000c1,#0000d2,#0000e0,#0000ec)"></i><i style="background:linear-gradient(#0000ae,#0000c8,#0000d8,#0000e6,#0000f3)"></i><i style="background:linear-gradient(#0000b0,#0000cb,#0000db,#0000e9,#0000f6)"></i><i style="background:linear-gradient(#0000b2,#00c,#00d,#0000eb,#0000f8)"></i><i style="background:linear-gradient(#0000b3,#0000cd,#0000de,#0000ec,#0000f9)"></i><i style="background:linear-gradient(#0000b4,#0000cf,#0000e0,#00e,#0000fb)"></i><i style="background:linear-gradient(#0000b6,#0000d1,#0000e1,#0000ef,#0000fc)"></i><i style="background:linear-gradient(#0000b7,#0000d2,#0000e3,#0000f1,#0000fe)"></i><i style="background:linear-gradient(#0000b7,#0000d2,#0000e3,#0000f1,#0000fe)"></i><i style="background:linear-gradient(#0000b7,#0000d2,#0000e3,#0000f2,#00f)"></i><i style="background:linear-gradient(#0000b8,#0000d3,#0000e4,#0000f2,#00f)"></i><i style="background:linear-gradient(#0000b7,#0000d2,#0000e4,#0000f2,#00f)"></i><i style="background:linear-gradient(#0000b4,#0000d1,#0000e3,#0000f2,#00f)"></i><i style="background:linear-gradient(#0000b1,#0000ce,#0000e1,#0000f0,#00f)"></i><i style="background:linear-gradient(#0000ad,#0000cb,#0000de,#0000ef,#0000fd)"></i><i style="background:linear-gradient(#0000a9,#0000c8,#0000dc,#0000ed,#0000fc)"></i><i style="background:linear-gradient(#0000a4,#0000c5,#0000d9,#0000eb,#0000fb)"></i><i style="background:linear-gradient(#00009f,#0000c0,#0000d6,#0000e8,#0000f9)"></i><i style="background:linear-gradient(#009,#00b,#0000d2,#0000e5,#0000f6)"></i><i style="background:linear-gradient(#000091,#0000b5,#00c,#0000e0,#0000f3)"></i><i style="background:linear-gradient(#000087,#0000ad,#0000c5,#0000da,#0000ed)"></i><i style="background:linear-gradient(#00007c,#000094,#0000a3,#0000b1,#0000bd,#0000c8,#0000d3,#00d,#0000e7)"></i><i style="background:linear-gradient(#000071,#00009a,#0000b4,#00c,#0000e2)"></i><i style="background:linear-gradient(#006,#000080,#000090,#00009f,#0000ad,#0000b9,#0000c5,#0000d1,#0000dc)"></i><i style="background:linear-gradient(#00005c,#007,#008,#000098,#0000a6,#0000b3,#0000c0,#00c,#0000d8)"></i><i style="background:linear-gradient(#000054,#00006f,#000081,#000091,#0000a0,#0000ae,#00b,#0000c8,#0000d5)"></i><i style="background:linear-gradient(#000050,#00006b,#00007d,#00008e,#00009d,#0000ab,#0000b9,#0000c6,#0000d3)"></i><i style="background:linear-gradient(#00004c,#00007a,#00009a,#0000b7,#0000d1)"></i><i style="background:linear-gradient(#000049,#007,#000098,#0000b4,#0000cf)"></i><i style="background:linear-gradient(#000047,#000063,#000076,#000086,#000096,#0000a5,#0000b3,#0000c1,#0000ce)"></i><i style="background:linear-gradient(#000047,#000075,#000095,#0000b2,#0000cd)"></i><i style="background:linear-gradient(#000049,#000064,#000076,#000087,#000096,#0000a5,#0000b3,#0000c1,#0000ce)"></i><i style="background:linear-gradient(#00004d,#000079,#009,#0000b5,#0000cf)"></i><i style="background:linear-gradient(#000052,#00007d,#00009c,#0000b7,#0000d1)"></i><i style="background:linear-gradient(#000057,#000082,#00009f,#0000ba,#0000d3)"></i><i style="background:linear-gradient(#00005c,#000085,#0000a2,#0000bc,#0000d4)"></i><i style="background:linear-gradient(#00005e,#000086,#0000a2,#00b,#0000d3)"></i><i style="background:linear-gradient(#00005c,#000083,#00009d,#0000b7,#0000cf)"></i><i style="background:linear-gradient(#000053,#000078,#000091,#0000ac,#0000c5)"></i><i style="background:linear-gradient(#000040,#000065,#00007d,#009,#0000b5)"></i><i style="background:linear-gradient(#000023,#000047,#00005e,#00007e,#00009e)"></i><i style="background:linear-gradient(#040400,#001,#00001f,#00002b,#000036,#004,#00005a,#00006f,#000080)"></i><i style="background:linear-gradient(#303000,#1c1c00,#0e0e00,#030300,#000008,#000017,#000032,#00004a,#00005d)"></i><i style="background:linear-gradient(#5c5c00,#505000,#484800,#414100,#3b3b00,#353500,#2f2f00,#2a2a00,#252500,#202000,#141400,#050500,#00000a,#000019,#000025,#000031,#00003c)"></i><i style="background:linear-gradient(#7f7f00,#737300,#6b6b00,#646400,#5e5e00,#585800,#535300,#4d4d00,#484800,#434300,#373700,#262600,#161600,#050500,#000008,#000014,#000020)"></i><i style="background:linear-gradient(#909000,#7d7d00,#707000,#656500,#5b5b00,#4a4a00,#272700,#080800,#001)"></i><i style="background:linear-gradient(#8c8c00,#787800,#6c6c00,#616100,#575700,#464600,#242400,#060600,#000013)"></i><i style="background:linear-gradient(#717100,#660,#5e5e00,#585800,#525200,#4d4d00,#474700,#424200,#3e3e00,#393900,#2e2e00,#1e1e00,#0e0e00,#000002,#00000e,#00001a,#000025)"></i><i style="background:linear-gradient(#464600,#343400,#282800,#1d1d00,#141400,#050500,#000017,#000030,#004)"></i><i style="background:linear-gradient(#181800,#050500,#000007,#000012,#00001c,#00002a,#000042,#000057,#000069)"></i><i style="background:linear-gradient(#000006,#000028,#000042,#006,#00008a)"></i><i style="background:linear-gradient(#080800,#000006,#001,#00001b,#000024,#00002e,#000038,#000041,#00004a,#000053,#00005e,#000069,#000075,#000080,#00008a,#000093,#00009c)"></i><i style="background:linear-gradient(#585800,#454500,#353500,#272700,#181800,#080800,#000007,#000017,#000026,#000035,#004,#000053,#000062,#000071,#00007e,#00008a,#000096)"></i><i style="background:linear-gradient(#e5e500,#cbcb00,#b5b500,#9f9f00,#898900,#717100,#585800,#404000,#282800,#101000,#000006,#00001b,#000030,#000045,#000057,#000069,#00007a)"></i><i style="background:linear-gradient(#ff0,#ff0,#ff0,#ff0,#ff0,#ff0,#ff0,#ff0,#ff0,#f3f300,#e2e200,#d1d100,#c1c100,#b0b000,#a0a000,#8f8f00,#7f7f00,#6f6f00,#5e5e00,#4e4e00,#414100,#330,#252500,#181800,#0a0a00,#000003,#001,#00001d,#000029,#000034,#000040,#00004b,#000056)"></i><i style="background:linear-gradient(#ff0,#ff0,#ff0,#ff0,#ff0,#ff0,#f7f700,#d1d100,#acac00,#878700,#656500,#474700,#282800,#0a0a00,#001,#00002b,#004)"></i><i style="background:linear-gradient(#ff0,#ff0,#ff0,#ff0,#ff0,#f8f800,#d4d400,#b1b100,#8e8e00,#6b6b00,#4b4b00,#2f2f00,#121200,#00000a,#000023,#00003b,#000053)"></i><i style="background:linear-gradient(#ff0,#d1d100,#a0a000,#686800,#323200,#000002,#00002f,#000058,#00007e)"></i><i style="background:linear-gradient(#545400,#3f3f00,#2e2e00,#1e1e00,#0d0d00,#000005,#000018,#00002a,#00003c,#00004e,#00005e,#00006d,#00007b,#00008a,#000097,#0000a3,#0000b0)"></i><i style="background:linear-gradient(#000039,#000093,#0000d7)"></i><i style="background:linear-gradient(#00008c,#0000c5,#0000ef)"></i><i style="background:linear-gradient(#0000b2,#00d,#0000f9)"></i><i style="background:linear-gradient(#0000c0,#0000e5,#0000fd)"></i><i style="background:linear-gradient(#0000c5,#0000e8,#0000fe)"></i><i style="background:linear-gradient(#0000c7,#0000e9,#00f)"></i><i style="background:linear-gradient(#0000c8,#0000ea,#00f)"></i><i style="background:linear-gradient(#0000c9,#0000ea,#0000fe)"></i><i style="background:linear-gradient(#0000ca,#0000ea,#0000fe)"></i><i style="background:linear-gradient(#00c,#0000eb,#00f)"></i><i style="background:linear-gradient(#00c,#0000eb,#00f)"></i><i style="background:linear-gradient(#00c,#0000ec,#00f)"></i><i style="background:linear-gradient(#0000cd,#0000ec,#00f)"></i><i style="background:linear-gradient(#0000cd,#0000ed,#00f)"></i><i style="background:linear-gradient(#0000cd,#0000ed,#00f)"></i><i style="background:linear-gradient(#0000cd,#0000ed,#00f)"></i><i style="background:linear-gradient(#0000cd,#0000ed,#00f)"></i><i style="background:linear-gradient(#0000cd,#0000ed,#00f)"></i><i style="background:linear-gradient(#0000cd,#0000ed,#00f)"></i><i style="background:linear-gradient(#0000cd,#0000ed,#00f)"></i><i style="background:linear-gradient(#0000cd,#0000ec,#00f)"></i><i style="background:linear-gradient(#00c,#0000eb,#00f)"></i><i style="background:linear-gradient(#0000cb,#0000ea,#0000fe)"></i><i style="background:linear-gradient(#0000ca,#0000e9,#0000fd)"></i><i style="background:linear-gradient(#0000ca,#0000e9,#0000fd)"></i><i style="background:linear-gradient(#0000ca,#0000e9,#0000fd)"></i><b style="background:linear-gradient(90deg,#00000010 0px 1px,#00000020 1px 2px,#00000010 2px 3px,#0000 3px 7px,#00000004 7px 8px,#0000 8px 10px,#0000001c 10px 11px,#00000024 11px 12px,#00000008 12px 13px,#0000000c 13px 14px,#00000024 14px 15px,#0000002c 15px 16px,#00000024 16px 17px,#0000002c 17px 18px,#00000004 18px 19px,#0000 19px 25px,#00000018 25px 26px,#0000 26px 29px,#0000002c 29px 30px,#00000020 30px 31px,#00000018 31px 32px,#0000 32px 33px,#00000014 33px 34px,#0000001c 34px 35px,#00000020 35px 37px,#00000014 37px 38px,#0000 38px 40px,#00000014 40px 41px,#00000030 41px 42px,#00000018 42px 43px,#00000014 43px 44px,#00000010 44px 45px,#00000028 45px 47px,#00000020 47px 48px,#0000 48px 54px,#00000014 54px 55px,#00000018 55px 56px,#00000024 56px 57px,#00000014 57px 58px,#00000024 58px 59px,#0000 59px 61px,#00000008 61px 62px,#00000020 62px 63px,#00000010 63px 65px,#00000024 65px 66px,#00000014 66px 67px,#0000 67px 69px,#0000000c 69px 70px,#0000001c 70px 71px,#00000008 71px 72px,#0000 72px 76px,#0000000c 76px 77px,#00000024 77px 78px,#00000020 78px 79px,#00000010 79px 80px,#00000008 80px 81px,#00000010 81px 82px,#0000000c 82px 83px,#00000018 83px 84px,#0000002c 84px 85px,#00000018 85px 86px,#0000 86px 89px,#00000004 89px 91px,#0000000c 91px 92px,#00000010 92px 93px,#0000 93px 95px,#0000001c 95px 96px,#0000002c 96px 97px,#00000018 97px 98px,#0000 98px 104px,#00000014 104px 105px,#0000 105px 107px,#00000014 107px 108px,#0000001c 108px 109px,#0000 109px 112px,#00000028 112px 113px,#00000034 113px 114px,#00000004 114px 115px,#0000 115px 118px,#00000028 118px 119px,#0000003c 119px 120px,#0000001c 120px 121px,#0000 121px 125px,#00000008 125px 126px,#0000000c 126px 127px,#0000 127px 131px,#00000004 131px 132px,#00000010 132px 133px,#0000 133px 136px,#00000008 136px 137px,#00000004 137px 138px,#0000 138px 144px,#0000001c 144px 145px,#00000020 145px 146px,#00000030 146px 147px,#00000024 147px 148px,#00000004 148px 149px,#0000 149px 153px,#0000000c 153px 154px,#0000002c 154px 155px,#00000038 155px 156px,#00000018 156px 157px,#0000 157px 163px,#00000014 163px 164px,#00000034 164px 165px,#00000010 165px 166px,#0000 166px 167px,#00000008 167px 168px,#0000002c 168px 169px,#00000024 169px 170px,#00000004 170px 171px,#0000 171px 173px,#00000014 173px 174px,#00000020 174px 175px,#0000 175px 182px,#00000014 182px 183px,#00000004 183px 184px,#0000 184px 204px,#00000020 204px 205px,#00000018 205px 206px,#0000 206px 219px,#00000020 219px 220px,#0000003c 220px 221px,#00000034 221px 222px,#0000000c 222px 223px,#00000024 223px 225px,#00000020 225px 227px,#00000030 227px 228px,#00000034 228px 229px,#00000028 229px 230px,#00000010 230px 231px,#0000 231px 234px,#0000000c 234px 235px,#0000 235px 243px,#0000001c 243px 244px,#00000034 244px 245px,#00000018 245px 246px,#0000 246px 248px,#0000000c 248px 249px,#00000020 249px 250px,#00000028 250px 251px,#0000 251px 255px,#00000018 255px 256px,#0000 256px 258px,#00000008 258px 259px,#00000030 259px 260px,#00000010 260px 261px,#0000 261px 262px,#0000001c 262px 263px,#00000038 263px 264px,#00000024 264px 265px,#00000018 265px 266px,#00000010 266px 267px,#0000 267px 271px,#0000000c 271px 272px,#00000018 272px 273px,#00000034 273px 274px,#0000002c 274px 275px,#00000038 275px 276px,#00000008 276px 277px,#0000 277px 279px,#0000001c 279px 280px,#00000024 280px 281px,#0000 281px 286px,#0000000c 286px 287px,#00000034 287px 288px,#00000024 288px 289px,#0000 289px 291px,#0000000c 291px 292px,#0000 292px 294px,#00000004 294px 296px,#0000 296px 304px,#00000008 304px 305px,#0000002c 305px 306px,#00000028 306px 307px,#0000 307px 308px,#00000004 308px 309px,#0000001c 309px 310px,#0000000c 310px 311px,#0000 311px 312px,#00000010 312px 313px,#0000 313px 318px,#00000004 318px 319px,#0000 319px 324px,#00000028 324px 325px,#00000010 325px 326px,#0000 326px 329px,#00000030 329px 330px,#00000018 330px 331px,#0000 331px 346px,#00000008 346px 347px,#00000004 347px 348px,#0000 348px 350px,#00000014 350px 351px,#0000002c 351px 352px,#00000040 352px 353px,#00000004 353px 354px,#0000 354px 360px,#00000010 360px 361px,#0000001c 361px 362px,#0000 362px 363px,#00000004 363px 364px,#0000 364px 366px,#00000018 366px 367px,#0000003c 367px 368px,#00000010 368px 369px,#0000 369px 371px,#00000010 371px 372px,#0000 372px 374px,#00000010 374px 375px,#00000028 375px 376px,#00000018 376px 377px,#0000 377px 390px,#0000000c 390px 391px,#00000004 391px 392px,#00000010 392px 393px,#0000 393px 394px,#00000014 394px 396px,#00000018 396px 398px,#0000 398px 403px,#00000010 403px 404px,#00000020 404px 405px,#00000028 405px 406px,#00000010 406px 407px,#0000001c 407px 408px,#00000028 408px 409px,#0000003c 409px 410px,#0000 410px 413px,#00000018 413px 414px,#00000004 414px 415px,#0000 415px 417px,#0000000c 417px 418px,#0000 418px 423px,#00000008 423px 424px,#00000010 424px 425px,#00000014 425px 426px,#00000018 426px 427px,#0000000c 427px 428px,#0000 428px 432px,#00000010 432px 434px,#0000 434px 438px,#00000008 438px 439px,#0000 439px 440px,#00000004 440px 441px,#0000001c 441px 442px,#0000 442px 448px,#0000001c 448px 449px,#00000004 449px 450px,#0000 450px 451px,#00000014 451px 452px,#00000024 452px 453px,#00000018 453px 454px,#0000 454px 457px,#00000018 457px 458px,#00000014 458px 460px,#0000 460px 463px,#00000020 463px 465px,#0000000c 465px 466px,#00000010 466px 467px,#00000024 467px 468px,#0000 468px 472px,#00000008 472px 473px,#00000010 473px 474px,#0000 474px 477px,#0000000c 477px 478px,#0000 478px 486px,#00000020 486px 487px,#00000028 487px 488px,#00000014 488px 489px,#0000 489px 493px,#0000000c 493px 494px,#00000018 494px 495px,#00000020 495px 497px,#0000 497px 498px,#00000010 498px 499px,#00000030 499px 500px,#00000044 500px 501px,#00000014 501px 502px,#0000 502px 503px,#0000000c 503px 504px,#00000004 504px 505px,#0000 505px 510px,#00000024 510px 511px,#00000054 511px 512px,#00000060 512px 513px,#00000034 513px 514px,#0000001c 514px 515px,#0000 515px 516px,#00000008 516px 517px,#00000010 517px 518px,#00000008 518px 519px,#00000020 519px 520px,#00000018 520px 521px,#0000 521px 522px,#00000004 522px 523px,#0000000c 523px 524px,#0000 524px 527px,#00000024 527px 529px,#00000038 529px 530px,#00000024 530px 531px,#00000028 531px 532px,#00000018 532px 533px,#00000004 533px 534px,#0000 534px 535px,#00000004 535px 536px,#00000008 536px 537px,#0000 537px 539px,#00000020 539px 540px,#0000001c 540px 541px,#0000 541px 547px,#00000008 547px 548px,#0000002c 548px 549px,#0000 549px 565px,#00000004 565px 566px,#0000001c 566px 567px,#00000018 567px 568px,#0000001c 568px 569px,#0000 569px 570px,#00000008 570px 571px,#0000 571px 574px,#00000018 574px 576px,#0000 576px 579px,#00000018 579px 580px,#0000003c 580px 581px,#00000014 581px 582px,#00000018 582px 583px,#00000028 583px 584px,#00000004 584px 585px,#0000 585px 591px,#00000004 591px 592px,#0000 592px 595px,#00000010 595px 596px,#00000030 596px 597px,#00000014 597px 598px,#0000 598px 601px,#00000010 601px 603px,#0000 603px 606px,#0000000c 606px 607px,#00000010 607px 608px,#00000038 608px 609px,#0000003c 609px 610px,#0000001c 610px 611px,#00000004 611px 612px,#0000002c 612px 613px,#00000030 613px 614px,#00000008 614px 615px,#0000 615px 616px,#00000004 616px 617px,#00000030 617px 618px,#00000018 618px 619px,#00000010 619px 620px,#0000 620px 621px,#0000001c 621px 622px,#00000020 622px 623px,#00000024 623px 625px,#0000000c 625px 626px,#0000 626px 628px,#00000004 628px 629px,#00000030 629px 630px,#00000034 630px 631px,#00000020 631px 632px,#0000 632px 635px,#00000010 635px 636px,#00000024 636px 637px,#0000 637px 644px,#00000004 644px 645px,#00000014 645px 646px,#0000 646px 649px,#00000028 649px 650px,#0000003c 650px 652px,#00000038 652px 653px,#00000004 653px 654px,#0000 654px 656px,#00000024 656px 657px,#0000002c 657px 658px,#00000054 658px 659px,#0000 659px 677px,#00000004 677px 678px,#0000001c 678px 679px,#0000002c 679px 680px,#0000 680px 686px,#00000024 686px 687px,#0000003c 687px 688px,#00000044 688px 690px,#00000040 690px 691px,#00000024 691px 692px,#00000008 692px 693px,#00000010 693px 695px,#0000 695px 697px,#00000014 697px 698px,#00000018 698px 699px,#0000 699px 701px,#00000014 701px 702px,#00000010 702px 703px,#0000 703px 706px,#0000000c 706px 707px,#0000 707px 710px,#00000004 710px 711px,#0000 711px 716px,#0000001c 716px 717px,#0000000c 717px 718px,#0000 718px 720px)"></b></u></div>
<svg width="2053" height="1843" viewBox="0 0 2053 1843">
<rect x="413" y="98" width="713" height="684" fill="none" stroke="#0a0a0a" stroke-width="2"/>
<path d="M448.2 782 v7 M483.9 782 v14 M519.5 782 v7 M555.2 782 v14 M590.9 782 v7 M626.6 782 v14 M662.3 782 v7 M697.9 782 v14 M733.6 782 v7 M769.3 782 v14 M805.0 782 v7 M840.7 782 v14 M876.3 782 v7 M912.0 782 v14 M947.7 782 v7 M983.4 782 v14 M1019.1 782 v7 M1054.7 782 v14 M1090.4 782 v7 M413 736.6 h-12.5 M413 645.4 h-12.5 M413 554.2 h-12.5 M413 463.0 h-12.5 M413 371.8 h-12.5 M413 280.6 h-12.5 M413 189.4 h-12.5 M413 98.2 h-12.5 M413 782.2 h-6.5 M413 691.0 h-6.5 M413 599.8 h-6.5 M413 508.6 h-6.5 M413 417.4 h-6.5 M413 326.2 h-6.5 M413 235.0 h-6.5 M413 143.8 h-6.5" stroke="#1a1a1a" stroke-width="2.3" fill="none"/>
<g fill="#1a1a1a" stroke="#1a1a1a" stroke-width=".5" font-size="31.0"><text x="483.9" y="827.3" text-anchor="middle" textLength="33.0" lengthAdjust="spacingAndGlyphs">22</text><text x="555.2" y="827.3" text-anchor="middle" textLength="33.0" lengthAdjust="spacingAndGlyphs">24</text><text x="626.6" y="827.3" text-anchor="middle" textLength="33.0" lengthAdjust="spacingAndGlyphs">26</text><text x="697.9" y="827.3" text-anchor="middle" textLength="33.0" lengthAdjust="spacingAndGlyphs">28</text><text x="769.3" y="827.3" text-anchor="middle" textLength="33.0" lengthAdjust="spacingAndGlyphs">30</text><text x="840.7" y="827.3" text-anchor="middle" textLength="33.0" lengthAdjust="spacingAndGlyphs">32</text><text x="912.0" y="827.3" text-anchor="middle" textLength="33.0" lengthAdjust="spacingAndGlyphs">34</text><text x="983.4" y="827.3" text-anchor="middle" textLength="33.0" lengthAdjust="spacingAndGlyphs">36</text><text x="1054.7" y="827.3" text-anchor="middle" textLength="33.0" lengthAdjust="spacingAndGlyphs">38</text><text x="390.4" y="745.9" text-anchor="end" textLength="41" lengthAdjust="spacingAndGlyphs">0.5</text><text x="390.4" y="654.7" text-anchor="end" textLength="41" lengthAdjust="spacingAndGlyphs">1.0</text><text x="390.4" y="563.5" text-anchor="end" textLength="41" lengthAdjust="spacingAndGlyphs">1.5</text><text x="390.4" y="472.3" text-anchor="end" textLength="41" lengthAdjust="spacingAndGlyphs">2.0</text><text x="390.4" y="381.1" text-anchor="end" textLength="41" lengthAdjust="spacingAndGlyphs">2.5</text><text x="390.4" y="289.9" text-anchor="end" textLength="41" lengthAdjust="spacingAndGlyphs">3.0</text><text x="390.4" y="198.7" text-anchor="end" textLength="41" lengthAdjust="spacingAndGlyphs">3.5</text><text x="390.4" y="107.5" text-anchor="end" textLength="41" lengthAdjust="spacingAndGlyphs">4.0</text></g>
<rect x="1291" y="102" width="709" height="681" fill="none" stroke="#0a0a0a" stroke-width="2"/>
<path d="M1325.7 783 v8 M1361.2 783 v16 M1396.7 783 v8 M1432.2 783 v16 M1467.7 783 v8 M1503.2 783 v16 M1538.7 783 v8 M1574.2 783 v16 M1609.7 783 v8 M1645.2 783 v16 M1680.7 783 v8 M1716.2 783 v16 M1751.7 783 v8 M1787.2 783 v16 M1822.7 783 v8 M1858.2 783 v16 M1893.7 783 v8 M1929.2 783 v16 M1964.7 783 v8 M1291 743.2 h-12.5 M1291 663.1 h-12.5 M1291 583.0 h-12.5 M1291 502.9 h-12.5 M1291 422.8 h-12.5 M1291 342.7 h-12.5 M1291 262.6 h-12.5 M1291 182.5 h-12.5 M1291 102.4 h-12.5 M1291 783.2 h-6 M1291 703.1 h-6 M1291 623.0 h-6 M1291 542.9 h-6 M1291 462.9 h-6 M1291 382.8 h-6 M1291 302.6 h-6 M1291 222.6 h-6 M1291 142.4 h-6" stroke="#1a1a1a" stroke-width="2.3" fill="none"/>
<g fill="#1a1a1a" stroke="#1a1a1a" stroke-width=".5" font-size="31.0"><text x="1361.2" y="828.5" text-anchor="middle" textLength="33.0" lengthAdjust="spacingAndGlyphs">22</text><text x="1432.2" y="828.5" text-anchor="middle" textLength="33.0" lengthAdjust="spacingAndGlyphs">24</text><text x="1503.2" y="828.5" text-anchor="middle" textLength="33.0" lengthAdjust="spacingAndGlyphs">26</text><text x="1574.2" y="828.5" text-anchor="middle" textLength="33.0" lengthAdjust="spacingAndGlyphs">28</text><text x="1645.2" y="828.5" text-anchor="middle" textLength="33.0" lengthAdjust="spacingAndGlyphs">30</text><text x="1716.2" y="828.5" text-anchor="middle" textLength="33.0" lengthAdjust="spacingAndGlyphs">32</text><text x="1787.2" y="828.5" text-anchor="middle" textLength="33.0" lengthAdjust="spacingAndGlyphs">34</text><text x="1858.2" y="828.5" text-anchor="middle" textLength="33.0" lengthAdjust="spacingAndGlyphs">36</text><text x="1929.2" y="828.5" text-anchor="middle" textLength="33.0" lengthAdjust="spacingAndGlyphs">38</text><text x="1269.0" y="752.5" text-anchor="end" textLength="41" lengthAdjust="spacingAndGlyphs">0.5</text><text x="1269.0" y="672.4" text-anchor="end" textLength="41" lengthAdjust="spacingAndGlyphs">1.0</text><text x="1269.0" y="592.3" text-anchor="end" textLength="41" lengthAdjust="spacingAndGlyphs">1.5</text><text x="1269.0" y="512.2" text-anchor="end" textLength="41" lengthAdjust="spacingAndGlyphs">2.0</text><text x="1269.0" y="432.1" text-anchor="end" textLength="41" lengthAdjust="spacingAndGlyphs">2.5</text><text x="1269.0" y="352.0" text-anchor="end" textLength="41" lengthAdjust="spacingAndGlyphs">3.0</text><text x="1269.0" y="271.9" text-anchor="end" textLength="41" lengthAdjust="spacingAndGlyphs">3.5</text><text x="1269.0" y="191.8" text-anchor="end" textLength="41" lengthAdjust="spacingAndGlyphs">4.0</text><text x="1269.0" y="111.7" text-anchor="end" textLength="41" lengthAdjust="spacingAndGlyphs">4.5</text></g>
<rect x="428" y="1033" width="718" height="689" fill="none" stroke="#0a0a0a" stroke-width="2"/>
<path d="M428.5 1722 v15 M464.4 1722 v7.5 M500.2 1722 v15 M536.0 1722 v7.5 M571.9 1722 v15 M607.8 1722 v7.5 M643.6 1722 v15 M679.5 1722 v7.5 M715.3 1722 v15 M751.2 1722 v7.5 M787.0 1722 v15 M822.9 1722 v7.5 M858.7 1722 v15 M894.5 1722 v7.5 M930.4 1722 v15 M966.2 1722 v7.5 M1002.1 1722 v15 M1038.0 1722 v7.5 M1073.8 1722 v15 M1109.7 1722 v7.5 M1145.5 1722 v15 M428 1681.2 h-12 M428 1600.2 h-12 M428 1519.2 h-12 M428 1438.2 h-12 M428 1357.2 h-12 M428 1276.2 h-12 M428 1195.2 h-12 M428 1114.2 h-12 M428 1033.2 h-12 M428 1721.7 h-6 M428 1640.7 h-6 M428 1559.7 h-6 M428 1478.7 h-6 M428 1397.7 h-6 M428 1316.7 h-6 M428 1235.7 h-6 M428 1154.7 h-6 M428 1073.7 h-6" stroke="#1a1a1a" stroke-width="2.3" fill="none"/>
<g fill="#1a1a1a" stroke="#1a1a1a" stroke-width=".5" font-size="31.0"><text x="428.5" y="1767.0" text-anchor="middle" textLength="33.0" lengthAdjust="spacingAndGlyphs">20</text><text x="500.2" y="1767.0" text-anchor="middle" textLength="33.0" lengthAdjust="spacingAndGlyphs">22</text><text x="571.9" y="1767.0" text-anchor="middle" textLength="33.0" lengthAdjust="spacingAndGlyphs">24</text><text x="643.6" y="1767.0" text-anchor="middle" textLength="33.0" lengthAdjust="spacingAndGlyphs">26</text><text x="715.3" y="1767.0" text-anchor="middle" textLength="33.0" lengthAdjust="spacingAndGlyphs">28</text><text x="787.0" y="1767.0" text-anchor="middle" textLength="33.0" lengthAdjust="spacingAndGlyphs">30</text><text x="858.7" y="1767.0" text-anchor="middle" textLength="33.0" lengthAdjust="spacingAndGlyphs">32</text><text x="930.4" y="1767.0" text-anchor="middle" textLength="33.0" lengthAdjust="spacingAndGlyphs">34</text><text x="1002.1" y="1767.0" text-anchor="middle" textLength="33.0" lengthAdjust="spacingAndGlyphs">36</text><text x="1073.8" y="1767.0" text-anchor="middle" textLength="33.0" lengthAdjust="spacingAndGlyphs">38</text><text x="1145.5" y="1767.0" text-anchor="middle" textLength="33.0" lengthAdjust="spacingAndGlyphs">40</text><text x="406.4" y="1690.5" text-anchor="end" textLength="41" lengthAdjust="spacingAndGlyphs">0.5</text><text x="406.4" y="1609.5" text-anchor="end" textLength="41" lengthAdjust="spacingAndGlyphs">1.0</text><text x="406.4" y="1528.5" text-anchor="end" textLength="41" lengthAdjust="spacingAndGlyphs">1.5</text><text x="406.4" y="1447.5" text-anchor="end" textLength="41" lengthAdjust="spacingAndGlyphs">2.0</text><text x="406.4" y="1366.5" text-anchor="end" textLength="41" lengthAdjust="spacingAndGlyphs">2.5</text><text x="406.4" y="1285.5" text-anchor="end" textLength="41" lengthAdjust="spacingAndGlyphs">3.0</text><text x="406.4" y="1204.5" text-anchor="end" textLength="41" lengthAdjust="spacingAndGlyphs">3.5</text><text x="406.4" y="1123.5" text-anchor="end" textLength="41" lengthAdjust="spacingAndGlyphs">4.0</text><text x="406.4" y="1042.5" text-anchor="end" textLength="41" lengthAdjust="spacingAndGlyphs">4.5</text></g>
<rect x="1291" y="1035" width="720" height="690" fill="none" stroke="#0a0a0a" stroke-width="2"/>
<path d="M1327.3 1725 v7.5 M1363.2 1725 v15 M1399.2 1725 v7.5 M1435.2 1725 v15 M1471.1 1725 v7.5 M1507.1 1725 v15 M1543.1 1725 v7.5 M1579.1 1725 v15 M1615.0 1725 v7.5 M1651.0 1725 v15 M1687.0 1725 v7.5 M1722.9 1725 v15 M1758.9 1725 v7.5 M1794.9 1725 v15 M1830.8 1725 v7.5 M1866.8 1725 v15 M1902.8 1725 v7.5 M1938.8 1725 v15 M1974.7 1725 v7.5 M1291 1684.1 h-12.3 M1291 1603.0 h-12.3 M1291 1521.8 h-12.3 M1291 1440.7 h-12.3 M1291 1359.6 h-12.3 M1291 1278.5 h-12.3 M1291 1197.3 h-12.3 M1291 1116.2 h-12.3 M1291 1035.1 h-12.3 M1291 1724.7 h-6 M1291 1643.5 h-6 M1291 1562.4 h-6 M1291 1481.3 h-6 M1291 1400.2 h-6 M1291 1319.0 h-6 M1291 1237.9 h-6 M1291 1156.8 h-6 M1291 1075.7 h-6" stroke="#1a1a1a" stroke-width="2.3" fill="none"/>
<g fill="#1a1a1a" stroke="#1a1a1a" stroke-width=".5" font-size="31.0"><text x="1363.2" y="1770.4" text-anchor="middle" textLength="33.0" lengthAdjust="spacingAndGlyphs">22</text><text x="1435.2" y="1770.4" text-anchor="middle" textLength="33.0" lengthAdjust="spacingAndGlyphs">24</text><text x="1507.1" y="1770.4" text-anchor="middle" textLength="33.0" lengthAdjust="spacingAndGlyphs">26</text><text x="1579.1" y="1770.4" text-anchor="middle" textLength="33.0" lengthAdjust="spacingAndGlyphs">28</text><text x="1651.0" y="1770.4" text-anchor="middle" textLength="33.0" lengthAdjust="spacingAndGlyphs">30</text><text x="1722.9" y="1770.4" text-anchor="middle" textLength="33.0" lengthAdjust="spacingAndGlyphs">32</text><text x="1794.9" y="1770.4" text-anchor="middle" textLength="33.0" lengthAdjust="spacingAndGlyphs">34</text><text x="1866.8" y="1770.4" text-anchor="middle" textLength="33.0" lengthAdjust="spacingAndGlyphs">36</text><text x="1938.8" y="1770.4" text-anchor="middle" textLength="33.0" lengthAdjust="spacingAndGlyphs">38</text><text x="1269.0" y="1693.4" text-anchor="end" textLength="41" lengthAdjust="spacingAndGlyphs">0.5</text><text x="1269.0" y="1612.3" text-anchor="end" textLength="41" lengthAdjust="spacingAndGlyphs">1.0</text><text x="1269.0" y="1531.1" text-anchor="end" textLength="41" lengthAdjust="spacingAndGlyphs">1.5</text><text x="1269.0" y="1450.0" text-anchor="end" textLength="41" lengthAdjust="spacingAndGlyphs">2.0</text><text x="1269.0" y="1368.9" text-anchor="end" textLength="41" lengthAdjust="spacingAndGlyphs">2.5</text><text x="1269.0" y="1287.8" text-anchor="end" textLength="41" lengthAdjust="spacingAndGlyphs">3.0</text><text x="1269.0" y="1206.6" text-anchor="end" textLength="41" lengthAdjust="spacingAndGlyphs">3.5</text><text x="1269.0" y="1125.5" text-anchor="end" textLength="41" lengthAdjust="spacingAndGlyphs">4.0</text><text x="1269.0" y="1044.4" text-anchor="end" textLength="41" lengthAdjust="spacingAndGlyphs">4.5</text></g>
<text x="674.3" y="881.6" font-size="36.0" fill="#1a1a1a" textLength="189.0" lengthAdjust="spacingAndGlyphs" stroke="#1a1a1a" stroke-width=".5">2theta (deg)</text>
<text x="1554.0" y="882.1" font-size="36.0" fill="#1a1a1a" textLength="182.5" lengthAdjust="spacingAndGlyphs" stroke="#1a1a1a" stroke-width=".5">2theta(deg)</text>
<text x="696.5" y="1821.6" font-size="36.0" fill="#1a1a1a" textLength="180.5" lengthAdjust="spacingAndGlyphs" stroke="#1a1a1a" stroke-width=".5">2theta(deg)</text>
<text x="1559.9" y="1825.3" font-size="36.0" fill="#1a1a1a" textLength="180.6" lengthAdjust="spacingAndGlyphs" stroke="#1a1a1a" stroke-width=".5">2tetha(deg)</text>
<text x="326.0" y="539.0" font-size="36.0" fill="#1a1a1a" textLength="198.6" lengthAdjust="spacingAndGlyphs" transform="rotate(-90 326.0 539.0)" stroke="#1a1a1a" stroke-width=".5">Omega(deg)</text>
<text x="1202.0" y="542.0" font-size="36.0" fill="#1a1a1a" textLength="198.0" lengthAdjust="spacingAndGlyphs" transform="rotate(-90 1202.0 542.0)" stroke="#1a1a1a" stroke-width=".5">Omega(deg)</text>
<text x="343.0" y="1477.0" font-size="36.0" fill="#1a1a1a" textLength="198.0" lengthAdjust="spacingAndGlyphs" transform="rotate(-90 343.0 1477.0)" stroke="#1a1a1a" stroke-width=".5">Omega(deg)</text>
<text x="1204.0" y="1479.4" font-size="36.0" fill="#1a1a1a" textLength="198.5" lengthAdjust="spacingAndGlyphs" transform="rotate(-90 1204.0 1479.4)" stroke="#1a1a1a" stroke-width=".5">Omega(deg)</text>
<text x="193.5" y="57.5" font-size="63.0" class="b" textLength="52.0" lengthAdjust="spacingAndGlyphs">a)</text>
<text x="1169.5" y="57.5" font-size="64.0" class="b" textLength="55.5" lengthAdjust="spacingAndGlyphs">b)</text>
<text x="193.5" y="1012.2" font-size="63.0" class="b" textLength="48.0" lengthAdjust="spacingAndGlyphs">c)</text>
<text x="1169.5" y="1012.5" font-size="64.0" class="b" textLength="55.5" lengthAdjust="spacingAndGlyphs">d)</text>
<text x="521.4" y="44.0" font-size="38.4" class="b" textLength="244.5" lengthAdjust="spacingAndGlyphs">Anatase (101)</text>
<text x="872.4" y="47.2" font-size="38.4" class="b" textLength="224.6" lengthAdjust="spacingAndGlyphs">Titanium foil</text>
<text x="1390.5" y="48.1" font-size="38.4" class="b" textLength="244.2" lengthAdjust="spacingAndGlyphs">Anatase (101)</text>
<text x="1740.3" y="43.6" font-size="38.4" class="b" textLength="225.1" lengthAdjust="spacingAndGlyphs">Titanium foil</text>
<text x="552.0" y="972.8" font-size="38.4" class="b" textLength="244.8" lengthAdjust="spacingAndGlyphs">Anatase (101)</text>
<text x="856.0" y="971.5" font-size="38.4" class="b" textLength="224.4" lengthAdjust="spacingAndGlyphs">Titanium foil</text>
<text x="1409.0" y="969.0" font-size="38.4" class="b" textLength="244.6" lengthAdjust="spacingAndGlyphs">Anatase (101)</text>
<text x="1738.6" y="968.2" font-size="38.4" class="b" textLength="225.2" lengthAdjust="spacingAndGlyphs">Titanium foil</text>
<text x="67.7" y="197.7" font-size="38.4" class="b" textLength="142.1" lengthAdjust="spacingAndGlyphs">1.25 µm</text>
<text x="74.3" y="570.4" font-size="38.4" class="b" textLength="131.5" lengthAdjust="spacingAndGlyphs">480 nm</text>
<text x="75.7" y="750.0" font-size="38.4" class="b" textLength="130.1" lengthAdjust="spacingAndGlyphs">130 nm</text>
<text x="41.3" y="610.8" font-size="38.4" class="b" textLength="342.4" lengthAdjust="spacingAndGlyphs" transform="rotate(-90 41.3 610.8)">Increasing of depth</text>
<text x="368.5" y="865" font-size="27" class="b" textLength="228.5" lengthAdjust="spacingAndGlyphs">Amorphous TiO<tspan font-size="17" dy="5">2</tspan></text>
<text x="436.7" y="904.2" font-size="27.0" class="b" textLength="92.5" lengthAdjust="spacingAndGlyphs">Region</text>
<text x="1580.4" y="232.0" font-size="38.4" class="b" fill="#ff0000" textLength="101.6" lengthAdjust="spacingAndGlyphs">Rutile</text>
<text x="726.0" y="1162.0" font-size="38.4" class="b" fill="#ff0000" textLength="102.0" lengthAdjust="spacingAndGlyphs">Rutile</text>
<text x="1587.8" y="1162.0" font-size="38.4" class="b" fill="#ff0000" textLength="103.4" lengthAdjust="spacingAndGlyphs">Rutile</text>
<text x="800.0" y="1579.4" font-size="38.4" class="b" fill="#ff0000" textLength="245.5" lengthAdjust="spacingAndGlyphs">Anatase (103)</text>
<text x="948.6" y="1825.3" font-size="38.4" class="b" fill="#ff0000" textLength="244.7" lengthAdjust="spacingAndGlyphs">Anatase (004)</text>
<text x="1662.3" y="1579.9" font-size="38.4" class="b" fill="#ff0000" textLength="245.2" lengthAdjust="spacingAndGlyphs">Anatase (103)</text>
<text x="1804.0" y="1828.6" font-size="38.4" class="b" fill="#ff0000" textLength="244.8" lengthAdjust="spacingAndGlyphs">Anatase (004)</text>
<polygon fill="#000" points="596.3,54.7 596.3,71.5 590.3,71.5 599.8,90.5 609.3,71.5 603.3,71.5 603.3,54.7"/>
<polygon fill="#000" points="953.5,57.0 953.5,73.8 947.5,73.8 957.0,92.8 966.5,73.8 960.5,73.8 960.5,57.0"/>
<polygon fill="#000" points="1075.0,57.0 1075.0,73.8 1069.0,73.8 1078.5,92.8 1088.0,73.8 1082.0,73.8 1082.0,57.0"/>
<polygon fill="#000" points="1465.9,56.0 1465.9,72.8 1459.9,72.8 1469.4,91.8 1478.9,72.8 1472.9,72.8 1472.9,56.0"/>
<polygon fill="#000" points="1822.2,54.0 1822.2,71.5 1816.2,71.5 1825.7,90.5 1835.2,71.5 1829.2,71.5 1829.2,54.0"/>
<polygon fill="#000" points="1941.1,54.0 1941.1,71.5 1935.1,71.5 1944.6,90.5 1954.1,71.5 1948.1,71.5 1948.1,54.0"/>
<polygon fill="#000" points="612.2,990.0 612.2,1007.3 606.2,1007.3 615.7,1026.3 625.2,1007.3 619.2,1007.3 619.2,990.0"/>
<polygon fill="#000" points="972.1,990.0 972.1,1008.0 966.1,1008.0 975.6,1027.0 985.1,1008.0 979.1,1008.0 979.1,990.0"/>
<polygon fill="#000" points="1086.3,992.5 1086.3,1010.5 1080.3,1010.5 1089.8,1029.5 1099.3,1010.5 1093.3,1010.5 1093.3,992.5"/>
<polygon fill="#000" points="1473.8,988.3 1473.8,1005.0 1467.8,1005.0 1477.3,1024.0 1486.8,1005.0 1480.8,1005.0 1480.8,988.3"/>
<polygon fill="#000" points="1833.8,990.5 1833.8,1008.0 1827.8,1008.0 1837.3,1027.0 1846.8,1008.0 1840.8,1008.0 1840.8,990.5"/>
<polygon fill="#000" points="1950.3,990.5 1950.3,1008.0 1944.3,1008.0 1953.8,1027.0 1963.3,1008.0 1957.3,1008.0 1957.3,990.5"/>
<polygon fill="#000" points="451.8,838.7 451.8,803.7 457.9,803.7 448.3,782.7 438.7,803.7 444.8,803.7 444.8,838.7"/>
<polygon fill="#ff0000" points="1675.5,267.1 1579.5,267.1 1579.5,260.9 1559.5,270.9 1579.5,280.9 1579.5,274.6 1675.5,274.6"/>
<polygon fill="#ff0000" points="822.0,1196.0 725.5,1196.0 725.5,1189.7 705.5,1199.7 725.5,1209.7 725.5,1203.5 822.0,1203.5"/>
<polygon fill="#ff0000" points="1684.5,1196.2 1586.9,1196.2 1586.9,1190.0 1566.9,1200.0 1586.9,1210.0 1586.9,1203.8 1684.5,1203.8"/>
<polygon fill="#ff0000" points="1022.1,1529.7 1035.0,1377.9 1041.3,1378.5 1033.0,1357.7 1021.3,1376.8 1027.6,1377.3 1014.7,1529.1"/>
<polygon fill="#ff0000" points="1884.7,1529.6 1897.6,1377.8 1903.8,1378.4 1895.5,1357.6 1883.9,1376.7 1890.1,1377.2 1877.3,1529.0"/>
<polygon fill="#ff0000" points="1071.5,1781.4 1071.5,1627.8 1077.7,1627.8 1067.7,1607.8 1057.7,1627.8 1064.0,1627.8 1064.0,1781.4"/>
<polygon fill="#ff0000" points="1933.0,1781.4 1933.0,1627.8 1939.2,1627.8 1929.2,1607.8 1919.2,1627.8 1925.5,1627.8 1925.5,1781.4"/>
<path d="M254.2 119.2 V783.4" stroke="#000" stroke-width="5.2" stroke-dasharray="17.8 14.7" fill="none"/>
<polygon points="247.3,107.7 261.1,107.7 254.2,93.4" fill="#000"/>
<rect x="217.7" y="182.9" width="121.3" height="7" fill="#1d9ad8"/>
<rect x="217.7" y="553.5" width="121.3" height="7" fill="#1d9ad8"/>
<rect x="217.7" y="732.3" width="121.3" height="7" fill="#1d9ad8"/>
</svg>
</body></html>
